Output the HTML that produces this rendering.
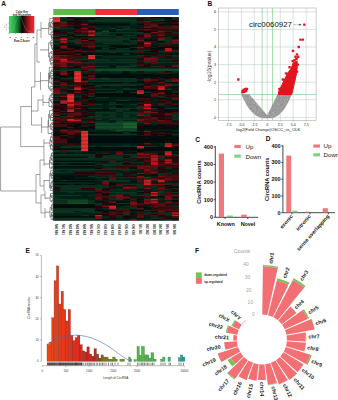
<!DOCTYPE html>
<html><head><meta charset="utf-8"><title>Figure</title>
<style>html,body{margin:0;padding:0;background:#fff;}body{width:338px;height:400px;overflow:hidden;}svg{display:block;}</style>
</head><body>
<svg width="338" height="400" viewBox="0 0 338 400">
<defs>
<filter id="bl" x="-2%" y="-2%" width="104%" height="104%"><feGaussianBlur stdDeviation="0.6"/></filter>
<linearGradient id="ck" x1="0" x2="1" y1="0" y2="0"><stop offset="0" stop-color="#4ad466"/><stop offset="0.2" stop-color="#2bb04a"/><stop offset="0.4" stop-color="#116024"/><stop offset="0.52" stop-color="#050505"/><stop offset="0.7" stop-color="#7a1014"/><stop offset="0.88" stop-color="#e01c24"/><stop offset="1" stop-color="#f02830"/></linearGradient>
</defs>
<rect width="338" height="400" fill="#fff"/>
<g filter="url(#bl)">
<rect x="53.3" y="17.0" width="125.50" height="203.50" fill="#0a1e12"/>
<rect x="53.30" y="17.00" width="7.02" height="1.41" fill="rgb(240, 46, 48)"/>
<rect x="60.27" y="17.00" width="7.02" height="1.41" fill="rgb(8, 50, 33)"/>
<rect x="67.24" y="17.00" width="7.02" height="1.41" fill="rgb(42, 6, 10)"/>
<rect x="74.22" y="17.00" width="20.97" height="1.41" fill="rgb(8, 50, 33)"/>
<rect x="95.13" y="17.00" width="7.02" height="1.41" fill="rgb(6, 33, 23)"/>
<rect x="102.11" y="17.00" width="41.88" height="1.41" fill="rgb(8, 50, 33)"/>
<rect x="143.94" y="17.00" width="7.02" height="1.41" fill="rgb(78, 10, 15)"/>
<rect x="150.91" y="17.00" width="7.02" height="1.41" fill="rgb(42, 6, 10)"/>
<rect x="157.88" y="17.00" width="7.02" height="1.41" fill="rgb(4, 10, 8)"/>
<rect x="164.86" y="17.00" width="7.02" height="1.41" fill="rgb(42, 6, 10)"/>
<rect x="171.83" y="17.00" width="7.02" height="1.41" fill="rgb(8, 50, 33)"/>
<rect x="53.30" y="18.36" width="7.02" height="1.41" fill="rgb(240, 46, 48)"/>
<rect x="60.27" y="18.36" width="7.02" height="1.41" fill="rgb(8, 50, 33)"/>
<rect x="67.24" y="18.36" width="7.02" height="1.41" fill="rgb(78, 10, 15)"/>
<rect x="74.22" y="18.36" width="7.02" height="1.41" fill="rgb(4, 10, 8)"/>
<rect x="81.19" y="18.36" width="7.02" height="1.41" fill="rgb(42, 6, 10)"/>
<rect x="88.16" y="18.36" width="7.02" height="1.41" fill="rgb(4, 10, 8)"/>
<rect x="95.13" y="18.36" width="41.88" height="1.41" fill="rgb(8, 50, 33)"/>
<rect x="136.97" y="18.36" width="7.02" height="1.41" fill="rgb(42, 6, 10)"/>
<rect x="143.94" y="18.36" width="7.02" height="1.41" fill="rgb(8, 50, 33)"/>
<rect x="150.91" y="18.36" width="7.02" height="1.41" fill="rgb(78, 10, 15)"/>
<rect x="157.88" y="18.36" width="7.02" height="1.41" fill="rgb(8, 50, 33)"/>
<rect x="164.86" y="18.36" width="7.02" height="1.41" fill="rgb(4, 10, 8)"/>
<rect x="171.83" y="18.36" width="7.02" height="1.41" fill="rgb(8, 50, 33)"/>
<rect x="53.30" y="19.71" width="7.02" height="1.41" fill="rgb(240, 46, 48)"/>
<rect x="60.27" y="19.71" width="13.99" height="1.41" fill="rgb(6, 33, 23)"/>
<rect x="74.22" y="19.71" width="7.02" height="1.41" fill="rgb(42, 6, 10)"/>
<rect x="81.19" y="19.71" width="7.02" height="1.41" fill="rgb(6, 33, 23)"/>
<rect x="88.16" y="19.71" width="48.86" height="1.41" fill="rgb(8, 50, 33)"/>
<rect x="136.97" y="19.71" width="7.02" height="1.41" fill="rgb(42, 6, 10)"/>
<rect x="143.94" y="19.71" width="7.02" height="1.41" fill="rgb(6, 33, 23)"/>
<rect x="150.91" y="19.71" width="13.99" height="1.41" fill="rgb(8, 50, 33)"/>
<rect x="164.86" y="19.71" width="7.02" height="1.41" fill="rgb(6, 33, 23)"/>
<rect x="171.83" y="19.71" width="7.02" height="1.41" fill="rgb(42, 6, 10)"/>
<rect x="53.30" y="21.07" width="7.02" height="1.41" fill="rgb(240, 46, 48)"/>
<rect x="60.27" y="21.07" width="7.02" height="1.41" fill="rgb(8, 50, 33)"/>
<rect x="67.24" y="21.07" width="7.02" height="1.41" fill="rgb(4, 10, 8)"/>
<rect x="74.22" y="21.07" width="13.99" height="1.41" fill="rgb(42, 6, 10)"/>
<rect x="88.16" y="21.07" width="48.86" height="1.41" fill="rgb(8, 50, 33)"/>
<rect x="136.97" y="21.07" width="7.02" height="1.41" fill="rgb(78, 10, 15)"/>
<rect x="143.94" y="21.07" width="7.02" height="1.41" fill="rgb(128, 14, 20)"/>
<rect x="150.91" y="21.07" width="13.99" height="1.41" fill="rgb(42, 6, 10)"/>
<rect x="164.86" y="21.07" width="7.02" height="1.41" fill="rgb(4, 10, 8)"/>
<rect x="171.83" y="21.07" width="7.02" height="1.41" fill="rgb(42, 6, 10)"/>
<rect x="53.30" y="22.43" width="7.02" height="1.41" fill="rgb(42, 6, 10)"/>
<rect x="60.27" y="22.43" width="7.02" height="1.41" fill="rgb(128, 14, 20)"/>
<rect x="67.24" y="22.43" width="7.02" height="1.41" fill="rgb(42, 6, 10)"/>
<rect x="74.22" y="22.43" width="7.02" height="1.41" fill="rgb(4, 10, 8)"/>
<rect x="81.19" y="22.43" width="13.99" height="1.41" fill="rgb(42, 6, 10)"/>
<rect x="95.13" y="22.43" width="34.91" height="1.41" fill="rgb(6, 33, 23)"/>
<rect x="129.99" y="22.43" width="7.02" height="1.41" fill="rgb(8, 50, 33)"/>
<rect x="136.97" y="22.43" width="7.02" height="1.41" fill="rgb(6, 33, 23)"/>
<rect x="143.94" y="22.43" width="7.02" height="1.41" fill="rgb(78, 10, 15)"/>
<rect x="150.91" y="22.43" width="7.02" height="1.41" fill="rgb(6, 33, 23)"/>
<rect x="157.88" y="22.43" width="7.02" height="1.41" fill="rgb(78, 10, 15)"/>
<rect x="164.86" y="22.43" width="7.02" height="1.41" fill="rgb(6, 33, 23)"/>
<rect x="171.83" y="22.43" width="7.02" height="1.41" fill="rgb(78, 10, 15)"/>
<rect x="53.30" y="23.78" width="13.99" height="1.41" fill="rgb(78, 10, 15)"/>
<rect x="67.24" y="23.78" width="13.99" height="1.41" fill="rgb(42, 6, 10)"/>
<rect x="81.19" y="23.78" width="7.02" height="1.41" fill="rgb(128, 14, 20)"/>
<rect x="88.16" y="23.78" width="41.88" height="1.41" fill="rgb(4, 10, 8)"/>
<rect x="129.99" y="23.78" width="7.02" height="1.41" fill="rgb(6, 33, 23)"/>
<rect x="136.97" y="23.78" width="7.02" height="1.41" fill="rgb(4, 10, 8)"/>
<rect x="143.94" y="23.78" width="13.99" height="1.41" fill="rgb(78, 10, 15)"/>
<rect x="157.88" y="23.78" width="20.97" height="1.41" fill="rgb(4, 10, 8)"/>
<rect x="53.30" y="25.14" width="7.02" height="1.41" fill="rgb(78, 10, 15)"/>
<rect x="60.27" y="25.14" width="7.02" height="1.41" fill="rgb(128, 14, 20)"/>
<rect x="67.24" y="25.14" width="7.02" height="1.41" fill="rgb(78, 10, 15)"/>
<rect x="74.22" y="25.14" width="7.02" height="1.41" fill="rgb(42, 6, 10)"/>
<rect x="81.19" y="25.14" width="7.02" height="1.41" fill="rgb(6, 33, 23)"/>
<rect x="88.16" y="25.14" width="7.02" height="1.41" fill="rgb(42, 6, 10)"/>
<rect x="95.13" y="25.14" width="55.83" height="1.41" fill="rgb(6, 33, 23)"/>
<rect x="150.91" y="25.14" width="7.02" height="1.41" fill="rgb(128, 14, 20)"/>
<rect x="157.88" y="25.14" width="7.02" height="1.41" fill="rgb(42, 6, 10)"/>
<rect x="164.86" y="25.14" width="7.02" height="1.41" fill="rgb(6, 33, 23)"/>
<rect x="171.83" y="25.14" width="7.02" height="1.41" fill="rgb(78, 10, 15)"/>
<rect x="53.30" y="26.50" width="7.02" height="1.41" fill="rgb(128, 14, 20)"/>
<rect x="60.27" y="26.50" width="7.02" height="1.41" fill="rgb(78, 10, 15)"/>
<rect x="67.24" y="26.50" width="7.02" height="1.41" fill="rgb(6, 33, 23)"/>
<rect x="74.22" y="26.50" width="7.02" height="1.41" fill="rgb(4, 10, 8)"/>
<rect x="81.19" y="26.50" width="7.02" height="1.41" fill="rgb(6, 33, 23)"/>
<rect x="88.16" y="26.50" width="7.02" height="1.41" fill="rgb(78, 10, 15)"/>
<rect x="95.13" y="26.50" width="20.97" height="1.41" fill="rgb(6, 33, 23)"/>
<rect x="116.05" y="26.50" width="13.99" height="1.41" fill="rgb(8, 50, 33)"/>
<rect x="129.99" y="26.50" width="13.99" height="1.41" fill="rgb(6, 33, 23)"/>
<rect x="143.94" y="26.50" width="7.02" height="1.41" fill="rgb(128, 14, 20)"/>
<rect x="150.91" y="26.50" width="20.97" height="1.41" fill="rgb(78, 10, 15)"/>
<rect x="171.83" y="26.50" width="7.02" height="1.41" fill="rgb(128, 14, 20)"/>
<rect x="53.30" y="27.85" width="20.97" height="1.41" fill="rgb(8, 50, 33)"/>
<rect x="74.22" y="27.85" width="7.02" height="1.41" fill="rgb(42, 6, 10)"/>
<rect x="81.19" y="27.85" width="7.02" height="1.41" fill="rgb(128, 14, 20)"/>
<rect x="88.16" y="27.85" width="7.02" height="1.41" fill="rgb(42, 6, 10)"/>
<rect x="95.13" y="27.85" width="7.02" height="1.41" fill="rgb(8, 50, 33)"/>
<rect x="102.11" y="27.85" width="7.02" height="1.41" fill="rgb(6, 33, 23)"/>
<rect x="109.08" y="27.85" width="7.02" height="1.41" fill="rgb(8, 50, 33)"/>
<rect x="116.05" y="27.85" width="7.02" height="1.41" fill="rgb(4, 10, 8)"/>
<rect x="123.02" y="27.85" width="7.02" height="1.41" fill="rgb(8, 50, 33)"/>
<rect x="129.99" y="27.85" width="7.02" height="1.41" fill="rgb(6, 33, 23)"/>
<rect x="136.97" y="27.85" width="20.97" height="1.41" fill="rgb(42, 6, 10)"/>
<rect x="157.88" y="27.85" width="20.97" height="1.41" fill="rgb(78, 10, 15)"/>
<rect x="53.30" y="29.21" width="20.97" height="1.41" fill="rgb(6, 33, 23)"/>
<rect x="74.22" y="29.21" width="7.02" height="1.41" fill="rgb(78, 10, 15)"/>
<rect x="81.19" y="29.21" width="13.99" height="1.41" fill="rgb(42, 6, 10)"/>
<rect x="95.13" y="29.21" width="20.97" height="1.41" fill="rgb(6, 33, 23)"/>
<rect x="116.05" y="29.21" width="7.02" height="1.41" fill="rgb(16, 76, 42)"/>
<rect x="123.02" y="29.21" width="13.99" height="1.41" fill="rgb(8, 50, 33)"/>
<rect x="136.97" y="29.21" width="7.02" height="1.41" fill="rgb(78, 10, 15)"/>
<rect x="143.94" y="29.21" width="7.02" height="1.41" fill="rgb(128, 14, 20)"/>
<rect x="150.91" y="29.21" width="7.02" height="1.41" fill="rgb(6, 33, 23)"/>
<rect x="157.88" y="29.21" width="7.02" height="1.41" fill="rgb(42, 6, 10)"/>
<rect x="164.86" y="29.21" width="13.99" height="1.41" fill="rgb(6, 33, 23)"/>
<rect x="53.30" y="30.57" width="7.02" height="1.41" fill="rgb(4, 10, 8)"/>
<rect x="60.27" y="30.57" width="13.99" height="1.41" fill="rgb(6, 33, 23)"/>
<rect x="74.22" y="30.57" width="7.02" height="1.41" fill="rgb(78, 10, 15)"/>
<rect x="81.19" y="30.57" width="7.02" height="1.41" fill="rgb(128, 14, 20)"/>
<rect x="88.16" y="30.57" width="7.02" height="1.41" fill="rgb(212, 28, 34)"/>
<rect x="95.13" y="30.57" width="7.02" height="1.41" fill="rgb(6, 33, 23)"/>
<rect x="102.11" y="30.57" width="7.02" height="1.41" fill="rgb(16, 76, 42)"/>
<rect x="109.08" y="30.57" width="7.02" height="1.41" fill="rgb(4, 10, 8)"/>
<rect x="116.05" y="30.57" width="20.97" height="1.41" fill="rgb(6, 33, 23)"/>
<rect x="136.97" y="30.57" width="13.99" height="1.41" fill="rgb(4, 10, 8)"/>
<rect x="150.91" y="30.57" width="7.02" height="1.41" fill="rgb(42, 6, 10)"/>
<rect x="157.88" y="30.57" width="7.02" height="1.41" fill="rgb(128, 14, 20)"/>
<rect x="164.86" y="30.57" width="7.02" height="1.41" fill="rgb(78, 10, 15)"/>
<rect x="171.83" y="30.57" width="7.02" height="1.41" fill="rgb(42, 6, 10)"/>
<rect x="53.30" y="31.92" width="13.99" height="1.41" fill="rgb(42, 6, 10)"/>
<rect x="67.24" y="31.92" width="7.02" height="1.41" fill="rgb(8, 50, 33)"/>
<rect x="74.22" y="31.92" width="7.02" height="1.41" fill="rgb(42, 6, 10)"/>
<rect x="81.19" y="31.92" width="7.02" height="1.41" fill="rgb(78, 10, 15)"/>
<rect x="88.16" y="31.92" width="7.02" height="1.41" fill="rgb(128, 14, 20)"/>
<rect x="95.13" y="31.92" width="48.86" height="1.41" fill="rgb(8, 50, 33)"/>
<rect x="143.94" y="31.92" width="7.02" height="1.41" fill="rgb(4, 10, 8)"/>
<rect x="150.91" y="31.92" width="7.02" height="1.41" fill="rgb(128, 14, 20)"/>
<rect x="157.88" y="31.92" width="7.02" height="1.41" fill="rgb(78, 10, 15)"/>
<rect x="164.86" y="31.92" width="7.02" height="1.41" fill="rgb(42, 6, 10)"/>
<rect x="171.83" y="31.92" width="7.02" height="1.41" fill="rgb(8, 50, 33)"/>
<rect x="53.30" y="33.28" width="7.02" height="1.41" fill="rgb(42, 6, 10)"/>
<rect x="60.27" y="33.28" width="7.02" height="1.41" fill="rgb(6, 33, 23)"/>
<rect x="67.24" y="33.28" width="7.02" height="1.41" fill="rgb(78, 10, 15)"/>
<rect x="74.22" y="33.28" width="7.02" height="1.41" fill="rgb(42, 6, 10)"/>
<rect x="81.19" y="33.28" width="7.02" height="1.41" fill="rgb(6, 33, 23)"/>
<rect x="88.16" y="33.28" width="7.02" height="1.41" fill="rgb(128, 14, 20)"/>
<rect x="95.13" y="33.28" width="7.02" height="1.41" fill="rgb(16, 76, 42)"/>
<rect x="102.11" y="33.28" width="7.02" height="1.41" fill="rgb(8, 50, 33)"/>
<rect x="109.08" y="33.28" width="27.94" height="1.41" fill="rgb(6, 33, 23)"/>
<rect x="136.97" y="33.28" width="7.02" height="1.41" fill="rgb(8, 50, 33)"/>
<rect x="143.94" y="33.28" width="7.02" height="1.41" fill="rgb(128, 14, 20)"/>
<rect x="150.91" y="33.28" width="7.02" height="1.41" fill="rgb(42, 6, 10)"/>
<rect x="157.88" y="33.28" width="7.02" height="1.41" fill="rgb(78, 10, 15)"/>
<rect x="164.86" y="33.28" width="7.02" height="1.41" fill="rgb(6, 33, 23)"/>
<rect x="171.83" y="33.28" width="7.02" height="1.41" fill="rgb(78, 10, 15)"/>
<rect x="53.30" y="34.64" width="7.02" height="1.41" fill="rgb(78, 10, 15)"/>
<rect x="60.27" y="34.64" width="7.02" height="1.41" fill="rgb(8, 50, 33)"/>
<rect x="67.24" y="34.64" width="7.02" height="1.41" fill="rgb(4, 10, 8)"/>
<rect x="74.22" y="34.64" width="13.99" height="1.41" fill="rgb(8, 50, 33)"/>
<rect x="88.16" y="34.64" width="7.02" height="1.41" fill="rgb(212, 28, 34)"/>
<rect x="95.13" y="34.64" width="20.97" height="1.41" fill="rgb(8, 50, 33)"/>
<rect x="116.05" y="34.64" width="7.02" height="1.41" fill="rgb(4, 10, 8)"/>
<rect x="123.02" y="34.64" width="13.99" height="1.41" fill="rgb(8, 50, 33)"/>
<rect x="136.97" y="34.64" width="7.02" height="1.41" fill="rgb(42, 6, 10)"/>
<rect x="143.94" y="34.64" width="7.02" height="1.41" fill="rgb(128, 14, 20)"/>
<rect x="150.91" y="34.64" width="7.02" height="1.41" fill="rgb(6, 33, 23)"/>
<rect x="157.88" y="34.64" width="7.02" height="1.41" fill="rgb(128, 14, 20)"/>
<rect x="164.86" y="34.64" width="13.99" height="1.41" fill="rgb(42, 6, 10)"/>
<rect x="53.30" y="35.99" width="7.02" height="1.41" fill="rgb(8, 50, 33)"/>
<rect x="60.27" y="35.99" width="7.02" height="1.41" fill="rgb(4, 10, 8)"/>
<rect x="67.24" y="35.99" width="7.02" height="1.41" fill="rgb(6, 33, 23)"/>
<rect x="74.22" y="35.99" width="13.99" height="1.41" fill="rgb(4, 10, 8)"/>
<rect x="88.16" y="35.99" width="7.02" height="1.41" fill="rgb(42, 6, 10)"/>
<rect x="95.13" y="35.99" width="20.97" height="1.41" fill="rgb(6, 33, 23)"/>
<rect x="116.05" y="35.99" width="7.02" height="1.41" fill="rgb(8, 50, 33)"/>
<rect x="123.02" y="35.99" width="13.99" height="1.41" fill="rgb(6, 33, 23)"/>
<rect x="136.97" y="35.99" width="7.02" height="1.41" fill="rgb(42, 6, 10)"/>
<rect x="143.94" y="35.99" width="7.02" height="1.41" fill="rgb(128, 14, 20)"/>
<rect x="150.91" y="35.99" width="7.02" height="1.41" fill="rgb(6, 33, 23)"/>
<rect x="157.88" y="35.99" width="7.02" height="1.41" fill="rgb(42, 6, 10)"/>
<rect x="164.86" y="35.99" width="13.99" height="1.41" fill="rgb(6, 33, 23)"/>
<rect x="53.30" y="37.35" width="7.02" height="1.41" fill="rgb(42, 6, 10)"/>
<rect x="60.27" y="37.35" width="7.02" height="1.41" fill="rgb(128, 14, 20)"/>
<rect x="67.24" y="37.35" width="7.02" height="1.41" fill="rgb(8, 50, 33)"/>
<rect x="74.22" y="37.35" width="7.02" height="1.41" fill="rgb(42, 6, 10)"/>
<rect x="81.19" y="37.35" width="7.02" height="1.41" fill="rgb(78, 10, 15)"/>
<rect x="88.16" y="37.35" width="48.86" height="1.41" fill="rgb(8, 50, 33)"/>
<rect x="136.97" y="37.35" width="7.02" height="1.41" fill="rgb(78, 10, 15)"/>
<rect x="143.94" y="37.35" width="7.02" height="1.41" fill="rgb(8, 50, 33)"/>
<rect x="150.91" y="37.35" width="7.02" height="1.41" fill="rgb(42, 6, 10)"/>
<rect x="157.88" y="37.35" width="7.02" height="1.41" fill="rgb(128, 14, 20)"/>
<rect x="164.86" y="37.35" width="7.02" height="1.41" fill="rgb(8, 50, 33)"/>
<rect x="171.83" y="37.35" width="7.02" height="1.41" fill="rgb(4, 10, 8)"/>
<rect x="53.30" y="38.71" width="7.02" height="1.41" fill="rgb(8, 50, 33)"/>
<rect x="60.27" y="38.71" width="7.02" height="1.41" fill="rgb(212, 28, 34)"/>
<rect x="67.24" y="38.71" width="7.02" height="1.41" fill="rgb(42, 6, 10)"/>
<rect x="74.22" y="38.71" width="7.02" height="1.41" fill="rgb(8, 50, 33)"/>
<rect x="81.19" y="38.71" width="7.02" height="1.41" fill="rgb(4, 10, 8)"/>
<rect x="88.16" y="38.71" width="41.88" height="1.41" fill="rgb(8, 50, 33)"/>
<rect x="129.99" y="38.71" width="7.02" height="1.41" fill="rgb(4, 10, 8)"/>
<rect x="136.97" y="38.71" width="7.02" height="1.41" fill="rgb(78, 10, 15)"/>
<rect x="143.94" y="38.71" width="13.99" height="1.41" fill="rgb(42, 6, 10)"/>
<rect x="157.88" y="38.71" width="7.02" height="1.41" fill="rgb(128, 14, 20)"/>
<rect x="164.86" y="38.71" width="13.99" height="1.41" fill="rgb(78, 10, 15)"/>
<rect x="53.30" y="40.06" width="7.02" height="1.41" fill="rgb(8, 50, 33)"/>
<rect x="60.27" y="40.06" width="7.02" height="1.41" fill="rgb(128, 14, 20)"/>
<rect x="67.24" y="40.06" width="13.99" height="1.41" fill="rgb(8, 50, 33)"/>
<rect x="81.19" y="40.06" width="7.02" height="1.41" fill="rgb(128, 14, 20)"/>
<rect x="88.16" y="40.06" width="7.02" height="1.41" fill="rgb(42, 6, 10)"/>
<rect x="95.13" y="40.06" width="27.94" height="1.41" fill="rgb(8, 50, 33)"/>
<rect x="123.02" y="40.06" width="7.02" height="1.41" fill="rgb(6, 33, 23)"/>
<rect x="129.99" y="40.06" width="7.02" height="1.41" fill="rgb(8, 50, 33)"/>
<rect x="136.97" y="40.06" width="7.02" height="1.41" fill="rgb(128, 14, 20)"/>
<rect x="143.94" y="40.06" width="7.02" height="1.41" fill="rgb(4, 10, 8)"/>
<rect x="150.91" y="40.06" width="7.02" height="1.41" fill="rgb(42, 6, 10)"/>
<rect x="157.88" y="40.06" width="13.99" height="1.41" fill="rgb(8, 50, 33)"/>
<rect x="171.83" y="40.06" width="7.02" height="1.41" fill="rgb(128, 14, 20)"/>
<rect x="53.30" y="41.42" width="7.02" height="1.41" fill="rgb(42, 6, 10)"/>
<rect x="60.27" y="41.42" width="7.02" height="1.41" fill="rgb(212, 28, 34)"/>
<rect x="67.24" y="41.42" width="7.02" height="1.41" fill="rgb(8, 50, 33)"/>
<rect x="74.22" y="41.42" width="7.02" height="1.41" fill="rgb(128, 14, 20)"/>
<rect x="81.19" y="41.42" width="7.02" height="1.41" fill="rgb(42, 6, 10)"/>
<rect x="88.16" y="41.42" width="7.02" height="1.41" fill="rgb(78, 10, 15)"/>
<rect x="95.13" y="41.42" width="27.94" height="1.41" fill="rgb(8, 50, 33)"/>
<rect x="123.02" y="41.42" width="7.02" height="1.41" fill="rgb(6, 33, 23)"/>
<rect x="129.99" y="41.42" width="7.02" height="1.41" fill="rgb(8, 50, 33)"/>
<rect x="136.97" y="41.42" width="7.02" height="1.41" fill="rgb(6, 33, 23)"/>
<rect x="143.94" y="41.42" width="7.02" height="1.41" fill="rgb(128, 14, 20)"/>
<rect x="150.91" y="41.42" width="7.02" height="1.41" fill="rgb(78, 10, 15)"/>
<rect x="157.88" y="41.42" width="7.02" height="1.41" fill="rgb(4, 10, 8)"/>
<rect x="164.86" y="41.42" width="7.02" height="1.41" fill="rgb(8, 50, 33)"/>
<rect x="171.83" y="41.42" width="7.02" height="1.41" fill="rgb(128, 14, 20)"/>
<rect x="53.30" y="42.78" width="7.02" height="1.41" fill="rgb(8, 50, 33)"/>
<rect x="60.27" y="42.78" width="7.02" height="1.41" fill="rgb(42, 6, 10)"/>
<rect x="67.24" y="42.78" width="7.02" height="1.41" fill="rgb(4, 10, 8)"/>
<rect x="74.22" y="42.78" width="7.02" height="1.41" fill="rgb(8, 50, 33)"/>
<rect x="81.19" y="42.78" width="13.99" height="1.41" fill="rgb(78, 10, 15)"/>
<rect x="95.13" y="42.78" width="7.02" height="1.41" fill="rgb(6, 33, 23)"/>
<rect x="102.11" y="42.78" width="34.91" height="1.41" fill="rgb(8, 50, 33)"/>
<rect x="136.97" y="42.78" width="7.02" height="1.41" fill="rgb(4, 10, 8)"/>
<rect x="143.94" y="42.78" width="7.02" height="1.41" fill="rgb(212, 28, 34)"/>
<rect x="150.91" y="42.78" width="7.02" height="1.41" fill="rgb(6, 33, 23)"/>
<rect x="157.88" y="42.78" width="7.02" height="1.41" fill="rgb(8, 50, 33)"/>
<rect x="164.86" y="42.78" width="7.02" height="1.41" fill="rgb(78, 10, 15)"/>
<rect x="171.83" y="42.78" width="7.02" height="1.41" fill="rgb(8, 50, 33)"/>
<rect x="53.30" y="44.13" width="7.02" height="1.41" fill="rgb(6, 33, 23)"/>
<rect x="60.27" y="44.13" width="7.02" height="1.41" fill="rgb(42, 6, 10)"/>
<rect x="67.24" y="44.13" width="13.99" height="1.41" fill="rgb(6, 33, 23)"/>
<rect x="81.19" y="44.13" width="7.02" height="1.41" fill="rgb(42, 6, 10)"/>
<rect x="88.16" y="44.13" width="7.02" height="1.41" fill="rgb(78, 10, 15)"/>
<rect x="95.13" y="44.13" width="27.94" height="1.41" fill="rgb(6, 33, 23)"/>
<rect x="123.02" y="44.13" width="7.02" height="1.41" fill="rgb(8, 50, 33)"/>
<rect x="129.99" y="44.13" width="7.02" height="1.41" fill="rgb(6, 33, 23)"/>
<rect x="136.97" y="44.13" width="7.02" height="1.41" fill="rgb(42, 6, 10)"/>
<rect x="143.94" y="44.13" width="7.02" height="1.41" fill="rgb(128, 14, 20)"/>
<rect x="150.91" y="44.13" width="13.99" height="1.41" fill="rgb(6, 33, 23)"/>
<rect x="164.86" y="44.13" width="7.02" height="1.41" fill="rgb(78, 10, 15)"/>
<rect x="171.83" y="44.13" width="7.02" height="1.41" fill="rgb(6, 33, 23)"/>
<rect x="53.30" y="45.49" width="7.02" height="1.41" fill="rgb(42, 6, 10)"/>
<rect x="60.27" y="45.49" width="7.02" height="1.41" fill="rgb(128, 14, 20)"/>
<rect x="67.24" y="45.49" width="13.99" height="1.41" fill="rgb(4, 10, 8)"/>
<rect x="81.19" y="45.49" width="7.02" height="1.41" fill="rgb(78, 10, 15)"/>
<rect x="88.16" y="45.49" width="7.02" height="1.41" fill="rgb(128, 14, 20)"/>
<rect x="95.13" y="45.49" width="13.99" height="1.41" fill="rgb(8, 50, 33)"/>
<rect x="109.08" y="45.49" width="27.94" height="1.41" fill="rgb(4, 10, 8)"/>
<rect x="136.97" y="45.49" width="7.02" height="1.41" fill="rgb(42, 6, 10)"/>
<rect x="143.94" y="45.49" width="7.02" height="1.41" fill="rgb(128, 14, 20)"/>
<rect x="150.91" y="45.49" width="7.02" height="1.41" fill="rgb(4, 10, 8)"/>
<rect x="157.88" y="45.49" width="7.02" height="1.41" fill="rgb(78, 10, 15)"/>
<rect x="164.86" y="45.49" width="13.99" height="1.41" fill="rgb(42, 6, 10)"/>
<rect x="53.30" y="46.85" width="7.02" height="1.41" fill="rgb(4, 10, 8)"/>
<rect x="60.27" y="46.85" width="7.02" height="1.41" fill="rgb(128, 14, 20)"/>
<rect x="67.24" y="46.85" width="20.97" height="1.41" fill="rgb(4, 10, 8)"/>
<rect x="88.16" y="46.85" width="7.02" height="1.41" fill="rgb(78, 10, 15)"/>
<rect x="95.13" y="46.85" width="7.02" height="1.41" fill="rgb(4, 10, 8)"/>
<rect x="102.11" y="46.85" width="13.99" height="1.41" fill="rgb(6, 33, 23)"/>
<rect x="116.05" y="46.85" width="13.99" height="1.41" fill="rgb(4, 10, 8)"/>
<rect x="129.99" y="46.85" width="7.02" height="1.41" fill="rgb(8, 50, 33)"/>
<rect x="136.97" y="46.85" width="7.02" height="1.41" fill="rgb(128, 14, 20)"/>
<rect x="143.94" y="46.85" width="7.02" height="1.41" fill="rgb(4, 10, 8)"/>
<rect x="150.91" y="46.85" width="7.02" height="1.41" fill="rgb(6, 33, 23)"/>
<rect x="157.88" y="46.85" width="20.97" height="1.41" fill="rgb(4, 10, 8)"/>
<rect x="53.30" y="48.20" width="7.02" height="1.41" fill="rgb(4, 10, 8)"/>
<rect x="60.27" y="48.20" width="13.99" height="1.41" fill="rgb(78, 10, 15)"/>
<rect x="74.22" y="48.20" width="13.99" height="1.41" fill="rgb(4, 10, 8)"/>
<rect x="88.16" y="48.20" width="7.02" height="1.41" fill="rgb(42, 6, 10)"/>
<rect x="95.13" y="48.20" width="7.02" height="1.41" fill="rgb(4, 10, 8)"/>
<rect x="102.11" y="48.20" width="7.02" height="1.41" fill="rgb(8, 50, 33)"/>
<rect x="109.08" y="48.20" width="7.02" height="1.41" fill="rgb(4, 10, 8)"/>
<rect x="116.05" y="48.20" width="13.99" height="1.41" fill="rgb(8, 50, 33)"/>
<rect x="129.99" y="48.20" width="7.02" height="1.41" fill="rgb(4, 10, 8)"/>
<rect x="136.97" y="48.20" width="7.02" height="1.41" fill="rgb(78, 10, 15)"/>
<rect x="143.94" y="48.20" width="7.02" height="1.41" fill="rgb(42, 6, 10)"/>
<rect x="150.91" y="48.20" width="13.99" height="1.41" fill="rgb(4, 10, 8)"/>
<rect x="164.86" y="48.20" width="7.02" height="1.41" fill="rgb(212, 28, 34)"/>
<rect x="171.83" y="48.20" width="7.02" height="1.41" fill="rgb(4, 10, 8)"/>
<rect x="53.30" y="49.56" width="7.02" height="1.41" fill="rgb(78, 10, 15)"/>
<rect x="60.27" y="49.56" width="7.02" height="1.41" fill="rgb(4, 10, 8)"/>
<rect x="67.24" y="49.56" width="7.02" height="1.41" fill="rgb(42, 6, 10)"/>
<rect x="74.22" y="49.56" width="7.02" height="1.41" fill="rgb(78, 10, 15)"/>
<rect x="81.19" y="49.56" width="13.99" height="1.41" fill="rgb(42, 6, 10)"/>
<rect x="95.13" y="49.56" width="34.91" height="1.41" fill="rgb(8, 50, 33)"/>
<rect x="129.99" y="49.56" width="7.02" height="1.41" fill="rgb(6, 33, 23)"/>
<rect x="136.97" y="49.56" width="13.99" height="1.41" fill="rgb(8, 50, 33)"/>
<rect x="150.91" y="49.56" width="13.99" height="1.41" fill="rgb(42, 6, 10)"/>
<rect x="164.86" y="49.56" width="7.02" height="1.41" fill="rgb(212, 28, 34)"/>
<rect x="171.83" y="49.56" width="7.02" height="1.41" fill="rgb(78, 10, 15)"/>
<rect x="53.30" y="50.92" width="7.02" height="1.41" fill="rgb(42, 6, 10)"/>
<rect x="60.27" y="50.92" width="20.97" height="1.41" fill="rgb(78, 10, 15)"/>
<rect x="81.19" y="50.92" width="7.02" height="1.41" fill="rgb(8, 50, 33)"/>
<rect x="88.16" y="50.92" width="7.02" height="1.41" fill="rgb(78, 10, 15)"/>
<rect x="95.13" y="50.92" width="41.88" height="1.41" fill="rgb(8, 50, 33)"/>
<rect x="136.97" y="50.92" width="7.02" height="1.41" fill="rgb(78, 10, 15)"/>
<rect x="143.94" y="50.92" width="7.02" height="1.41" fill="rgb(42, 6, 10)"/>
<rect x="150.91" y="50.92" width="7.02" height="1.41" fill="rgb(4, 10, 8)"/>
<rect x="157.88" y="50.92" width="7.02" height="1.41" fill="rgb(8, 50, 33)"/>
<rect x="164.86" y="50.92" width="7.02" height="1.41" fill="rgb(128, 14, 20)"/>
<rect x="171.83" y="50.92" width="7.02" height="1.41" fill="rgb(8, 50, 33)"/>
<rect x="53.30" y="52.27" width="13.99" height="1.41" fill="rgb(78, 10, 15)"/>
<rect x="67.24" y="52.27" width="7.02" height="1.41" fill="rgb(42, 6, 10)"/>
<rect x="74.22" y="52.27" width="7.02" height="1.41" fill="rgb(4, 10, 8)"/>
<rect x="81.19" y="52.27" width="13.99" height="1.41" fill="rgb(42, 6, 10)"/>
<rect x="95.13" y="52.27" width="13.99" height="1.41" fill="rgb(6, 33, 23)"/>
<rect x="109.08" y="52.27" width="7.02" height="1.41" fill="rgb(8, 50, 33)"/>
<rect x="116.05" y="52.27" width="20.97" height="1.41" fill="rgb(6, 33, 23)"/>
<rect x="136.97" y="52.27" width="7.02" height="1.41" fill="rgb(78, 10, 15)"/>
<rect x="143.94" y="52.27" width="7.02" height="1.41" fill="rgb(6, 33, 23)"/>
<rect x="150.91" y="52.27" width="7.02" height="1.41" fill="rgb(42, 6, 10)"/>
<rect x="157.88" y="52.27" width="20.97" height="1.41" fill="rgb(6, 33, 23)"/>
<rect x="53.30" y="53.63" width="7.02" height="1.41" fill="rgb(42, 6, 10)"/>
<rect x="60.27" y="53.63" width="7.02" height="1.41" fill="rgb(4, 10, 8)"/>
<rect x="67.24" y="53.63" width="7.02" height="1.41" fill="rgb(42, 6, 10)"/>
<rect x="74.22" y="53.63" width="7.02" height="1.41" fill="rgb(78, 10, 15)"/>
<rect x="81.19" y="53.63" width="41.88" height="1.41" fill="rgb(4, 10, 8)"/>
<rect x="123.02" y="53.63" width="7.02" height="1.41" fill="rgb(8, 50, 33)"/>
<rect x="129.99" y="53.63" width="20.97" height="1.41" fill="rgb(4, 10, 8)"/>
<rect x="150.91" y="53.63" width="7.02" height="1.41" fill="rgb(42, 6, 10)"/>
<rect x="157.88" y="53.63" width="7.02" height="1.41" fill="rgb(6, 33, 23)"/>
<rect x="164.86" y="53.63" width="7.02" height="1.41" fill="rgb(42, 6, 10)"/>
<rect x="171.83" y="53.63" width="7.02" height="1.41" fill="rgb(4, 10, 8)"/>
<rect x="53.30" y="54.99" width="13.99" height="1.41" fill="rgb(128, 14, 20)"/>
<rect x="67.24" y="54.99" width="7.02" height="1.41" fill="rgb(78, 10, 15)"/>
<rect x="74.22" y="54.99" width="13.99" height="1.41" fill="rgb(42, 6, 10)"/>
<rect x="88.16" y="54.99" width="7.02" height="1.41" fill="rgb(240, 46, 48)"/>
<rect x="95.13" y="54.99" width="7.02" height="1.41" fill="rgb(8, 50, 33)"/>
<rect x="102.11" y="54.99" width="34.91" height="1.41" fill="rgb(6, 33, 23)"/>
<rect x="136.97" y="54.99" width="7.02" height="1.41" fill="rgb(8, 50, 33)"/>
<rect x="143.94" y="54.99" width="20.97" height="1.41" fill="rgb(6, 33, 23)"/>
<rect x="164.86" y="54.99" width="7.02" height="1.41" fill="rgb(78, 10, 15)"/>
<rect x="171.83" y="54.99" width="7.02" height="1.41" fill="rgb(8, 50, 33)"/>
<rect x="53.30" y="56.34" width="7.02" height="1.41" fill="rgb(128, 14, 20)"/>
<rect x="60.27" y="56.34" width="20.97" height="1.41" fill="rgb(78, 10, 15)"/>
<rect x="81.19" y="56.34" width="7.02" height="1.41" fill="rgb(8, 50, 33)"/>
<rect x="88.16" y="56.34" width="7.02" height="1.41" fill="rgb(240, 46, 48)"/>
<rect x="95.13" y="56.34" width="7.02" height="1.41" fill="rgb(6, 33, 23)"/>
<rect x="102.11" y="56.34" width="34.91" height="1.41" fill="rgb(8, 50, 33)"/>
<rect x="136.97" y="56.34" width="7.02" height="1.41" fill="rgb(78, 10, 15)"/>
<rect x="143.94" y="56.34" width="7.02" height="1.41" fill="rgb(42, 6, 10)"/>
<rect x="150.91" y="56.34" width="7.02" height="1.41" fill="rgb(8, 50, 33)"/>
<rect x="157.88" y="56.34" width="7.02" height="1.41" fill="rgb(78, 10, 15)"/>
<rect x="164.86" y="56.34" width="7.02" height="1.41" fill="rgb(42, 6, 10)"/>
<rect x="171.83" y="56.34" width="7.02" height="1.41" fill="rgb(8, 50, 33)"/>
<rect x="53.30" y="57.70" width="13.99" height="1.41" fill="rgb(128, 14, 20)"/>
<rect x="67.24" y="57.70" width="7.02" height="1.41" fill="rgb(78, 10, 15)"/>
<rect x="74.22" y="57.70" width="13.99" height="1.41" fill="rgb(6, 33, 23)"/>
<rect x="88.16" y="57.70" width="7.02" height="1.41" fill="rgb(240, 46, 48)"/>
<rect x="95.13" y="57.70" width="48.86" height="1.41" fill="rgb(6, 33, 23)"/>
<rect x="143.94" y="57.70" width="13.99" height="1.41" fill="rgb(128, 14, 20)"/>
<rect x="157.88" y="57.70" width="20.97" height="1.41" fill="rgb(6, 33, 23)"/>
<rect x="53.30" y="59.06" width="7.02" height="1.41" fill="rgb(128, 14, 20)"/>
<rect x="60.27" y="59.06" width="7.02" height="1.41" fill="rgb(212, 28, 34)"/>
<rect x="67.24" y="59.06" width="7.02" height="1.41" fill="rgb(42, 6, 10)"/>
<rect x="74.22" y="59.06" width="34.91" height="1.41" fill="rgb(8, 50, 33)"/>
<rect x="109.08" y="59.06" width="7.02" height="1.41" fill="rgb(6, 33, 23)"/>
<rect x="116.05" y="59.06" width="20.97" height="1.41" fill="rgb(8, 50, 33)"/>
<rect x="136.97" y="59.06" width="7.02" height="1.41" fill="rgb(42, 6, 10)"/>
<rect x="143.94" y="59.06" width="7.02" height="1.41" fill="rgb(128, 14, 20)"/>
<rect x="150.91" y="59.06" width="13.99" height="1.41" fill="rgb(8, 50, 33)"/>
<rect x="164.86" y="59.06" width="13.99" height="1.41" fill="rgb(78, 10, 15)"/>
<rect x="53.30" y="60.41" width="7.02" height="1.41" fill="rgb(78, 10, 15)"/>
<rect x="60.27" y="60.41" width="7.02" height="1.41" fill="rgb(212, 28, 34)"/>
<rect x="67.24" y="60.41" width="7.02" height="1.41" fill="rgb(128, 14, 20)"/>
<rect x="74.22" y="60.41" width="7.02" height="1.41" fill="rgb(78, 10, 15)"/>
<rect x="81.19" y="60.41" width="7.02" height="1.41" fill="rgb(42, 6, 10)"/>
<rect x="88.16" y="60.41" width="55.83" height="1.41" fill="rgb(8, 50, 33)"/>
<rect x="143.94" y="60.41" width="13.99" height="1.41" fill="rgb(128, 14, 20)"/>
<rect x="157.88" y="60.41" width="13.99" height="1.41" fill="rgb(6, 33, 23)"/>
<rect x="171.83" y="60.41" width="7.02" height="1.41" fill="rgb(42, 6, 10)"/>
<rect x="53.30" y="61.77" width="7.02" height="1.41" fill="rgb(78, 10, 15)"/>
<rect x="60.27" y="61.77" width="20.97" height="1.41" fill="rgb(128, 14, 20)"/>
<rect x="81.19" y="61.77" width="55.83" height="1.41" fill="rgb(8, 50, 33)"/>
<rect x="136.97" y="61.77" width="7.02" height="1.41" fill="rgb(42, 6, 10)"/>
<rect x="143.94" y="61.77" width="7.02" height="1.41" fill="rgb(8, 50, 33)"/>
<rect x="150.91" y="61.77" width="7.02" height="1.41" fill="rgb(78, 10, 15)"/>
<rect x="157.88" y="61.77" width="20.97" height="1.41" fill="rgb(8, 50, 33)"/>
<rect x="53.30" y="63.13" width="13.99" height="1.41" fill="rgb(128, 14, 20)"/>
<rect x="67.24" y="63.13" width="7.02" height="1.41" fill="rgb(6, 33, 23)"/>
<rect x="74.22" y="63.13" width="20.97" height="1.41" fill="rgb(78, 10, 15)"/>
<rect x="95.13" y="63.13" width="41.88" height="1.41" fill="rgb(6, 33, 23)"/>
<rect x="136.97" y="63.13" width="7.02" height="1.41" fill="rgb(42, 6, 10)"/>
<rect x="143.94" y="63.13" width="7.02" height="1.41" fill="rgb(6, 33, 23)"/>
<rect x="150.91" y="63.13" width="7.02" height="1.41" fill="rgb(8, 50, 33)"/>
<rect x="157.88" y="63.13" width="7.02" height="1.41" fill="rgb(6, 33, 23)"/>
<rect x="164.86" y="63.13" width="13.99" height="1.41" fill="rgb(42, 6, 10)"/>
<rect x="53.30" y="64.48" width="7.02" height="1.41" fill="rgb(78, 10, 15)"/>
<rect x="60.27" y="64.48" width="7.02" height="1.41" fill="rgb(128, 14, 20)"/>
<rect x="67.24" y="64.48" width="7.02" height="1.41" fill="rgb(6, 33, 23)"/>
<rect x="74.22" y="64.48" width="7.02" height="1.41" fill="rgb(78, 10, 15)"/>
<rect x="81.19" y="64.48" width="7.02" height="1.41" fill="rgb(42, 6, 10)"/>
<rect x="88.16" y="64.48" width="41.88" height="1.41" fill="rgb(6, 33, 23)"/>
<rect x="129.99" y="64.48" width="7.02" height="1.41" fill="rgb(8, 50, 33)"/>
<rect x="136.97" y="64.48" width="7.02" height="1.41" fill="rgb(78, 10, 15)"/>
<rect x="143.94" y="64.48" width="13.99" height="1.41" fill="rgb(42, 6, 10)"/>
<rect x="157.88" y="64.48" width="13.99" height="1.41" fill="rgb(6, 33, 23)"/>
<rect x="171.83" y="64.48" width="7.02" height="1.41" fill="rgb(8, 50, 33)"/>
<rect x="53.30" y="65.84" width="7.02" height="1.41" fill="rgb(78, 10, 15)"/>
<rect x="60.27" y="65.84" width="7.02" height="1.41" fill="rgb(128, 14, 20)"/>
<rect x="67.24" y="65.84" width="7.02" height="1.41" fill="rgb(78, 10, 15)"/>
<rect x="74.22" y="65.84" width="7.02" height="1.41" fill="rgb(4, 10, 8)"/>
<rect x="81.19" y="65.84" width="7.02" height="1.41" fill="rgb(78, 10, 15)"/>
<rect x="88.16" y="65.84" width="7.02" height="1.41" fill="rgb(128, 14, 20)"/>
<rect x="95.13" y="65.84" width="13.99" height="1.41" fill="rgb(8, 50, 33)"/>
<rect x="109.08" y="65.84" width="7.02" height="1.41" fill="rgb(4, 10, 8)"/>
<rect x="116.05" y="65.84" width="20.97" height="1.41" fill="rgb(8, 50, 33)"/>
<rect x="136.97" y="65.84" width="7.02" height="1.41" fill="rgb(6, 33, 23)"/>
<rect x="143.94" y="65.84" width="7.02" height="1.41" fill="rgb(42, 6, 10)"/>
<rect x="150.91" y="65.84" width="7.02" height="1.41" fill="rgb(8, 50, 33)"/>
<rect x="157.88" y="65.84" width="7.02" height="1.41" fill="rgb(78, 10, 15)"/>
<rect x="164.86" y="65.84" width="7.02" height="1.41" fill="rgb(4, 10, 8)"/>
<rect x="171.83" y="65.84" width="7.02" height="1.41" fill="rgb(128, 14, 20)"/>
<rect x="53.30" y="67.20" width="7.02" height="1.41" fill="rgb(42, 6, 10)"/>
<rect x="60.27" y="67.20" width="7.02" height="1.41" fill="rgb(6, 33, 23)"/>
<rect x="67.24" y="67.20" width="13.99" height="1.41" fill="rgb(4, 10, 8)"/>
<rect x="81.19" y="67.20" width="7.02" height="1.41" fill="rgb(128, 14, 20)"/>
<rect x="88.16" y="67.20" width="7.02" height="1.41" fill="rgb(78, 10, 15)"/>
<rect x="95.13" y="67.20" width="20.97" height="1.41" fill="rgb(6, 33, 23)"/>
<rect x="116.05" y="67.20" width="13.99" height="1.41" fill="rgb(8, 50, 33)"/>
<rect x="129.99" y="67.20" width="7.02" height="1.41" fill="rgb(6, 33, 23)"/>
<rect x="136.97" y="67.20" width="7.02" height="1.41" fill="rgb(42, 6, 10)"/>
<rect x="143.94" y="67.20" width="27.94" height="1.41" fill="rgb(6, 33, 23)"/>
<rect x="171.83" y="67.20" width="7.02" height="1.41" fill="rgb(42, 6, 10)"/>
<rect x="53.30" y="68.55" width="7.02" height="1.41" fill="rgb(42, 6, 10)"/>
<rect x="60.27" y="68.55" width="20.97" height="1.41" fill="rgb(8, 50, 33)"/>
<rect x="81.19" y="68.55" width="7.02" height="1.41" fill="rgb(78, 10, 15)"/>
<rect x="88.16" y="68.55" width="7.02" height="1.41" fill="rgb(128, 14, 20)"/>
<rect x="95.13" y="68.55" width="83.72" height="1.41" fill="rgb(16, 76, 42)"/>
<rect x="53.30" y="69.91" width="27.94" height="1.41" fill="rgb(8, 50, 33)"/>
<rect x="81.19" y="69.91" width="7.02" height="1.41" fill="rgb(42, 6, 10)"/>
<rect x="88.16" y="69.91" width="7.02" height="1.41" fill="rgb(8, 50, 33)"/>
<rect x="95.13" y="69.91" width="83.72" height="1.41" fill="rgb(16, 76, 42)"/>
<rect x="53.30" y="71.27" width="7.02" height="1.41" fill="rgb(42, 6, 10)"/>
<rect x="60.27" y="71.27" width="7.02" height="1.41" fill="rgb(128, 14, 20)"/>
<rect x="67.24" y="71.27" width="7.02" height="1.41" fill="rgb(4, 10, 8)"/>
<rect x="74.22" y="71.27" width="7.02" height="1.41" fill="rgb(240, 46, 48)"/>
<rect x="81.19" y="71.27" width="7.02" height="1.41" fill="rgb(8, 50, 33)"/>
<rect x="88.16" y="71.27" width="7.02" height="1.41" fill="rgb(78, 10, 15)"/>
<rect x="95.13" y="71.27" width="7.02" height="1.41" fill="rgb(8, 50, 33)"/>
<rect x="102.11" y="71.27" width="7.02" height="1.41" fill="rgb(6, 33, 23)"/>
<rect x="109.08" y="71.27" width="13.99" height="1.41" fill="rgb(8, 50, 33)"/>
<rect x="123.02" y="71.27" width="7.02" height="1.41" fill="rgb(4, 10, 8)"/>
<rect x="129.99" y="71.27" width="7.02" height="1.41" fill="rgb(8, 50, 33)"/>
<rect x="136.97" y="71.27" width="7.02" height="1.41" fill="rgb(42, 6, 10)"/>
<rect x="143.94" y="71.27" width="20.97" height="1.41" fill="rgb(8, 50, 33)"/>
<rect x="164.86" y="71.27" width="7.02" height="1.41" fill="rgb(4, 10, 8)"/>
<rect x="171.83" y="71.27" width="7.02" height="1.41" fill="rgb(8, 50, 33)"/>
<rect x="53.30" y="72.62" width="7.02" height="1.41" fill="rgb(42, 6, 10)"/>
<rect x="60.27" y="72.62" width="7.02" height="1.41" fill="rgb(128, 14, 20)"/>
<rect x="67.24" y="72.62" width="7.02" height="1.41" fill="rgb(42, 6, 10)"/>
<rect x="74.22" y="72.62" width="7.02" height="1.41" fill="rgb(240, 46, 48)"/>
<rect x="81.19" y="72.62" width="41.88" height="1.41" fill="rgb(6, 33, 23)"/>
<rect x="123.02" y="72.62" width="7.02" height="1.41" fill="rgb(4, 10, 8)"/>
<rect x="129.99" y="72.62" width="27.94" height="1.41" fill="rgb(6, 33, 23)"/>
<rect x="157.88" y="72.62" width="13.99" height="1.41" fill="rgb(78, 10, 15)"/>
<rect x="171.83" y="72.62" width="7.02" height="1.41" fill="rgb(6, 33, 23)"/>
<rect x="53.30" y="73.98" width="7.02" height="1.41" fill="rgb(4, 10, 8)"/>
<rect x="60.27" y="73.98" width="7.02" height="1.41" fill="rgb(128, 14, 20)"/>
<rect x="67.24" y="73.98" width="7.02" height="1.41" fill="rgb(4, 10, 8)"/>
<rect x="74.22" y="73.98" width="7.02" height="1.41" fill="rgb(240, 46, 48)"/>
<rect x="81.19" y="73.98" width="7.02" height="1.41" fill="rgb(4, 10, 8)"/>
<rect x="88.16" y="73.98" width="7.02" height="1.41" fill="rgb(42, 6, 10)"/>
<rect x="95.13" y="73.98" width="83.72" height="1.41" fill="rgb(4, 10, 8)"/>
<rect x="53.30" y="75.34" width="20.97" height="1.41" fill="rgb(4, 10, 8)"/>
<rect x="74.22" y="75.34" width="7.02" height="1.41" fill="rgb(240, 46, 48)"/>
<rect x="81.19" y="75.34" width="7.02" height="1.41" fill="rgb(4, 10, 8)"/>
<rect x="88.16" y="75.34" width="7.02" height="1.41" fill="rgb(128, 14, 20)"/>
<rect x="95.13" y="75.34" width="83.72" height="1.41" fill="rgb(4, 10, 8)"/>
<rect x="53.30" y="76.69" width="7.02" height="1.41" fill="rgb(6, 33, 23)"/>
<rect x="60.27" y="76.69" width="7.02" height="1.41" fill="rgb(4, 10, 8)"/>
<rect x="67.24" y="76.69" width="7.02" height="1.41" fill="rgb(6, 33, 23)"/>
<rect x="74.22" y="76.69" width="7.02" height="1.41" fill="rgb(240, 46, 48)"/>
<rect x="81.19" y="76.69" width="7.02" height="1.41" fill="rgb(78, 10, 15)"/>
<rect x="88.16" y="76.69" width="7.02" height="1.41" fill="rgb(6, 33, 23)"/>
<rect x="95.13" y="76.69" width="83.72" height="1.41" fill="rgb(4, 10, 8)"/>
<rect x="53.30" y="78.05" width="7.02" height="1.41" fill="rgb(4, 10, 8)"/>
<rect x="60.27" y="78.05" width="13.99" height="1.41" fill="rgb(8, 50, 33)"/>
<rect x="74.22" y="78.05" width="7.02" height="1.41" fill="rgb(240, 46, 48)"/>
<rect x="81.19" y="78.05" width="7.02" height="1.41" fill="rgb(6, 33, 23)"/>
<rect x="88.16" y="78.05" width="7.02" height="1.41" fill="rgb(128, 14, 20)"/>
<rect x="95.13" y="78.05" width="7.02" height="1.41" fill="rgb(8, 50, 33)"/>
<rect x="102.11" y="78.05" width="7.02" height="1.41" fill="rgb(16, 76, 42)"/>
<rect x="109.08" y="78.05" width="27.94" height="1.41" fill="rgb(8, 50, 33)"/>
<rect x="136.97" y="78.05" width="7.02" height="1.41" fill="rgb(42, 6, 10)"/>
<rect x="143.94" y="78.05" width="7.02" height="1.41" fill="rgb(8, 50, 33)"/>
<rect x="150.91" y="78.05" width="7.02" height="1.41" fill="rgb(42, 6, 10)"/>
<rect x="157.88" y="78.05" width="7.02" height="1.41" fill="rgb(6, 33, 23)"/>
<rect x="164.86" y="78.05" width="7.02" height="1.41" fill="rgb(42, 6, 10)"/>
<rect x="171.83" y="78.05" width="7.02" height="1.41" fill="rgb(78, 10, 15)"/>
<rect x="53.30" y="79.41" width="20.97" height="1.41" fill="rgb(42, 6, 10)"/>
<rect x="74.22" y="79.41" width="7.02" height="1.41" fill="rgb(240, 46, 48)"/>
<rect x="81.19" y="79.41" width="7.02" height="1.41" fill="rgb(42, 6, 10)"/>
<rect x="88.16" y="79.41" width="55.83" height="1.41" fill="rgb(8, 50, 33)"/>
<rect x="143.94" y="79.41" width="13.99" height="1.41" fill="rgb(128, 14, 20)"/>
<rect x="157.88" y="79.41" width="7.02" height="1.41" fill="rgb(6, 33, 23)"/>
<rect x="164.86" y="79.41" width="7.02" height="1.41" fill="rgb(8, 50, 33)"/>
<rect x="171.83" y="79.41" width="7.02" height="1.41" fill="rgb(128, 14, 20)"/>
<rect x="53.30" y="80.76" width="7.02" height="1.41" fill="rgb(8, 50, 33)"/>
<rect x="60.27" y="80.76" width="7.02" height="1.41" fill="rgb(4, 10, 8)"/>
<rect x="67.24" y="80.76" width="7.02" height="1.41" fill="rgb(42, 6, 10)"/>
<rect x="74.22" y="80.76" width="7.02" height="1.41" fill="rgb(240, 46, 48)"/>
<rect x="81.19" y="80.76" width="7.02" height="1.41" fill="rgb(128, 14, 20)"/>
<rect x="88.16" y="80.76" width="48.86" height="1.41" fill="rgb(8, 50, 33)"/>
<rect x="136.97" y="80.76" width="7.02" height="1.41" fill="rgb(4, 10, 8)"/>
<rect x="143.94" y="80.76" width="7.02" height="1.41" fill="rgb(78, 10, 15)"/>
<rect x="150.91" y="80.76" width="13.99" height="1.41" fill="rgb(42, 6, 10)"/>
<rect x="164.86" y="80.76" width="7.02" height="1.41" fill="rgb(8, 50, 33)"/>
<rect x="171.83" y="80.76" width="7.02" height="1.41" fill="rgb(128, 14, 20)"/>
<rect x="53.30" y="82.12" width="7.02" height="1.41" fill="rgb(42, 6, 10)"/>
<rect x="60.27" y="82.12" width="7.02" height="1.41" fill="rgb(78, 10, 15)"/>
<rect x="67.24" y="82.12" width="7.02" height="1.41" fill="rgb(4, 10, 8)"/>
<rect x="74.22" y="82.12" width="13.99" height="1.41" fill="rgb(78, 10, 15)"/>
<rect x="88.16" y="82.12" width="34.91" height="1.41" fill="rgb(4, 10, 8)"/>
<rect x="123.02" y="82.12" width="7.02" height="1.41" fill="rgb(6, 33, 23)"/>
<rect x="129.99" y="82.12" width="13.99" height="1.41" fill="rgb(4, 10, 8)"/>
<rect x="143.94" y="82.12" width="13.99" height="1.41" fill="rgb(42, 6, 10)"/>
<rect x="157.88" y="82.12" width="7.02" height="1.41" fill="rgb(128, 14, 20)"/>
<rect x="164.86" y="82.12" width="13.99" height="1.41" fill="rgb(4, 10, 8)"/>
<rect x="53.30" y="83.48" width="7.02" height="1.41" fill="rgb(42, 6, 10)"/>
<rect x="60.27" y="83.48" width="7.02" height="1.41" fill="rgb(128, 14, 20)"/>
<rect x="67.24" y="83.48" width="7.02" height="1.41" fill="rgb(6, 33, 23)"/>
<rect x="74.22" y="83.48" width="7.02" height="1.41" fill="rgb(78, 10, 15)"/>
<rect x="81.19" y="83.48" width="7.02" height="1.41" fill="rgb(42, 6, 10)"/>
<rect x="88.16" y="83.48" width="7.02" height="1.41" fill="rgb(8, 50, 33)"/>
<rect x="95.13" y="83.48" width="7.02" height="1.41" fill="rgb(6, 33, 23)"/>
<rect x="102.11" y="83.48" width="41.88" height="1.41" fill="rgb(8, 50, 33)"/>
<rect x="143.94" y="83.48" width="7.02" height="1.41" fill="rgb(42, 6, 10)"/>
<rect x="150.91" y="83.48" width="7.02" height="1.41" fill="rgb(6, 33, 23)"/>
<rect x="157.88" y="83.48" width="7.02" height="1.41" fill="rgb(42, 6, 10)"/>
<rect x="164.86" y="83.48" width="7.02" height="1.41" fill="rgb(128, 14, 20)"/>
<rect x="171.83" y="83.48" width="7.02" height="1.41" fill="rgb(8, 50, 33)"/>
<rect x="53.30" y="84.83" width="7.02" height="1.41" fill="rgb(8, 50, 33)"/>
<rect x="60.27" y="84.83" width="7.02" height="1.41" fill="rgb(78, 10, 15)"/>
<rect x="67.24" y="84.83" width="7.02" height="1.41" fill="rgb(8, 50, 33)"/>
<rect x="74.22" y="84.83" width="7.02" height="1.41" fill="rgb(78, 10, 15)"/>
<rect x="81.19" y="84.83" width="7.02" height="1.41" fill="rgb(42, 6, 10)"/>
<rect x="88.16" y="84.83" width="7.02" height="1.41" fill="rgb(4, 10, 8)"/>
<rect x="95.13" y="84.83" width="41.88" height="1.41" fill="rgb(8, 50, 33)"/>
<rect x="136.97" y="84.83" width="7.02" height="1.41" fill="rgb(6, 33, 23)"/>
<rect x="143.94" y="84.83" width="7.02" height="1.41" fill="rgb(42, 6, 10)"/>
<rect x="150.91" y="84.83" width="7.02" height="1.41" fill="rgb(8, 50, 33)"/>
<rect x="157.88" y="84.83" width="7.02" height="1.41" fill="rgb(78, 10, 15)"/>
<rect x="164.86" y="84.83" width="7.02" height="1.41" fill="rgb(128, 14, 20)"/>
<rect x="171.83" y="84.83" width="7.02" height="1.41" fill="rgb(8, 50, 33)"/>
<rect x="53.30" y="86.19" width="7.02" height="1.41" fill="rgb(4, 10, 8)"/>
<rect x="60.27" y="86.19" width="7.02" height="1.41" fill="rgb(8, 50, 33)"/>
<rect x="67.24" y="86.19" width="7.02" height="1.41" fill="rgb(42, 6, 10)"/>
<rect x="74.22" y="86.19" width="7.02" height="1.41" fill="rgb(128, 14, 20)"/>
<rect x="81.19" y="86.19" width="7.02" height="1.41" fill="rgb(4, 10, 8)"/>
<rect x="88.16" y="86.19" width="7.02" height="1.41" fill="rgb(42, 6, 10)"/>
<rect x="95.13" y="86.19" width="7.02" height="1.41" fill="rgb(8, 50, 33)"/>
<rect x="102.11" y="86.19" width="7.02" height="1.41" fill="rgb(4, 10, 8)"/>
<rect x="109.08" y="86.19" width="13.99" height="1.41" fill="rgb(6, 33, 23)"/>
<rect x="123.02" y="86.19" width="20.97" height="1.41" fill="rgb(4, 10, 8)"/>
<rect x="143.94" y="86.19" width="7.02" height="1.41" fill="rgb(128, 14, 20)"/>
<rect x="150.91" y="86.19" width="7.02" height="1.41" fill="rgb(78, 10, 15)"/>
<rect x="157.88" y="86.19" width="7.02" height="1.41" fill="rgb(212, 28, 34)"/>
<rect x="164.86" y="86.19" width="7.02" height="1.41" fill="rgb(42, 6, 10)"/>
<rect x="171.83" y="86.19" width="7.02" height="1.41" fill="rgb(4, 10, 8)"/>
<rect x="53.30" y="87.55" width="13.99" height="1.41" fill="rgb(78, 10, 15)"/>
<rect x="67.24" y="87.55" width="7.02" height="1.41" fill="rgb(6, 33, 23)"/>
<rect x="74.22" y="87.55" width="7.02" height="1.41" fill="rgb(212, 28, 34)"/>
<rect x="81.19" y="87.55" width="7.02" height="1.41" fill="rgb(78, 10, 15)"/>
<rect x="88.16" y="87.55" width="7.02" height="1.41" fill="rgb(42, 6, 10)"/>
<rect x="95.13" y="87.55" width="27.94" height="1.41" fill="rgb(6, 33, 23)"/>
<rect x="123.02" y="87.55" width="7.02" height="1.41" fill="rgb(8, 50, 33)"/>
<rect x="129.99" y="87.55" width="13.99" height="1.41" fill="rgb(6, 33, 23)"/>
<rect x="143.94" y="87.55" width="13.99" height="1.41" fill="rgb(78, 10, 15)"/>
<rect x="157.88" y="87.55" width="7.02" height="1.41" fill="rgb(212, 28, 34)"/>
<rect x="164.86" y="87.55" width="13.99" height="1.41" fill="rgb(6, 33, 23)"/>
<rect x="53.30" y="88.90" width="7.02" height="1.41" fill="rgb(78, 10, 15)"/>
<rect x="60.27" y="88.90" width="7.02" height="1.41" fill="rgb(6, 33, 23)"/>
<rect x="67.24" y="88.90" width="7.02" height="1.41" fill="rgb(8, 50, 33)"/>
<rect x="74.22" y="88.90" width="7.02" height="1.41" fill="rgb(212, 28, 34)"/>
<rect x="81.19" y="88.90" width="7.02" height="1.41" fill="rgb(42, 6, 10)"/>
<rect x="88.16" y="88.90" width="7.02" height="1.41" fill="rgb(78, 10, 15)"/>
<rect x="95.13" y="88.90" width="20.97" height="1.41" fill="rgb(8, 50, 33)"/>
<rect x="116.05" y="88.90" width="7.02" height="1.41" fill="rgb(6, 33, 23)"/>
<rect x="123.02" y="88.90" width="13.99" height="1.41" fill="rgb(8, 50, 33)"/>
<rect x="136.97" y="88.90" width="20.97" height="1.41" fill="rgb(42, 6, 10)"/>
<rect x="157.88" y="88.90" width="7.02" height="1.41" fill="rgb(212, 28, 34)"/>
<rect x="164.86" y="88.90" width="7.02" height="1.41" fill="rgb(8, 50, 33)"/>
<rect x="171.83" y="88.90" width="7.02" height="1.41" fill="rgb(42, 6, 10)"/>
<rect x="53.30" y="90.26" width="7.02" height="1.41" fill="rgb(128, 14, 20)"/>
<rect x="60.27" y="90.26" width="7.02" height="1.41" fill="rgb(42, 6, 10)"/>
<rect x="67.24" y="90.26" width="7.02" height="1.41" fill="rgb(4, 10, 8)"/>
<rect x="74.22" y="90.26" width="7.02" height="1.41" fill="rgb(42, 6, 10)"/>
<rect x="81.19" y="90.26" width="7.02" height="1.41" fill="rgb(4, 10, 8)"/>
<rect x="88.16" y="90.26" width="7.02" height="1.41" fill="rgb(42, 6, 10)"/>
<rect x="95.13" y="90.26" width="20.97" height="1.41" fill="rgb(4, 10, 8)"/>
<rect x="116.05" y="90.26" width="7.02" height="1.41" fill="rgb(8, 50, 33)"/>
<rect x="123.02" y="90.26" width="13.99" height="1.41" fill="rgb(4, 10, 8)"/>
<rect x="136.97" y="90.26" width="7.02" height="1.41" fill="rgb(212, 28, 34)"/>
<rect x="143.94" y="90.26" width="27.94" height="1.41" fill="rgb(4, 10, 8)"/>
<rect x="171.83" y="90.26" width="7.02" height="1.41" fill="rgb(6, 33, 23)"/>
<rect x="53.30" y="91.62" width="7.02" height="1.41" fill="rgb(128, 14, 20)"/>
<rect x="60.27" y="91.62" width="7.02" height="1.41" fill="rgb(8, 50, 33)"/>
<rect x="67.24" y="91.62" width="7.02" height="1.41" fill="rgb(42, 6, 10)"/>
<rect x="74.22" y="91.62" width="7.02" height="1.41" fill="rgb(128, 14, 20)"/>
<rect x="81.19" y="91.62" width="13.99" height="1.41" fill="rgb(42, 6, 10)"/>
<rect x="95.13" y="91.62" width="27.94" height="1.41" fill="rgb(8, 50, 33)"/>
<rect x="123.02" y="91.62" width="7.02" height="1.41" fill="rgb(4, 10, 8)"/>
<rect x="129.99" y="91.62" width="7.02" height="1.41" fill="rgb(8, 50, 33)"/>
<rect x="136.97" y="91.62" width="7.02" height="1.41" fill="rgb(212, 28, 34)"/>
<rect x="143.94" y="91.62" width="7.02" height="1.41" fill="rgb(8, 50, 33)"/>
<rect x="150.91" y="91.62" width="7.02" height="1.41" fill="rgb(42, 6, 10)"/>
<rect x="157.88" y="91.62" width="7.02" height="1.41" fill="rgb(78, 10, 15)"/>
<rect x="164.86" y="91.62" width="7.02" height="1.41" fill="rgb(4, 10, 8)"/>
<rect x="171.83" y="91.62" width="7.02" height="1.41" fill="rgb(8, 50, 33)"/>
<rect x="53.30" y="92.97" width="7.02" height="1.41" fill="rgb(128, 14, 20)"/>
<rect x="60.27" y="92.97" width="13.99" height="1.41" fill="rgb(78, 10, 15)"/>
<rect x="74.22" y="92.97" width="13.99" height="1.41" fill="rgb(42, 6, 10)"/>
<rect x="88.16" y="92.97" width="7.02" height="1.41" fill="rgb(78, 10, 15)"/>
<rect x="95.13" y="92.97" width="41.88" height="1.41" fill="rgb(4, 10, 8)"/>
<rect x="136.97" y="92.97" width="7.02" height="1.41" fill="rgb(212, 28, 34)"/>
<rect x="143.94" y="92.97" width="7.02" height="1.41" fill="rgb(4, 10, 8)"/>
<rect x="150.91" y="92.97" width="7.02" height="1.41" fill="rgb(78, 10, 15)"/>
<rect x="157.88" y="92.97" width="7.02" height="1.41" fill="rgb(128, 14, 20)"/>
<rect x="164.86" y="92.97" width="13.99" height="1.41" fill="rgb(4, 10, 8)"/>
<rect x="53.30" y="94.33" width="13.99" height="1.41" fill="rgb(6, 33, 23)"/>
<rect x="67.24" y="94.33" width="7.02" height="1.41" fill="rgb(240, 46, 48)"/>
<rect x="74.22" y="94.33" width="13.99" height="1.41" fill="rgb(6, 33, 23)"/>
<rect x="88.16" y="94.33" width="7.02" height="1.41" fill="rgb(78, 10, 15)"/>
<rect x="95.13" y="94.33" width="48.86" height="1.41" fill="rgb(4, 10, 8)"/>
<rect x="143.94" y="94.33" width="7.02" height="1.41" fill="rgb(6, 33, 23)"/>
<rect x="150.91" y="94.33" width="7.02" height="1.41" fill="rgb(128, 14, 20)"/>
<rect x="157.88" y="94.33" width="13.99" height="1.41" fill="rgb(42, 6, 10)"/>
<rect x="171.83" y="94.33" width="7.02" height="1.41" fill="rgb(78, 10, 15)"/>
<rect x="53.30" y="95.69" width="7.02" height="1.41" fill="rgb(8, 50, 33)"/>
<rect x="60.27" y="95.69" width="7.02" height="1.41" fill="rgb(128, 14, 20)"/>
<rect x="67.24" y="95.69" width="7.02" height="1.41" fill="rgb(240, 46, 48)"/>
<rect x="74.22" y="95.69" width="7.02" height="1.41" fill="rgb(8, 50, 33)"/>
<rect x="81.19" y="95.69" width="7.02" height="1.41" fill="rgb(42, 6, 10)"/>
<rect x="88.16" y="95.69" width="7.02" height="1.41" fill="rgb(8, 50, 33)"/>
<rect x="95.13" y="95.69" width="55.83" height="1.41" fill="rgb(4, 10, 8)"/>
<rect x="150.91" y="95.69" width="7.02" height="1.41" fill="rgb(78, 10, 15)"/>
<rect x="157.88" y="95.69" width="7.02" height="1.41" fill="rgb(8, 50, 33)"/>
<rect x="164.86" y="95.69" width="13.99" height="1.41" fill="rgb(42, 6, 10)"/>
<rect x="53.30" y="97.04" width="13.99" height="1.41" fill="rgb(42, 6, 10)"/>
<rect x="67.24" y="97.04" width="7.02" height="1.41" fill="rgb(240, 46, 48)"/>
<rect x="74.22" y="97.04" width="7.02" height="1.41" fill="rgb(6, 33, 23)"/>
<rect x="81.19" y="97.04" width="13.99" height="1.41" fill="rgb(4, 10, 8)"/>
<rect x="95.13" y="97.04" width="13.99" height="1.41" fill="rgb(8, 50, 33)"/>
<rect x="109.08" y="97.04" width="27.94" height="1.41" fill="rgb(6, 33, 23)"/>
<rect x="136.97" y="97.04" width="7.02" height="1.41" fill="rgb(42, 6, 10)"/>
<rect x="143.94" y="97.04" width="7.02" height="1.41" fill="rgb(4, 10, 8)"/>
<rect x="150.91" y="97.04" width="20.97" height="1.41" fill="rgb(6, 33, 23)"/>
<rect x="171.83" y="97.04" width="7.02" height="1.41" fill="rgb(78, 10, 15)"/>
<rect x="53.30" y="98.40" width="7.02" height="1.41" fill="rgb(6, 33, 23)"/>
<rect x="60.27" y="98.40" width="7.02" height="1.41" fill="rgb(42, 6, 10)"/>
<rect x="67.24" y="98.40" width="7.02" height="1.41" fill="rgb(240, 46, 48)"/>
<rect x="74.22" y="98.40" width="7.02" height="1.41" fill="rgb(6, 33, 23)"/>
<rect x="81.19" y="98.40" width="7.02" height="1.41" fill="rgb(42, 6, 10)"/>
<rect x="88.16" y="98.40" width="48.86" height="1.41" fill="rgb(6, 33, 23)"/>
<rect x="136.97" y="98.40" width="13.99" height="1.41" fill="rgb(78, 10, 15)"/>
<rect x="150.91" y="98.40" width="7.02" height="1.41" fill="rgb(6, 33, 23)"/>
<rect x="157.88" y="98.40" width="7.02" height="1.41" fill="rgb(4, 10, 8)"/>
<rect x="164.86" y="98.40" width="7.02" height="1.41" fill="rgb(6, 33, 23)"/>
<rect x="171.83" y="98.40" width="7.02" height="1.41" fill="rgb(128, 14, 20)"/>
<rect x="53.30" y="99.76" width="7.02" height="1.41" fill="rgb(8, 50, 33)"/>
<rect x="60.27" y="99.76" width="7.02" height="1.41" fill="rgb(128, 14, 20)"/>
<rect x="67.24" y="99.76" width="7.02" height="1.41" fill="rgb(240, 46, 48)"/>
<rect x="74.22" y="99.76" width="7.02" height="1.41" fill="rgb(6, 33, 23)"/>
<rect x="81.19" y="99.76" width="7.02" height="1.41" fill="rgb(78, 10, 15)"/>
<rect x="88.16" y="99.76" width="7.02" height="1.41" fill="rgb(42, 6, 10)"/>
<rect x="95.13" y="99.76" width="20.97" height="1.41" fill="rgb(6, 33, 23)"/>
<rect x="116.05" y="99.76" width="13.99" height="1.41" fill="rgb(8, 50, 33)"/>
<rect x="129.99" y="99.76" width="13.99" height="1.41" fill="rgb(6, 33, 23)"/>
<rect x="143.94" y="99.76" width="7.02" height="1.41" fill="rgb(42, 6, 10)"/>
<rect x="150.91" y="99.76" width="7.02" height="1.41" fill="rgb(6, 33, 23)"/>
<rect x="157.88" y="99.76" width="7.02" height="1.41" fill="rgb(78, 10, 15)"/>
<rect x="164.86" y="99.76" width="7.02" height="1.41" fill="rgb(42, 6, 10)"/>
<rect x="171.83" y="99.76" width="7.02" height="1.41" fill="rgb(6, 33, 23)"/>
<rect x="53.30" y="101.11" width="7.02" height="1.41" fill="rgb(4, 10, 8)"/>
<rect x="60.27" y="101.11" width="7.02" height="1.41" fill="rgb(212, 28, 34)"/>
<rect x="67.24" y="101.11" width="7.02" height="1.41" fill="rgb(240, 46, 48)"/>
<rect x="74.22" y="101.11" width="7.02" height="1.41" fill="rgb(78, 10, 15)"/>
<rect x="81.19" y="101.11" width="7.02" height="1.41" fill="rgb(42, 6, 10)"/>
<rect x="88.16" y="101.11" width="20.97" height="1.41" fill="rgb(4, 10, 8)"/>
<rect x="109.08" y="101.11" width="7.02" height="1.41" fill="rgb(6, 33, 23)"/>
<rect x="116.05" y="101.11" width="27.94" height="1.41" fill="rgb(4, 10, 8)"/>
<rect x="143.94" y="101.11" width="7.02" height="1.41" fill="rgb(78, 10, 15)"/>
<rect x="150.91" y="101.11" width="7.02" height="1.41" fill="rgb(42, 6, 10)"/>
<rect x="157.88" y="101.11" width="7.02" height="1.41" fill="rgb(4, 10, 8)"/>
<rect x="164.86" y="101.11" width="7.02" height="1.41" fill="rgb(78, 10, 15)"/>
<rect x="171.83" y="101.11" width="7.02" height="1.41" fill="rgb(4, 10, 8)"/>
<rect x="53.30" y="102.47" width="7.02" height="1.41" fill="rgb(6, 33, 23)"/>
<rect x="60.27" y="102.47" width="7.02" height="1.41" fill="rgb(212, 28, 34)"/>
<rect x="67.24" y="102.47" width="13.99" height="1.41" fill="rgb(128, 14, 20)"/>
<rect x="81.19" y="102.47" width="7.02" height="1.41" fill="rgb(6, 33, 23)"/>
<rect x="88.16" y="102.47" width="7.02" height="1.41" fill="rgb(42, 6, 10)"/>
<rect x="95.13" y="102.47" width="13.99" height="1.41" fill="rgb(6, 33, 23)"/>
<rect x="109.08" y="102.47" width="7.02" height="1.41" fill="rgb(8, 50, 33)"/>
<rect x="116.05" y="102.47" width="20.97" height="1.41" fill="rgb(6, 33, 23)"/>
<rect x="136.97" y="102.47" width="7.02" height="1.41" fill="rgb(78, 10, 15)"/>
<rect x="143.94" y="102.47" width="7.02" height="1.41" fill="rgb(42, 6, 10)"/>
<rect x="150.91" y="102.47" width="7.02" height="1.41" fill="rgb(6, 33, 23)"/>
<rect x="157.88" y="102.47" width="13.99" height="1.41" fill="rgb(78, 10, 15)"/>
<rect x="171.83" y="102.47" width="7.02" height="1.41" fill="rgb(6, 33, 23)"/>
<rect x="53.30" y="103.83" width="7.02" height="1.41" fill="rgb(78, 10, 15)"/>
<rect x="60.27" y="103.83" width="7.02" height="1.41" fill="rgb(4, 10, 8)"/>
<rect x="67.24" y="103.83" width="7.02" height="1.41" fill="rgb(212, 28, 34)"/>
<rect x="74.22" y="103.83" width="7.02" height="1.41" fill="rgb(128, 14, 20)"/>
<rect x="81.19" y="103.83" width="7.02" height="1.41" fill="rgb(42, 6, 10)"/>
<rect x="88.16" y="103.83" width="7.02" height="1.41" fill="rgb(78, 10, 15)"/>
<rect x="95.13" y="103.83" width="7.02" height="1.41" fill="rgb(8, 50, 33)"/>
<rect x="102.11" y="103.83" width="7.02" height="1.41" fill="rgb(6, 33, 23)"/>
<rect x="109.08" y="103.83" width="13.99" height="1.41" fill="rgb(8, 50, 33)"/>
<rect x="123.02" y="103.83" width="7.02" height="1.41" fill="rgb(6, 33, 23)"/>
<rect x="129.99" y="103.83" width="7.02" height="1.41" fill="rgb(8, 50, 33)"/>
<rect x="136.97" y="103.83" width="7.02" height="1.41" fill="rgb(42, 6, 10)"/>
<rect x="143.94" y="103.83" width="7.02" height="1.41" fill="rgb(212, 28, 34)"/>
<rect x="150.91" y="103.83" width="7.02" height="1.41" fill="rgb(42, 6, 10)"/>
<rect x="157.88" y="103.83" width="7.02" height="1.41" fill="rgb(8, 50, 33)"/>
<rect x="164.86" y="103.83" width="7.02" height="1.41" fill="rgb(42, 6, 10)"/>
<rect x="171.83" y="103.83" width="7.02" height="1.41" fill="rgb(78, 10, 15)"/>
<rect x="53.30" y="105.18" width="13.99" height="1.41" fill="rgb(42, 6, 10)"/>
<rect x="67.24" y="105.18" width="7.02" height="1.41" fill="rgb(212, 28, 34)"/>
<rect x="74.22" y="105.18" width="7.02" height="1.41" fill="rgb(78, 10, 15)"/>
<rect x="81.19" y="105.18" width="7.02" height="1.41" fill="rgb(8, 50, 33)"/>
<rect x="88.16" y="105.18" width="27.94" height="1.41" fill="rgb(6, 33, 23)"/>
<rect x="116.05" y="105.18" width="7.02" height="1.41" fill="rgb(4, 10, 8)"/>
<rect x="123.02" y="105.18" width="20.97" height="1.41" fill="rgb(6, 33, 23)"/>
<rect x="143.94" y="105.18" width="7.02" height="1.41" fill="rgb(212, 28, 34)"/>
<rect x="150.91" y="105.18" width="20.97" height="1.41" fill="rgb(6, 33, 23)"/>
<rect x="171.83" y="105.18" width="7.02" height="1.41" fill="rgb(4, 10, 8)"/>
<rect x="53.30" y="106.54" width="13.99" height="1.41" fill="rgb(42, 6, 10)"/>
<rect x="67.24" y="106.54" width="7.02" height="1.41" fill="rgb(128, 14, 20)"/>
<rect x="74.22" y="106.54" width="7.02" height="1.41" fill="rgb(42, 6, 10)"/>
<rect x="81.19" y="106.54" width="7.02" height="1.41" fill="rgb(4, 10, 8)"/>
<rect x="88.16" y="106.54" width="7.02" height="1.41" fill="rgb(42, 6, 10)"/>
<rect x="95.13" y="106.54" width="13.99" height="1.41" fill="rgb(6, 33, 23)"/>
<rect x="109.08" y="106.54" width="7.02" height="1.41" fill="rgb(8, 50, 33)"/>
<rect x="116.05" y="106.54" width="7.02" height="1.41" fill="rgb(4, 10, 8)"/>
<rect x="123.02" y="106.54" width="13.99" height="1.41" fill="rgb(6, 33, 23)"/>
<rect x="136.97" y="106.54" width="13.99" height="1.41" fill="rgb(128, 14, 20)"/>
<rect x="150.91" y="106.54" width="13.99" height="1.41" fill="rgb(4, 10, 8)"/>
<rect x="164.86" y="106.54" width="13.99" height="1.41" fill="rgb(6, 33, 23)"/>
<rect x="53.30" y="107.90" width="13.99" height="1.41" fill="rgb(42, 6, 10)"/>
<rect x="67.24" y="107.90" width="7.02" height="1.41" fill="rgb(78, 10, 15)"/>
<rect x="74.22" y="107.90" width="7.02" height="1.41" fill="rgb(128, 14, 20)"/>
<rect x="81.19" y="107.90" width="7.02" height="1.41" fill="rgb(42, 6, 10)"/>
<rect x="88.16" y="107.90" width="13.99" height="1.41" fill="rgb(8, 50, 33)"/>
<rect x="102.11" y="107.90" width="7.02" height="1.41" fill="rgb(6, 33, 23)"/>
<rect x="109.08" y="107.90" width="34.91" height="1.41" fill="rgb(8, 50, 33)"/>
<rect x="143.94" y="107.90" width="7.02" height="1.41" fill="rgb(212, 28, 34)"/>
<rect x="150.91" y="107.90" width="7.02" height="1.41" fill="rgb(8, 50, 33)"/>
<rect x="157.88" y="107.90" width="7.02" height="1.41" fill="rgb(42, 6, 10)"/>
<rect x="164.86" y="107.90" width="13.99" height="1.41" fill="rgb(8, 50, 33)"/>
<rect x="53.30" y="109.25" width="7.02" height="1.41" fill="rgb(78, 10, 15)"/>
<rect x="60.27" y="109.25" width="7.02" height="1.41" fill="rgb(4, 10, 8)"/>
<rect x="67.24" y="109.25" width="7.02" height="1.41" fill="rgb(212, 28, 34)"/>
<rect x="74.22" y="109.25" width="7.02" height="1.41" fill="rgb(42, 6, 10)"/>
<rect x="81.19" y="109.25" width="27.94" height="1.41" fill="rgb(4, 10, 8)"/>
<rect x="109.08" y="109.25" width="7.02" height="1.41" fill="rgb(6, 33, 23)"/>
<rect x="116.05" y="109.25" width="13.99" height="1.41" fill="rgb(8, 50, 33)"/>
<rect x="129.99" y="109.25" width="7.02" height="1.41" fill="rgb(4, 10, 8)"/>
<rect x="136.97" y="109.25" width="7.02" height="1.41" fill="rgb(78, 10, 15)"/>
<rect x="143.94" y="109.25" width="7.02" height="1.41" fill="rgb(4, 10, 8)"/>
<rect x="150.91" y="109.25" width="7.02" height="1.41" fill="rgb(78, 10, 15)"/>
<rect x="157.88" y="109.25" width="20.97" height="1.41" fill="rgb(4, 10, 8)"/>
<rect x="53.30" y="110.61" width="7.02" height="1.41" fill="rgb(42, 6, 10)"/>
<rect x="60.27" y="110.61" width="7.02" height="1.41" fill="rgb(78, 10, 15)"/>
<rect x="67.24" y="110.61" width="7.02" height="1.41" fill="rgb(212, 28, 34)"/>
<rect x="74.22" y="110.61" width="13.99" height="1.41" fill="rgb(6, 33, 23)"/>
<rect x="88.16" y="110.61" width="7.02" height="1.41" fill="rgb(42, 6, 10)"/>
<rect x="95.13" y="110.61" width="20.97" height="1.41" fill="rgb(6, 33, 23)"/>
<rect x="116.05" y="110.61" width="7.02" height="1.41" fill="rgb(8, 50, 33)"/>
<rect x="123.02" y="110.61" width="20.97" height="1.41" fill="rgb(6, 33, 23)"/>
<rect x="143.94" y="110.61" width="7.02" height="1.41" fill="rgb(128, 14, 20)"/>
<rect x="150.91" y="110.61" width="13.99" height="1.41" fill="rgb(42, 6, 10)"/>
<rect x="164.86" y="110.61" width="7.02" height="1.41" fill="rgb(4, 10, 8)"/>
<rect x="171.83" y="110.61" width="7.02" height="1.41" fill="rgb(42, 6, 10)"/>
<rect x="53.30" y="111.97" width="7.02" height="1.41" fill="rgb(78, 10, 15)"/>
<rect x="60.27" y="111.97" width="13.99" height="1.41" fill="rgb(42, 6, 10)"/>
<rect x="74.22" y="111.97" width="7.02" height="1.41" fill="rgb(78, 10, 15)"/>
<rect x="81.19" y="111.97" width="7.02" height="1.41" fill="rgb(42, 6, 10)"/>
<rect x="88.16" y="111.97" width="7.02" height="1.41" fill="rgb(6, 33, 23)"/>
<rect x="95.13" y="111.97" width="20.97" height="1.41" fill="rgb(8, 50, 33)"/>
<rect x="116.05" y="111.97" width="7.02" height="1.41" fill="rgb(6, 33, 23)"/>
<rect x="123.02" y="111.97" width="13.99" height="1.41" fill="rgb(8, 50, 33)"/>
<rect x="136.97" y="111.97" width="7.02" height="1.41" fill="rgb(78, 10, 15)"/>
<rect x="143.94" y="111.97" width="13.99" height="1.41" fill="rgb(128, 14, 20)"/>
<rect x="157.88" y="111.97" width="13.99" height="1.41" fill="rgb(42, 6, 10)"/>
<rect x="171.83" y="111.97" width="7.02" height="1.41" fill="rgb(78, 10, 15)"/>
<rect x="53.30" y="113.32" width="7.02" height="1.41" fill="rgb(78, 10, 15)"/>
<rect x="60.27" y="113.32" width="7.02" height="1.41" fill="rgb(8, 50, 33)"/>
<rect x="67.24" y="113.32" width="13.99" height="1.41" fill="rgb(128, 14, 20)"/>
<rect x="81.19" y="113.32" width="13.99" height="1.41" fill="rgb(42, 6, 10)"/>
<rect x="95.13" y="113.32" width="41.88" height="1.41" fill="rgb(8, 50, 33)"/>
<rect x="136.97" y="113.32" width="7.02" height="1.41" fill="rgb(128, 14, 20)"/>
<rect x="143.94" y="113.32" width="7.02" height="1.41" fill="rgb(8, 50, 33)"/>
<rect x="150.91" y="113.32" width="13.99" height="1.41" fill="rgb(42, 6, 10)"/>
<rect x="164.86" y="113.32" width="7.02" height="1.41" fill="rgb(128, 14, 20)"/>
<rect x="171.83" y="113.32" width="7.02" height="1.41" fill="rgb(8, 50, 33)"/>
<rect x="53.30" y="114.68" width="7.02" height="1.41" fill="rgb(128, 14, 20)"/>
<rect x="60.27" y="114.68" width="7.02" height="1.41" fill="rgb(4, 10, 8)"/>
<rect x="67.24" y="114.68" width="13.99" height="1.41" fill="rgb(78, 10, 15)"/>
<rect x="81.19" y="114.68" width="13.99" height="1.41" fill="rgb(42, 6, 10)"/>
<rect x="95.13" y="114.68" width="7.02" height="1.41" fill="rgb(8, 50, 33)"/>
<rect x="102.11" y="114.68" width="7.02" height="1.41" fill="rgb(6, 33, 23)"/>
<rect x="109.08" y="114.68" width="7.02" height="1.41" fill="rgb(8, 50, 33)"/>
<rect x="116.05" y="114.68" width="7.02" height="1.41" fill="rgb(6, 33, 23)"/>
<rect x="123.02" y="114.68" width="7.02" height="1.41" fill="rgb(8, 50, 33)"/>
<rect x="129.99" y="114.68" width="7.02" height="1.41" fill="rgb(6, 33, 23)"/>
<rect x="136.97" y="114.68" width="7.02" height="1.41" fill="rgb(128, 14, 20)"/>
<rect x="143.94" y="114.68" width="7.02" height="1.41" fill="rgb(8, 50, 33)"/>
<rect x="150.91" y="114.68" width="13.99" height="1.41" fill="rgb(42, 6, 10)"/>
<rect x="164.86" y="114.68" width="7.02" height="1.41" fill="rgb(78, 10, 15)"/>
<rect x="171.83" y="114.68" width="7.02" height="1.41" fill="rgb(8, 50, 33)"/>
<rect x="53.30" y="116.04" width="7.02" height="1.41" fill="rgb(4, 10, 8)"/>
<rect x="60.27" y="116.04" width="7.02" height="1.41" fill="rgb(8, 50, 33)"/>
<rect x="67.24" y="116.04" width="7.02" height="1.41" fill="rgb(128, 14, 20)"/>
<rect x="74.22" y="116.04" width="13.99" height="1.41" fill="rgb(42, 6, 10)"/>
<rect x="88.16" y="116.04" width="27.94" height="1.41" fill="rgb(8, 50, 33)"/>
<rect x="116.05" y="116.04" width="7.02" height="1.41" fill="rgb(6, 33, 23)"/>
<rect x="123.02" y="116.04" width="7.02" height="1.41" fill="rgb(8, 50, 33)"/>
<rect x="129.99" y="116.04" width="13.99" height="1.41" fill="rgb(6, 33, 23)"/>
<rect x="143.94" y="116.04" width="7.02" height="1.41" fill="rgb(78, 10, 15)"/>
<rect x="150.91" y="116.04" width="20.97" height="1.41" fill="rgb(42, 6, 10)"/>
<rect x="171.83" y="116.04" width="7.02" height="1.41" fill="rgb(8, 50, 33)"/>
<rect x="53.30" y="117.39" width="7.02" height="1.41" fill="rgb(128, 14, 20)"/>
<rect x="60.27" y="117.39" width="7.02" height="1.41" fill="rgb(78, 10, 15)"/>
<rect x="67.24" y="117.39" width="13.99" height="1.41" fill="rgb(42, 6, 10)"/>
<rect x="81.19" y="117.39" width="7.02" height="1.41" fill="rgb(78, 10, 15)"/>
<rect x="88.16" y="117.39" width="48.86" height="1.41" fill="rgb(8, 50, 33)"/>
<rect x="136.97" y="117.39" width="7.02" height="1.41" fill="rgb(42, 6, 10)"/>
<rect x="143.94" y="117.39" width="7.02" height="1.41" fill="rgb(78, 10, 15)"/>
<rect x="150.91" y="117.39" width="7.02" height="1.41" fill="rgb(128, 14, 20)"/>
<rect x="157.88" y="117.39" width="7.02" height="1.41" fill="rgb(42, 6, 10)"/>
<rect x="164.86" y="117.39" width="7.02" height="1.41" fill="rgb(78, 10, 15)"/>
<rect x="171.83" y="117.39" width="7.02" height="1.41" fill="rgb(8, 50, 33)"/>
<rect x="53.30" y="118.75" width="13.99" height="1.41" fill="rgb(78, 10, 15)"/>
<rect x="67.24" y="118.75" width="7.02" height="1.41" fill="rgb(212, 28, 34)"/>
<rect x="74.22" y="118.75" width="7.02" height="1.41" fill="rgb(128, 14, 20)"/>
<rect x="81.19" y="118.75" width="13.99" height="1.41" fill="rgb(42, 6, 10)"/>
<rect x="95.13" y="118.75" width="7.02" height="1.41" fill="rgb(8, 50, 33)"/>
<rect x="102.11" y="118.75" width="7.02" height="1.41" fill="rgb(6, 33, 23)"/>
<rect x="109.08" y="118.75" width="27.94" height="1.41" fill="rgb(8, 50, 33)"/>
<rect x="136.97" y="118.75" width="7.02" height="1.41" fill="rgb(128, 14, 20)"/>
<rect x="143.94" y="118.75" width="13.99" height="1.41" fill="rgb(78, 10, 15)"/>
<rect x="157.88" y="118.75" width="13.99" height="1.41" fill="rgb(42, 6, 10)"/>
<rect x="171.83" y="118.75" width="7.02" height="1.41" fill="rgb(8, 50, 33)"/>
<rect x="53.30" y="120.11" width="7.02" height="1.41" fill="rgb(42, 6, 10)"/>
<rect x="60.27" y="120.11" width="7.02" height="1.41" fill="rgb(78, 10, 15)"/>
<rect x="67.24" y="120.11" width="13.99" height="1.41" fill="rgb(212, 28, 34)"/>
<rect x="81.19" y="120.11" width="7.02" height="1.41" fill="rgb(6, 33, 23)"/>
<rect x="88.16" y="120.11" width="7.02" height="1.41" fill="rgb(42, 6, 10)"/>
<rect x="95.13" y="120.11" width="20.97" height="1.41" fill="rgb(6, 33, 23)"/>
<rect x="116.05" y="120.11" width="7.02" height="1.41" fill="rgb(8, 50, 33)"/>
<rect x="123.02" y="120.11" width="13.99" height="1.41" fill="rgb(6, 33, 23)"/>
<rect x="136.97" y="120.11" width="7.02" height="1.41" fill="rgb(128, 14, 20)"/>
<rect x="143.94" y="120.11" width="13.99" height="1.41" fill="rgb(78, 10, 15)"/>
<rect x="157.88" y="120.11" width="7.02" height="1.41" fill="rgb(128, 14, 20)"/>
<rect x="164.86" y="120.11" width="7.02" height="1.41" fill="rgb(78, 10, 15)"/>
<rect x="171.83" y="120.11" width="7.02" height="1.41" fill="rgb(6, 33, 23)"/>
<rect x="53.30" y="121.46" width="7.02" height="1.41" fill="rgb(128, 14, 20)"/>
<rect x="60.27" y="121.46" width="7.02" height="1.41" fill="rgb(42, 6, 10)"/>
<rect x="67.24" y="121.46" width="13.99" height="1.41" fill="rgb(78, 10, 15)"/>
<rect x="81.19" y="121.46" width="7.02" height="1.41" fill="rgb(8, 50, 33)"/>
<rect x="88.16" y="121.46" width="7.02" height="1.41" fill="rgb(128, 14, 20)"/>
<rect x="95.13" y="121.46" width="13.99" height="1.41" fill="rgb(8, 50, 33)"/>
<rect x="109.08" y="121.46" width="7.02" height="1.41" fill="rgb(6, 33, 23)"/>
<rect x="116.05" y="121.46" width="20.97" height="1.41" fill="rgb(16, 76, 42)"/>
<rect x="136.97" y="121.46" width="7.02" height="1.41" fill="rgb(8, 50, 33)"/>
<rect x="143.94" y="121.46" width="7.02" height="1.41" fill="rgb(78, 10, 15)"/>
<rect x="150.91" y="121.46" width="7.02" height="1.41" fill="rgb(8, 50, 33)"/>
<rect x="157.88" y="121.46" width="13.99" height="1.41" fill="rgb(78, 10, 15)"/>
<rect x="171.83" y="121.46" width="7.02" height="1.41" fill="rgb(42, 6, 10)"/>
<rect x="53.30" y="122.82" width="27.94" height="1.41" fill="rgb(42, 6, 10)"/>
<rect x="81.19" y="122.82" width="7.02" height="1.41" fill="rgb(6, 33, 23)"/>
<rect x="88.16" y="122.82" width="7.02" height="1.41" fill="rgb(4, 10, 8)"/>
<rect x="95.13" y="122.82" width="27.94" height="1.41" fill="rgb(16, 76, 42)"/>
<rect x="123.02" y="122.82" width="13.99" height="1.41" fill="rgb(26, 100, 50)"/>
<rect x="136.97" y="122.82" width="7.02" height="1.41" fill="rgb(6, 33, 23)"/>
<rect x="143.94" y="122.82" width="7.02" height="1.41" fill="rgb(128, 14, 20)"/>
<rect x="150.91" y="122.82" width="7.02" height="1.41" fill="rgb(6, 33, 23)"/>
<rect x="157.88" y="122.82" width="20.97" height="1.41" fill="rgb(78, 10, 15)"/>
<rect x="53.30" y="124.18" width="13.99" height="1.41" fill="rgb(78, 10, 15)"/>
<rect x="67.24" y="124.18" width="7.02" height="1.41" fill="rgb(42, 6, 10)"/>
<rect x="74.22" y="124.18" width="7.02" height="1.41" fill="rgb(4, 10, 8)"/>
<rect x="81.19" y="124.18" width="7.02" height="1.41" fill="rgb(42, 6, 10)"/>
<rect x="88.16" y="124.18" width="7.02" height="1.41" fill="rgb(6, 33, 23)"/>
<rect x="95.13" y="124.18" width="27.94" height="1.41" fill="rgb(16, 76, 42)"/>
<rect x="123.02" y="124.18" width="13.99" height="1.41" fill="rgb(26, 100, 50)"/>
<rect x="136.97" y="124.18" width="7.02" height="1.41" fill="rgb(4, 10, 8)"/>
<rect x="143.94" y="124.18" width="7.02" height="1.41" fill="rgb(42, 6, 10)"/>
<rect x="150.91" y="124.18" width="7.02" height="1.41" fill="rgb(6, 33, 23)"/>
<rect x="157.88" y="124.18" width="13.99" height="1.41" fill="rgb(4, 10, 8)"/>
<rect x="171.83" y="124.18" width="7.02" height="1.41" fill="rgb(42, 6, 10)"/>
<rect x="53.30" y="125.53" width="13.99" height="1.41" fill="rgb(78, 10, 15)"/>
<rect x="67.24" y="125.53" width="13.99" height="1.41" fill="rgb(4, 10, 8)"/>
<rect x="81.19" y="125.53" width="7.02" height="1.41" fill="rgb(78, 10, 15)"/>
<rect x="88.16" y="125.53" width="7.02" height="1.41" fill="rgb(42, 6, 10)"/>
<rect x="95.13" y="125.53" width="27.94" height="1.41" fill="rgb(16, 76, 42)"/>
<rect x="123.02" y="125.53" width="13.99" height="1.41" fill="rgb(26, 100, 50)"/>
<rect x="136.97" y="125.53" width="7.02" height="1.41" fill="rgb(42, 6, 10)"/>
<rect x="143.94" y="125.53" width="20.97" height="1.41" fill="rgb(4, 10, 8)"/>
<rect x="164.86" y="125.53" width="7.02" height="1.41" fill="rgb(42, 6, 10)"/>
<rect x="171.83" y="125.53" width="7.02" height="1.41" fill="rgb(4, 10, 8)"/>
<rect x="53.30" y="126.89" width="13.99" height="1.41" fill="rgb(4, 10, 8)"/>
<rect x="67.24" y="126.89" width="7.02" height="1.41" fill="rgb(78, 10, 15)"/>
<rect x="74.22" y="126.89" width="20.97" height="1.41" fill="rgb(4, 10, 8)"/>
<rect x="95.13" y="126.89" width="27.94" height="1.41" fill="rgb(16, 76, 42)"/>
<rect x="123.02" y="126.89" width="13.99" height="1.41" fill="rgb(26, 100, 50)"/>
<rect x="136.97" y="126.89" width="41.88" height="1.41" fill="rgb(4, 10, 8)"/>
<rect x="53.30" y="128.25" width="41.88" height="1.41" fill="rgb(4, 10, 8)"/>
<rect x="95.13" y="128.25" width="41.88" height="1.41" fill="rgb(16, 76, 42)"/>
<rect x="136.97" y="128.25" width="41.88" height="1.41" fill="rgb(4, 10, 8)"/>
<rect x="53.30" y="129.60" width="7.02" height="1.41" fill="rgb(6, 33, 23)"/>
<rect x="60.27" y="129.60" width="7.02" height="1.41" fill="rgb(128, 14, 20)"/>
<rect x="67.24" y="129.60" width="13.99" height="1.41" fill="rgb(78, 10, 15)"/>
<rect x="81.19" y="129.60" width="27.94" height="1.41" fill="rgb(6, 33, 23)"/>
<rect x="109.08" y="129.60" width="7.02" height="1.41" fill="rgb(8, 50, 33)"/>
<rect x="116.05" y="129.60" width="20.97" height="1.41" fill="rgb(16, 76, 42)"/>
<rect x="136.97" y="129.60" width="7.02" height="1.41" fill="rgb(42, 6, 10)"/>
<rect x="143.94" y="129.60" width="34.91" height="1.41" fill="rgb(6, 33, 23)"/>
<rect x="53.30" y="130.96" width="7.02" height="1.41" fill="rgb(42, 6, 10)"/>
<rect x="60.27" y="130.96" width="13.99" height="1.41" fill="rgb(78, 10, 15)"/>
<rect x="74.22" y="130.96" width="7.02" height="1.41" fill="rgb(128, 14, 20)"/>
<rect x="81.19" y="130.96" width="7.02" height="1.41" fill="rgb(240, 46, 48)"/>
<rect x="88.16" y="130.96" width="27.94" height="1.41" fill="rgb(6, 33, 23)"/>
<rect x="116.05" y="130.96" width="7.02" height="1.41" fill="rgb(8, 50, 33)"/>
<rect x="123.02" y="130.96" width="7.02" height="1.41" fill="rgb(6, 33, 23)"/>
<rect x="129.99" y="130.96" width="7.02" height="1.41" fill="rgb(8, 50, 33)"/>
<rect x="136.97" y="130.96" width="7.02" height="1.41" fill="rgb(6, 33, 23)"/>
<rect x="143.94" y="130.96" width="7.02" height="1.41" fill="rgb(128, 14, 20)"/>
<rect x="150.91" y="130.96" width="20.97" height="1.41" fill="rgb(4, 10, 8)"/>
<rect x="171.83" y="130.96" width="7.02" height="1.41" fill="rgb(6, 33, 23)"/>
<rect x="53.30" y="132.32" width="7.02" height="1.41" fill="rgb(4, 10, 8)"/>
<rect x="60.27" y="132.32" width="7.02" height="1.41" fill="rgb(78, 10, 15)"/>
<rect x="67.24" y="132.32" width="7.02" height="1.41" fill="rgb(128, 14, 20)"/>
<rect x="74.22" y="132.32" width="7.02" height="1.41" fill="rgb(78, 10, 15)"/>
<rect x="81.19" y="132.32" width="7.02" height="1.41" fill="rgb(240, 46, 48)"/>
<rect x="88.16" y="132.32" width="34.91" height="1.41" fill="rgb(4, 10, 8)"/>
<rect x="123.02" y="132.32" width="7.02" height="1.41" fill="rgb(8, 50, 33)"/>
<rect x="129.99" y="132.32" width="13.99" height="1.41" fill="rgb(4, 10, 8)"/>
<rect x="143.94" y="132.32" width="13.99" height="1.41" fill="rgb(42, 6, 10)"/>
<rect x="157.88" y="132.32" width="7.02" height="1.41" fill="rgb(78, 10, 15)"/>
<rect x="164.86" y="132.32" width="7.02" height="1.41" fill="rgb(42, 6, 10)"/>
<rect x="171.83" y="132.32" width="7.02" height="1.41" fill="rgb(4, 10, 8)"/>
<rect x="53.30" y="133.67" width="13.99" height="1.41" fill="rgb(4, 10, 8)"/>
<rect x="67.24" y="133.67" width="7.02" height="1.41" fill="rgb(78, 10, 15)"/>
<rect x="74.22" y="133.67" width="7.02" height="1.41" fill="rgb(42, 6, 10)"/>
<rect x="81.19" y="133.67" width="7.02" height="1.41" fill="rgb(240, 46, 48)"/>
<rect x="88.16" y="133.67" width="48.86" height="1.41" fill="rgb(8, 50, 33)"/>
<rect x="136.97" y="133.67" width="7.02" height="1.41" fill="rgb(42, 6, 10)"/>
<rect x="143.94" y="133.67" width="7.02" height="1.41" fill="rgb(78, 10, 15)"/>
<rect x="150.91" y="133.67" width="7.02" height="1.41" fill="rgb(4, 10, 8)"/>
<rect x="157.88" y="133.67" width="13.99" height="1.41" fill="rgb(42, 6, 10)"/>
<rect x="171.83" y="133.67" width="7.02" height="1.41" fill="rgb(8, 50, 33)"/>
<rect x="53.30" y="135.03" width="7.02" height="1.41" fill="rgb(4, 10, 8)"/>
<rect x="60.27" y="135.03" width="7.02" height="1.41" fill="rgb(78, 10, 15)"/>
<rect x="67.24" y="135.03" width="13.99" height="1.41" fill="rgb(42, 6, 10)"/>
<rect x="81.19" y="135.03" width="7.02" height="1.41" fill="rgb(240, 46, 48)"/>
<rect x="88.16" y="135.03" width="62.80" height="1.41" fill="rgb(6, 33, 23)"/>
<rect x="150.91" y="135.03" width="7.02" height="1.41" fill="rgb(42, 6, 10)"/>
<rect x="157.88" y="135.03" width="7.02" height="1.41" fill="rgb(6, 33, 23)"/>
<rect x="164.86" y="135.03" width="7.02" height="1.41" fill="rgb(4, 10, 8)"/>
<rect x="171.83" y="135.03" width="7.02" height="1.41" fill="rgb(6, 33, 23)"/>
<rect x="53.30" y="136.39" width="7.02" height="1.41" fill="rgb(78, 10, 15)"/>
<rect x="60.27" y="136.39" width="7.02" height="1.41" fill="rgb(4, 10, 8)"/>
<rect x="67.24" y="136.39" width="7.02" height="1.41" fill="rgb(42, 6, 10)"/>
<rect x="74.22" y="136.39" width="7.02" height="1.41" fill="rgb(4, 10, 8)"/>
<rect x="81.19" y="136.39" width="7.02" height="1.41" fill="rgb(240, 46, 48)"/>
<rect x="88.16" y="136.39" width="90.69" height="1.41" fill="rgb(4, 10, 8)"/>
<rect x="53.30" y="137.74" width="7.02" height="1.41" fill="rgb(78, 10, 15)"/>
<rect x="60.27" y="137.74" width="13.99" height="1.41" fill="rgb(42, 6, 10)"/>
<rect x="74.22" y="137.74" width="7.02" height="1.41" fill="rgb(4, 10, 8)"/>
<rect x="81.19" y="137.74" width="7.02" height="1.41" fill="rgb(240, 46, 48)"/>
<rect x="88.16" y="137.74" width="90.69" height="1.41" fill="rgb(4, 10, 8)"/>
<rect x="53.30" y="139.10" width="13.99" height="1.41" fill="rgb(78, 10, 15)"/>
<rect x="67.24" y="139.10" width="13.99" height="1.41" fill="rgb(4, 10, 8)"/>
<rect x="81.19" y="139.10" width="7.02" height="1.41" fill="rgb(240, 46, 48)"/>
<rect x="88.16" y="139.10" width="90.69" height="1.41" fill="rgb(4, 10, 8)"/>
<rect x="53.30" y="140.46" width="13.99" height="1.41" fill="rgb(78, 10, 15)"/>
<rect x="67.24" y="140.46" width="13.99" height="1.41" fill="rgb(4, 10, 8)"/>
<rect x="81.19" y="140.46" width="7.02" height="1.41" fill="rgb(240, 46, 48)"/>
<rect x="88.16" y="140.46" width="90.69" height="1.41" fill="rgb(4, 10, 8)"/>
<rect x="53.30" y="141.81" width="13.99" height="1.41" fill="rgb(78, 10, 15)"/>
<rect x="67.24" y="141.81" width="13.99" height="1.41" fill="rgb(4, 10, 8)"/>
<rect x="81.19" y="141.81" width="7.02" height="1.41" fill="rgb(240, 46, 48)"/>
<rect x="88.16" y="141.81" width="90.69" height="1.41" fill="rgb(4, 10, 8)"/>
<rect x="53.30" y="143.17" width="13.99" height="1.41" fill="rgb(6, 33, 23)"/>
<rect x="67.24" y="143.17" width="13.99" height="1.41" fill="rgb(42, 6, 10)"/>
<rect x="81.19" y="143.17" width="7.02" height="1.41" fill="rgb(240, 46, 48)"/>
<rect x="88.16" y="143.17" width="48.86" height="1.41" fill="rgb(6, 33, 23)"/>
<rect x="136.97" y="143.17" width="7.02" height="1.41" fill="rgb(42, 6, 10)"/>
<rect x="143.94" y="143.17" width="7.02" height="1.41" fill="rgb(128, 14, 20)"/>
<rect x="150.91" y="143.17" width="13.99" height="1.41" fill="rgb(6, 33, 23)"/>
<rect x="164.86" y="143.17" width="7.02" height="1.41" fill="rgb(212, 28, 34)"/>
<rect x="171.83" y="143.17" width="7.02" height="1.41" fill="rgb(42, 6, 10)"/>
<rect x="53.30" y="144.53" width="7.02" height="1.41" fill="rgb(6, 33, 23)"/>
<rect x="60.27" y="144.53" width="7.02" height="1.41" fill="rgb(42, 6, 10)"/>
<rect x="67.24" y="144.53" width="7.02" height="1.41" fill="rgb(78, 10, 15)"/>
<rect x="74.22" y="144.53" width="7.02" height="1.41" fill="rgb(6, 33, 23)"/>
<rect x="81.19" y="144.53" width="7.02" height="1.41" fill="rgb(240, 46, 48)"/>
<rect x="88.16" y="144.53" width="34.91" height="1.41" fill="rgb(6, 33, 23)"/>
<rect x="123.02" y="144.53" width="7.02" height="1.41" fill="rgb(8, 50, 33)"/>
<rect x="129.99" y="144.53" width="7.02" height="1.41" fill="rgb(6, 33, 23)"/>
<rect x="136.97" y="144.53" width="7.02" height="1.41" fill="rgb(4, 10, 8)"/>
<rect x="143.94" y="144.53" width="13.99" height="1.41" fill="rgb(42, 6, 10)"/>
<rect x="157.88" y="144.53" width="7.02" height="1.41" fill="rgb(6, 33, 23)"/>
<rect x="164.86" y="144.53" width="7.02" height="1.41" fill="rgb(212, 28, 34)"/>
<rect x="171.83" y="144.53" width="7.02" height="1.41" fill="rgb(128, 14, 20)"/>
<rect x="53.30" y="145.88" width="7.02" height="1.41" fill="rgb(42, 6, 10)"/>
<rect x="60.27" y="145.88" width="20.97" height="1.41" fill="rgb(8, 50, 33)"/>
<rect x="81.19" y="145.88" width="7.02" height="1.41" fill="rgb(240, 46, 48)"/>
<rect x="88.16" y="145.88" width="7.02" height="1.41" fill="rgb(8, 50, 33)"/>
<rect x="95.13" y="145.88" width="7.02" height="1.41" fill="rgb(6, 33, 23)"/>
<rect x="102.11" y="145.88" width="34.91" height="1.41" fill="rgb(8, 50, 33)"/>
<rect x="136.97" y="145.88" width="7.02" height="1.41" fill="rgb(212, 28, 34)"/>
<rect x="143.94" y="145.88" width="13.99" height="1.41" fill="rgb(8, 50, 33)"/>
<rect x="157.88" y="145.88" width="7.02" height="1.41" fill="rgb(6, 33, 23)"/>
<rect x="164.86" y="145.88" width="7.02" height="1.41" fill="rgb(212, 28, 34)"/>
<rect x="171.83" y="145.88" width="7.02" height="1.41" fill="rgb(42, 6, 10)"/>
<rect x="53.30" y="147.24" width="7.02" height="1.41" fill="rgb(42, 6, 10)"/>
<rect x="60.27" y="147.24" width="20.97" height="1.41" fill="rgb(8, 50, 33)"/>
<rect x="81.19" y="147.24" width="7.02" height="1.41" fill="rgb(240, 46, 48)"/>
<rect x="88.16" y="147.24" width="48.86" height="1.41" fill="rgb(4, 10, 8)"/>
<rect x="136.97" y="147.24" width="7.02" height="1.41" fill="rgb(212, 28, 34)"/>
<rect x="143.94" y="147.24" width="34.91" height="1.41" fill="rgb(4, 10, 8)"/>
<rect x="53.30" y="148.60" width="27.94" height="1.41" fill="rgb(4, 10, 8)"/>
<rect x="81.19" y="148.60" width="7.02" height="1.41" fill="rgb(240, 46, 48)"/>
<rect x="88.16" y="148.60" width="90.69" height="1.41" fill="rgb(4, 10, 8)"/>
<rect x="53.30" y="149.95" width="7.02" height="1.41" fill="rgb(8, 50, 33)"/>
<rect x="60.27" y="149.95" width="7.02" height="1.41" fill="rgb(78, 10, 15)"/>
<rect x="67.24" y="149.95" width="13.99" height="1.41" fill="rgb(8, 50, 33)"/>
<rect x="81.19" y="149.95" width="7.02" height="1.41" fill="rgb(240, 46, 48)"/>
<rect x="88.16" y="149.95" width="90.69" height="1.41" fill="rgb(4, 10, 8)"/>
<rect x="53.30" y="151.31" width="34.91" height="1.41" fill="rgb(8, 50, 33)"/>
<rect x="88.16" y="151.31" width="27.94" height="1.41" fill="rgb(6, 33, 23)"/>
<rect x="116.05" y="151.31" width="7.02" height="1.41" fill="rgb(78, 10, 15)"/>
<rect x="123.02" y="151.31" width="13.99" height="1.41" fill="rgb(6, 33, 23)"/>
<rect x="136.97" y="151.31" width="7.02" height="1.41" fill="rgb(4, 10, 8)"/>
<rect x="143.94" y="151.31" width="20.97" height="1.41" fill="rgb(6, 33, 23)"/>
<rect x="164.86" y="151.31" width="7.02" height="1.41" fill="rgb(212, 28, 34)"/>
<rect x="171.83" y="151.31" width="7.02" height="1.41" fill="rgb(6, 33, 23)"/>
<rect x="53.30" y="152.67" width="7.02" height="1.41" fill="rgb(4, 10, 8)"/>
<rect x="60.27" y="152.67" width="7.02" height="1.41" fill="rgb(6, 33, 23)"/>
<rect x="67.24" y="152.67" width="7.02" height="1.41" fill="rgb(4, 10, 8)"/>
<rect x="74.22" y="152.67" width="7.02" height="1.41" fill="rgb(6, 33, 23)"/>
<rect x="81.19" y="152.67" width="13.99" height="1.41" fill="rgb(4, 10, 8)"/>
<rect x="95.13" y="152.67" width="7.02" height="1.41" fill="rgb(6, 33, 23)"/>
<rect x="102.11" y="152.67" width="7.02" height="1.41" fill="rgb(78, 10, 15)"/>
<rect x="109.08" y="152.67" width="7.02" height="1.41" fill="rgb(42, 6, 10)"/>
<rect x="116.05" y="152.67" width="7.02" height="1.41" fill="rgb(128, 14, 20)"/>
<rect x="123.02" y="152.67" width="13.99" height="1.41" fill="rgb(4, 10, 8)"/>
<rect x="136.97" y="152.67" width="7.02" height="1.41" fill="rgb(128, 14, 20)"/>
<rect x="143.94" y="152.67" width="13.99" height="1.41" fill="rgb(78, 10, 15)"/>
<rect x="157.88" y="152.67" width="7.02" height="1.41" fill="rgb(42, 6, 10)"/>
<rect x="164.86" y="152.67" width="7.02" height="1.41" fill="rgb(212, 28, 34)"/>
<rect x="171.83" y="152.67" width="7.02" height="1.41" fill="rgb(4, 10, 8)"/>
<rect x="53.30" y="154.02" width="41.88" height="1.41" fill="rgb(8, 50, 33)"/>
<rect x="95.13" y="154.02" width="7.02" height="1.41" fill="rgb(42, 6, 10)"/>
<rect x="102.11" y="154.02" width="7.02" height="1.41" fill="rgb(4, 10, 8)"/>
<rect x="109.08" y="154.02" width="7.02" height="1.41" fill="rgb(6, 33, 23)"/>
<rect x="116.05" y="154.02" width="7.02" height="1.41" fill="rgb(78, 10, 15)"/>
<rect x="123.02" y="154.02" width="13.99" height="1.41" fill="rgb(8, 50, 33)"/>
<rect x="136.97" y="154.02" width="13.99" height="1.41" fill="rgb(128, 14, 20)"/>
<rect x="150.91" y="154.02" width="7.02" height="1.41" fill="rgb(78, 10, 15)"/>
<rect x="157.88" y="154.02" width="7.02" height="1.41" fill="rgb(4, 10, 8)"/>
<rect x="164.86" y="154.02" width="7.02" height="1.41" fill="rgb(212, 28, 34)"/>
<rect x="171.83" y="154.02" width="7.02" height="1.41" fill="rgb(8, 50, 33)"/>
<rect x="53.30" y="155.38" width="41.88" height="1.41" fill="rgb(8, 50, 33)"/>
<rect x="95.13" y="155.38" width="7.02" height="1.41" fill="rgb(4, 10, 8)"/>
<rect x="102.11" y="155.38" width="20.97" height="1.41" fill="rgb(8, 50, 33)"/>
<rect x="123.02" y="155.38" width="7.02" height="1.41" fill="rgb(6, 33, 23)"/>
<rect x="129.99" y="155.38" width="7.02" height="1.41" fill="rgb(8, 50, 33)"/>
<rect x="136.97" y="155.38" width="13.99" height="1.41" fill="rgb(78, 10, 15)"/>
<rect x="150.91" y="155.38" width="7.02" height="1.41" fill="rgb(212, 28, 34)"/>
<rect x="157.88" y="155.38" width="13.99" height="1.41" fill="rgb(128, 14, 20)"/>
<rect x="171.83" y="155.38" width="7.02" height="1.41" fill="rgb(78, 10, 15)"/>
<rect x="53.30" y="156.74" width="34.91" height="1.41" fill="rgb(4, 10, 8)"/>
<rect x="88.16" y="156.74" width="7.02" height="1.41" fill="rgb(8, 50, 33)"/>
<rect x="95.13" y="156.74" width="7.02" height="1.41" fill="rgb(42, 6, 10)"/>
<rect x="102.11" y="156.74" width="20.97" height="1.41" fill="rgb(8, 50, 33)"/>
<rect x="123.02" y="156.74" width="7.02" height="1.41" fill="rgb(42, 6, 10)"/>
<rect x="129.99" y="156.74" width="7.02" height="1.41" fill="rgb(8, 50, 33)"/>
<rect x="136.97" y="156.74" width="20.97" height="1.41" fill="rgb(128, 14, 20)"/>
<rect x="157.88" y="156.74" width="7.02" height="1.41" fill="rgb(8, 50, 33)"/>
<rect x="164.86" y="156.74" width="13.99" height="1.41" fill="rgb(42, 6, 10)"/>
<rect x="53.30" y="158.09" width="76.74" height="1.41" fill="rgb(8, 50, 33)"/>
<rect x="129.99" y="158.09" width="20.97" height="1.41" fill="rgb(42, 6, 10)"/>
<rect x="150.91" y="158.09" width="7.02" height="1.41" fill="rgb(212, 28, 34)"/>
<rect x="157.88" y="158.09" width="7.02" height="1.41" fill="rgb(8, 50, 33)"/>
<rect x="164.86" y="158.09" width="13.99" height="1.41" fill="rgb(42, 6, 10)"/>
<rect x="53.30" y="159.45" width="55.83" height="1.41" fill="rgb(8, 50, 33)"/>
<rect x="109.08" y="159.45" width="7.02" height="1.41" fill="rgb(78, 10, 15)"/>
<rect x="116.05" y="159.45" width="7.02" height="1.41" fill="rgb(8, 50, 33)"/>
<rect x="123.02" y="159.45" width="7.02" height="1.41" fill="rgb(42, 6, 10)"/>
<rect x="129.99" y="159.45" width="7.02" height="1.41" fill="rgb(8, 50, 33)"/>
<rect x="136.97" y="159.45" width="7.02" height="1.41" fill="rgb(42, 6, 10)"/>
<rect x="143.94" y="159.45" width="7.02" height="1.41" fill="rgb(78, 10, 15)"/>
<rect x="150.91" y="159.45" width="7.02" height="1.41" fill="rgb(212, 28, 34)"/>
<rect x="157.88" y="159.45" width="7.02" height="1.41" fill="rgb(78, 10, 15)"/>
<rect x="164.86" y="159.45" width="7.02" height="1.41" fill="rgb(212, 28, 34)"/>
<rect x="171.83" y="159.45" width="7.02" height="1.41" fill="rgb(42, 6, 10)"/>
<rect x="53.30" y="160.81" width="41.88" height="1.41" fill="rgb(4, 10, 8)"/>
<rect x="95.13" y="160.81" width="13.99" height="1.41" fill="rgb(42, 6, 10)"/>
<rect x="109.08" y="160.81" width="7.02" height="1.41" fill="rgb(8, 50, 33)"/>
<rect x="116.05" y="160.81" width="7.02" height="1.41" fill="rgb(42, 6, 10)"/>
<rect x="123.02" y="160.81" width="7.02" height="1.41" fill="rgb(8, 50, 33)"/>
<rect x="129.99" y="160.81" width="7.02" height="1.41" fill="rgb(42, 6, 10)"/>
<rect x="136.97" y="160.81" width="7.02" height="1.41" fill="rgb(6, 33, 23)"/>
<rect x="143.94" y="160.81" width="7.02" height="1.41" fill="rgb(78, 10, 15)"/>
<rect x="150.91" y="160.81" width="7.02" height="1.41" fill="rgb(128, 14, 20)"/>
<rect x="157.88" y="160.81" width="7.02" height="1.41" fill="rgb(42, 6, 10)"/>
<rect x="164.86" y="160.81" width="7.02" height="1.41" fill="rgb(128, 14, 20)"/>
<rect x="171.83" y="160.81" width="7.02" height="1.41" fill="rgb(42, 6, 10)"/>
<rect x="53.30" y="162.16" width="41.88" height="1.41" fill="rgb(8, 50, 33)"/>
<rect x="95.13" y="162.16" width="7.02" height="1.41" fill="rgb(6, 33, 23)"/>
<rect x="102.11" y="162.16" width="7.02" height="1.41" fill="rgb(42, 6, 10)"/>
<rect x="109.08" y="162.16" width="13.99" height="1.41" fill="rgb(8, 50, 33)"/>
<rect x="123.02" y="162.16" width="7.02" height="1.41" fill="rgb(42, 6, 10)"/>
<rect x="129.99" y="162.16" width="13.99" height="1.41" fill="rgb(8, 50, 33)"/>
<rect x="143.94" y="162.16" width="7.02" height="1.41" fill="rgb(42, 6, 10)"/>
<rect x="150.91" y="162.16" width="7.02" height="1.41" fill="rgb(212, 28, 34)"/>
<rect x="157.88" y="162.16" width="7.02" height="1.41" fill="rgb(78, 10, 15)"/>
<rect x="164.86" y="162.16" width="7.02" height="1.41" fill="rgb(212, 28, 34)"/>
<rect x="171.83" y="162.16" width="7.02" height="1.41" fill="rgb(6, 33, 23)"/>
<rect x="53.30" y="163.52" width="7.02" height="1.41" fill="rgb(4, 10, 8)"/>
<rect x="60.27" y="163.52" width="7.02" height="1.41" fill="rgb(6, 33, 23)"/>
<rect x="67.24" y="163.52" width="27.94" height="1.41" fill="rgb(4, 10, 8)"/>
<rect x="95.13" y="163.52" width="27.94" height="1.41" fill="rgb(8, 50, 33)"/>
<rect x="123.02" y="163.52" width="7.02" height="1.41" fill="rgb(4, 10, 8)"/>
<rect x="129.99" y="163.52" width="7.02" height="1.41" fill="rgb(42, 6, 10)"/>
<rect x="136.97" y="163.52" width="7.02" height="1.41" fill="rgb(6, 33, 23)"/>
<rect x="143.94" y="163.52" width="7.02" height="1.41" fill="rgb(42, 6, 10)"/>
<rect x="150.91" y="163.52" width="7.02" height="1.41" fill="rgb(212, 28, 34)"/>
<rect x="157.88" y="163.52" width="13.99" height="1.41" fill="rgb(78, 10, 15)"/>
<rect x="171.83" y="163.52" width="7.02" height="1.41" fill="rgb(128, 14, 20)"/>
<rect x="53.30" y="164.88" width="41.88" height="1.41" fill="rgb(8, 50, 33)"/>
<rect x="95.13" y="164.88" width="7.02" height="1.41" fill="rgb(42, 6, 10)"/>
<rect x="102.11" y="164.88" width="13.99" height="1.41" fill="rgb(8, 50, 33)"/>
<rect x="116.05" y="164.88" width="48.86" height="1.41" fill="rgb(78, 10, 15)"/>
<rect x="164.86" y="164.88" width="7.02" height="1.41" fill="rgb(6, 33, 23)"/>
<rect x="171.83" y="164.88" width="7.02" height="1.41" fill="rgb(42, 6, 10)"/>
<rect x="53.30" y="166.23" width="41.88" height="1.41" fill="rgb(4, 10, 8)"/>
<rect x="95.13" y="166.23" width="20.97" height="1.41" fill="rgb(6, 33, 23)"/>
<rect x="116.05" y="166.23" width="20.97" height="1.41" fill="rgb(42, 6, 10)"/>
<rect x="136.97" y="166.23" width="20.97" height="1.41" fill="rgb(128, 14, 20)"/>
<rect x="157.88" y="166.23" width="7.02" height="1.41" fill="rgb(42, 6, 10)"/>
<rect x="164.86" y="166.23" width="13.99" height="1.41" fill="rgb(78, 10, 15)"/>
<rect x="53.30" y="167.59" width="41.88" height="1.41" fill="rgb(6, 33, 23)"/>
<rect x="95.13" y="167.59" width="7.02" height="1.41" fill="rgb(4, 10, 8)"/>
<rect x="102.11" y="167.59" width="7.02" height="1.41" fill="rgb(78, 10, 15)"/>
<rect x="109.08" y="167.59" width="7.02" height="1.41" fill="rgb(8, 50, 33)"/>
<rect x="116.05" y="167.59" width="13.99" height="1.41" fill="rgb(78, 10, 15)"/>
<rect x="129.99" y="167.59" width="7.02" height="1.41" fill="rgb(4, 10, 8)"/>
<rect x="136.97" y="167.59" width="7.02" height="1.41" fill="rgb(128, 14, 20)"/>
<rect x="143.94" y="167.59" width="7.02" height="1.41" fill="rgb(78, 10, 15)"/>
<rect x="150.91" y="167.59" width="7.02" height="1.41" fill="rgb(8, 50, 33)"/>
<rect x="157.88" y="167.59" width="7.02" height="1.41" fill="rgb(42, 6, 10)"/>
<rect x="164.86" y="167.59" width="7.02" height="1.41" fill="rgb(8, 50, 33)"/>
<rect x="171.83" y="167.59" width="7.02" height="1.41" fill="rgb(42, 6, 10)"/>
<rect x="53.30" y="168.95" width="83.72" height="1.41" fill="rgb(8, 50, 33)"/>
<rect x="136.97" y="168.95" width="7.02" height="1.41" fill="rgb(6, 33, 23)"/>
<rect x="143.94" y="168.95" width="7.02" height="1.41" fill="rgb(128, 14, 20)"/>
<rect x="150.91" y="168.95" width="7.02" height="1.41" fill="rgb(78, 10, 15)"/>
<rect x="157.88" y="168.95" width="20.97" height="1.41" fill="rgb(42, 6, 10)"/>
<rect x="53.30" y="170.30" width="7.02" height="1.41" fill="rgb(8, 50, 33)"/>
<rect x="60.27" y="170.30" width="7.02" height="1.41" fill="rgb(6, 33, 23)"/>
<rect x="67.24" y="170.30" width="27.94" height="1.41" fill="rgb(8, 50, 33)"/>
<rect x="95.13" y="170.30" width="27.94" height="1.41" fill="rgb(6, 33, 23)"/>
<rect x="123.02" y="170.30" width="7.02" height="1.41" fill="rgb(8, 50, 33)"/>
<rect x="129.99" y="170.30" width="13.99" height="1.41" fill="rgb(6, 33, 23)"/>
<rect x="143.94" y="170.30" width="7.02" height="1.41" fill="rgb(128, 14, 20)"/>
<rect x="150.91" y="170.30" width="7.02" height="1.41" fill="rgb(78, 10, 15)"/>
<rect x="157.88" y="170.30" width="7.02" height="1.41" fill="rgb(6, 33, 23)"/>
<rect x="164.86" y="170.30" width="7.02" height="1.41" fill="rgb(42, 6, 10)"/>
<rect x="171.83" y="170.30" width="7.02" height="1.41" fill="rgb(6, 33, 23)"/>
<rect x="53.30" y="171.66" width="20.97" height="1.41" fill="rgb(8, 50, 33)"/>
<rect x="74.22" y="171.66" width="20.97" height="1.41" fill="rgb(42, 6, 10)"/>
<rect x="95.13" y="171.66" width="20.97" height="1.41" fill="rgb(78, 10, 15)"/>
<rect x="116.05" y="171.66" width="13.99" height="1.41" fill="rgb(6, 33, 23)"/>
<rect x="129.99" y="171.66" width="7.02" height="1.41" fill="rgb(42, 6, 10)"/>
<rect x="136.97" y="171.66" width="7.02" height="1.41" fill="rgb(6, 33, 23)"/>
<rect x="143.94" y="171.66" width="7.02" height="1.41" fill="rgb(78, 10, 15)"/>
<rect x="150.91" y="171.66" width="7.02" height="1.41" fill="rgb(128, 14, 20)"/>
<rect x="157.88" y="171.66" width="7.02" height="1.41" fill="rgb(42, 6, 10)"/>
<rect x="164.86" y="171.66" width="13.99" height="1.41" fill="rgb(6, 33, 23)"/>
<rect x="53.30" y="173.02" width="20.97" height="1.41" fill="rgb(6, 33, 23)"/>
<rect x="74.22" y="173.02" width="41.88" height="1.41" fill="rgb(42, 6, 10)"/>
<rect x="116.05" y="173.02" width="7.02" height="1.41" fill="rgb(8, 50, 33)"/>
<rect x="123.02" y="173.02" width="13.99" height="1.41" fill="rgb(42, 6, 10)"/>
<rect x="136.97" y="173.02" width="7.02" height="1.41" fill="rgb(128, 14, 20)"/>
<rect x="143.94" y="173.02" width="13.99" height="1.41" fill="rgb(78, 10, 15)"/>
<rect x="157.88" y="173.02" width="7.02" height="1.41" fill="rgb(8, 50, 33)"/>
<rect x="164.86" y="173.02" width="7.02" height="1.41" fill="rgb(78, 10, 15)"/>
<rect x="171.83" y="173.02" width="7.02" height="1.41" fill="rgb(42, 6, 10)"/>
<rect x="53.30" y="174.37" width="20.97" height="1.41" fill="rgb(6, 33, 23)"/>
<rect x="74.22" y="174.37" width="20.97" height="1.41" fill="rgb(42, 6, 10)"/>
<rect x="95.13" y="174.37" width="20.97" height="1.41" fill="rgb(78, 10, 15)"/>
<rect x="116.05" y="174.37" width="7.02" height="1.41" fill="rgb(8, 50, 33)"/>
<rect x="123.02" y="174.37" width="7.02" height="1.41" fill="rgb(42, 6, 10)"/>
<rect x="129.99" y="174.37" width="7.02" height="1.41" fill="rgb(8, 50, 33)"/>
<rect x="136.97" y="174.37" width="7.02" height="1.41" fill="rgb(4, 10, 8)"/>
<rect x="143.94" y="174.37" width="7.02" height="1.41" fill="rgb(42, 6, 10)"/>
<rect x="150.91" y="174.37" width="7.02" height="1.41" fill="rgb(4, 10, 8)"/>
<rect x="157.88" y="174.37" width="7.02" height="1.41" fill="rgb(8, 50, 33)"/>
<rect x="164.86" y="174.37" width="13.99" height="1.41" fill="rgb(78, 10, 15)"/>
<rect x="53.30" y="175.73" width="34.91" height="1.41" fill="rgb(4, 10, 8)"/>
<rect x="88.16" y="175.73" width="7.02" height="1.41" fill="rgb(8, 50, 33)"/>
<rect x="95.13" y="175.73" width="13.99" height="1.41" fill="rgb(6, 33, 23)"/>
<rect x="109.08" y="175.73" width="7.02" height="1.41" fill="rgb(78, 10, 15)"/>
<rect x="116.05" y="175.73" width="7.02" height="1.41" fill="rgb(6, 33, 23)"/>
<rect x="123.02" y="175.73" width="13.99" height="1.41" fill="rgb(42, 6, 10)"/>
<rect x="136.97" y="175.73" width="7.02" height="1.41" fill="rgb(128, 14, 20)"/>
<rect x="143.94" y="175.73" width="13.99" height="1.41" fill="rgb(6, 33, 23)"/>
<rect x="157.88" y="175.73" width="7.02" height="1.41" fill="rgb(128, 14, 20)"/>
<rect x="164.86" y="175.73" width="13.99" height="1.41" fill="rgb(78, 10, 15)"/>
<rect x="53.30" y="177.09" width="7.02" height="1.41" fill="rgb(6, 33, 23)"/>
<rect x="60.27" y="177.09" width="13.99" height="1.41" fill="rgb(4, 10, 8)"/>
<rect x="74.22" y="177.09" width="20.97" height="1.41" fill="rgb(6, 33, 23)"/>
<rect x="95.13" y="177.09" width="41.88" height="1.41" fill="rgb(8, 50, 33)"/>
<rect x="136.97" y="177.09" width="13.99" height="1.41" fill="rgb(128, 14, 20)"/>
<rect x="150.91" y="177.09" width="13.99" height="1.41" fill="rgb(42, 6, 10)"/>
<rect x="164.86" y="177.09" width="13.99" height="1.41" fill="rgb(78, 10, 15)"/>
<rect x="53.30" y="178.44" width="41.88" height="1.41" fill="rgb(4, 10, 8)"/>
<rect x="95.13" y="178.44" width="7.02" height="1.41" fill="rgb(6, 33, 23)"/>
<rect x="102.11" y="178.44" width="7.02" height="1.41" fill="rgb(4, 10, 8)"/>
<rect x="109.08" y="178.44" width="7.02" height="1.41" fill="rgb(128, 14, 20)"/>
<rect x="116.05" y="178.44" width="13.99" height="1.41" fill="rgb(6, 33, 23)"/>
<rect x="129.99" y="178.44" width="7.02" height="1.41" fill="rgb(42, 6, 10)"/>
<rect x="136.97" y="178.44" width="7.02" height="1.41" fill="rgb(78, 10, 15)"/>
<rect x="143.94" y="178.44" width="7.02" height="1.41" fill="rgb(8, 50, 33)"/>
<rect x="150.91" y="178.44" width="7.02" height="1.41" fill="rgb(128, 14, 20)"/>
<rect x="157.88" y="178.44" width="7.02" height="1.41" fill="rgb(78, 10, 15)"/>
<rect x="164.86" y="178.44" width="7.02" height="1.41" fill="rgb(128, 14, 20)"/>
<rect x="171.83" y="178.44" width="7.02" height="1.41" fill="rgb(78, 10, 15)"/>
<rect x="53.30" y="179.80" width="7.02" height="1.41" fill="rgb(6, 33, 23)"/>
<rect x="60.27" y="179.80" width="7.02" height="1.41" fill="rgb(8, 50, 33)"/>
<rect x="67.24" y="179.80" width="34.91" height="1.41" fill="rgb(6, 33, 23)"/>
<rect x="102.11" y="179.80" width="27.94" height="1.41" fill="rgb(8, 50, 33)"/>
<rect x="129.99" y="179.80" width="7.02" height="1.41" fill="rgb(6, 33, 23)"/>
<rect x="136.97" y="179.80" width="7.02" height="1.41" fill="rgb(78, 10, 15)"/>
<rect x="143.94" y="179.80" width="7.02" height="1.41" fill="rgb(212, 28, 34)"/>
<rect x="150.91" y="179.80" width="7.02" height="1.41" fill="rgb(8, 50, 33)"/>
<rect x="157.88" y="179.80" width="7.02" height="1.41" fill="rgb(212, 28, 34)"/>
<rect x="164.86" y="179.80" width="13.99" height="1.41" fill="rgb(78, 10, 15)"/>
<rect x="53.30" y="181.16" width="41.88" height="1.41" fill="rgb(4, 10, 8)"/>
<rect x="95.13" y="181.16" width="7.02" height="1.41" fill="rgb(42, 6, 10)"/>
<rect x="102.11" y="181.16" width="7.02" height="1.41" fill="rgb(128, 14, 20)"/>
<rect x="109.08" y="181.16" width="20.97" height="1.41" fill="rgb(8, 50, 33)"/>
<rect x="129.99" y="181.16" width="7.02" height="1.41" fill="rgb(4, 10, 8)"/>
<rect x="136.97" y="181.16" width="7.02" height="1.41" fill="rgb(8, 50, 33)"/>
<rect x="143.94" y="181.16" width="7.02" height="1.41" fill="rgb(212, 28, 34)"/>
<rect x="150.91" y="181.16" width="7.02" height="1.41" fill="rgb(42, 6, 10)"/>
<rect x="157.88" y="181.16" width="7.02" height="1.41" fill="rgb(212, 28, 34)"/>
<rect x="164.86" y="181.16" width="7.02" height="1.41" fill="rgb(42, 6, 10)"/>
<rect x="171.83" y="181.16" width="7.02" height="1.41" fill="rgb(4, 10, 8)"/>
<rect x="53.30" y="182.51" width="41.88" height="1.41" fill="rgb(8, 50, 33)"/>
<rect x="95.13" y="182.51" width="7.02" height="1.41" fill="rgb(6, 33, 23)"/>
<rect x="102.11" y="182.51" width="7.02" height="1.41" fill="rgb(128, 14, 20)"/>
<rect x="109.08" y="182.51" width="7.02" height="1.41" fill="rgb(4, 10, 8)"/>
<rect x="116.05" y="182.51" width="7.02" height="1.41" fill="rgb(42, 6, 10)"/>
<rect x="123.02" y="182.51" width="13.99" height="1.41" fill="rgb(6, 33, 23)"/>
<rect x="136.97" y="182.51" width="7.02" height="1.41" fill="rgb(78, 10, 15)"/>
<rect x="143.94" y="182.51" width="7.02" height="1.41" fill="rgb(212, 28, 34)"/>
<rect x="150.91" y="182.51" width="7.02" height="1.41" fill="rgb(42, 6, 10)"/>
<rect x="157.88" y="182.51" width="7.02" height="1.41" fill="rgb(6, 33, 23)"/>
<rect x="164.86" y="182.51" width="13.99" height="1.41" fill="rgb(8, 50, 33)"/>
<rect x="53.30" y="183.87" width="13.99" height="1.41" fill="rgb(4, 10, 8)"/>
<rect x="67.24" y="183.87" width="7.02" height="1.41" fill="rgb(6, 33, 23)"/>
<rect x="74.22" y="183.87" width="7.02" height="1.41" fill="rgb(4, 10, 8)"/>
<rect x="81.19" y="183.87" width="7.02" height="1.41" fill="rgb(6, 33, 23)"/>
<rect x="88.16" y="183.87" width="7.02" height="1.41" fill="rgb(4, 10, 8)"/>
<rect x="95.13" y="183.87" width="7.02" height="1.41" fill="rgb(6, 33, 23)"/>
<rect x="102.11" y="183.87" width="7.02" height="1.41" fill="rgb(78, 10, 15)"/>
<rect x="109.08" y="183.87" width="7.02" height="1.41" fill="rgb(4, 10, 8)"/>
<rect x="116.05" y="183.87" width="7.02" height="1.41" fill="rgb(78, 10, 15)"/>
<rect x="123.02" y="183.87" width="20.97" height="1.41" fill="rgb(8, 50, 33)"/>
<rect x="143.94" y="183.87" width="7.02" height="1.41" fill="rgb(212, 28, 34)"/>
<rect x="150.91" y="183.87" width="13.99" height="1.41" fill="rgb(128, 14, 20)"/>
<rect x="164.86" y="183.87" width="7.02" height="1.41" fill="rgb(8, 50, 33)"/>
<rect x="171.83" y="183.87" width="7.02" height="1.41" fill="rgb(78, 10, 15)"/>
<rect x="53.30" y="185.23" width="55.83" height="1.41" fill="rgb(8, 50, 33)"/>
<rect x="109.08" y="185.23" width="7.02" height="1.41" fill="rgb(42, 6, 10)"/>
<rect x="116.05" y="185.23" width="7.02" height="1.41" fill="rgb(8, 50, 33)"/>
<rect x="123.02" y="185.23" width="13.99" height="1.41" fill="rgb(42, 6, 10)"/>
<rect x="136.97" y="185.23" width="7.02" height="1.41" fill="rgb(8, 50, 33)"/>
<rect x="143.94" y="185.23" width="7.02" height="1.41" fill="rgb(78, 10, 15)"/>
<rect x="150.91" y="185.23" width="7.02" height="1.41" fill="rgb(8, 50, 33)"/>
<rect x="157.88" y="185.23" width="7.02" height="1.41" fill="rgb(78, 10, 15)"/>
<rect x="164.86" y="185.23" width="7.02" height="1.41" fill="rgb(4, 10, 8)"/>
<rect x="171.83" y="185.23" width="7.02" height="1.41" fill="rgb(8, 50, 33)"/>
<rect x="53.30" y="186.58" width="7.02" height="1.41" fill="rgb(6, 33, 23)"/>
<rect x="60.27" y="186.58" width="48.86" height="1.41" fill="rgb(8, 50, 33)"/>
<rect x="109.08" y="186.58" width="7.02" height="1.41" fill="rgb(6, 33, 23)"/>
<rect x="116.05" y="186.58" width="7.02" height="1.41" fill="rgb(42, 6, 10)"/>
<rect x="123.02" y="186.58" width="13.99" height="1.41" fill="rgb(128, 14, 20)"/>
<rect x="136.97" y="186.58" width="20.97" height="1.41" fill="rgb(8, 50, 33)"/>
<rect x="157.88" y="186.58" width="7.02" height="1.41" fill="rgb(78, 10, 15)"/>
<rect x="164.86" y="186.58" width="7.02" height="1.41" fill="rgb(42, 6, 10)"/>
<rect x="171.83" y="186.58" width="7.02" height="1.41" fill="rgb(4, 10, 8)"/>
<rect x="53.30" y="187.94" width="7.02" height="1.41" fill="rgb(42, 6, 10)"/>
<rect x="60.27" y="187.94" width="20.97" height="1.41" fill="rgb(8, 50, 33)"/>
<rect x="81.19" y="187.94" width="13.99" height="1.41" fill="rgb(42, 6, 10)"/>
<rect x="95.13" y="187.94" width="7.02" height="1.41" fill="rgb(8, 50, 33)"/>
<rect x="102.11" y="187.94" width="13.99" height="1.41" fill="rgb(42, 6, 10)"/>
<rect x="116.05" y="187.94" width="7.02" height="1.41" fill="rgb(6, 33, 23)"/>
<rect x="123.02" y="187.94" width="7.02" height="1.41" fill="rgb(128, 14, 20)"/>
<rect x="129.99" y="187.94" width="7.02" height="1.41" fill="rgb(78, 10, 15)"/>
<rect x="136.97" y="187.94" width="7.02" height="1.41" fill="rgb(6, 33, 23)"/>
<rect x="143.94" y="187.94" width="7.02" height="1.41" fill="rgb(128, 14, 20)"/>
<rect x="150.91" y="187.94" width="7.02" height="1.41" fill="rgb(6, 33, 23)"/>
<rect x="157.88" y="187.94" width="7.02" height="1.41" fill="rgb(128, 14, 20)"/>
<rect x="164.86" y="187.94" width="7.02" height="1.41" fill="rgb(42, 6, 10)"/>
<rect x="171.83" y="187.94" width="7.02" height="1.41" fill="rgb(8, 50, 33)"/>
<rect x="53.30" y="189.30" width="7.02" height="1.41" fill="rgb(42, 6, 10)"/>
<rect x="60.27" y="189.30" width="20.97" height="1.41" fill="rgb(8, 50, 33)"/>
<rect x="81.19" y="189.30" width="13.99" height="1.41" fill="rgb(42, 6, 10)"/>
<rect x="95.13" y="189.30" width="7.02" height="1.41" fill="rgb(128, 14, 20)"/>
<rect x="102.11" y="189.30" width="7.02" height="1.41" fill="rgb(4, 10, 8)"/>
<rect x="109.08" y="189.30" width="13.99" height="1.41" fill="rgb(8, 50, 33)"/>
<rect x="123.02" y="189.30" width="7.02" height="1.41" fill="rgb(42, 6, 10)"/>
<rect x="129.99" y="189.30" width="7.02" height="1.41" fill="rgb(8, 50, 33)"/>
<rect x="136.97" y="189.30" width="13.99" height="1.41" fill="rgb(42, 6, 10)"/>
<rect x="150.91" y="189.30" width="7.02" height="1.41" fill="rgb(8, 50, 33)"/>
<rect x="157.88" y="189.30" width="7.02" height="1.41" fill="rgb(78, 10, 15)"/>
<rect x="164.86" y="189.30" width="7.02" height="1.41" fill="rgb(8, 50, 33)"/>
<rect x="171.83" y="189.30" width="7.02" height="1.41" fill="rgb(42, 6, 10)"/>
<rect x="53.30" y="190.65" width="7.02" height="1.41" fill="rgb(6, 33, 23)"/>
<rect x="60.27" y="190.65" width="34.91" height="1.41" fill="rgb(8, 50, 33)"/>
<rect x="95.13" y="190.65" width="13.99" height="1.41" fill="rgb(78, 10, 15)"/>
<rect x="109.08" y="190.65" width="27.94" height="1.41" fill="rgb(6, 33, 23)"/>
<rect x="136.97" y="190.65" width="7.02" height="1.41" fill="rgb(8, 50, 33)"/>
<rect x="143.94" y="190.65" width="13.99" height="1.41" fill="rgb(6, 33, 23)"/>
<rect x="157.88" y="190.65" width="7.02" height="1.41" fill="rgb(8, 50, 33)"/>
<rect x="164.86" y="190.65" width="7.02" height="1.41" fill="rgb(6, 33, 23)"/>
<rect x="171.83" y="190.65" width="7.02" height="1.41" fill="rgb(42, 6, 10)"/>
<rect x="53.30" y="192.01" width="13.99" height="1.41" fill="rgb(6, 33, 23)"/>
<rect x="67.24" y="192.01" width="7.02" height="1.41" fill="rgb(8, 50, 33)"/>
<rect x="74.22" y="192.01" width="20.97" height="1.41" fill="rgb(6, 33, 23)"/>
<rect x="95.13" y="192.01" width="7.02" height="1.41" fill="rgb(42, 6, 10)"/>
<rect x="102.11" y="192.01" width="7.02" height="1.41" fill="rgb(78, 10, 15)"/>
<rect x="109.08" y="192.01" width="27.94" height="1.41" fill="rgb(8, 50, 33)"/>
<rect x="136.97" y="192.01" width="7.02" height="1.41" fill="rgb(4, 10, 8)"/>
<rect x="143.94" y="192.01" width="7.02" height="1.41" fill="rgb(42, 6, 10)"/>
<rect x="150.91" y="192.01" width="7.02" height="1.41" fill="rgb(212, 28, 34)"/>
<rect x="157.88" y="192.01" width="7.02" height="1.41" fill="rgb(8, 50, 33)"/>
<rect x="164.86" y="192.01" width="7.02" height="1.41" fill="rgb(78, 10, 15)"/>
<rect x="171.83" y="192.01" width="7.02" height="1.41" fill="rgb(8, 50, 33)"/>
<rect x="53.30" y="193.37" width="41.88" height="1.41" fill="rgb(6, 33, 23)"/>
<rect x="95.13" y="193.37" width="7.02" height="1.41" fill="rgb(78, 10, 15)"/>
<rect x="102.11" y="193.37" width="7.02" height="1.41" fill="rgb(4, 10, 8)"/>
<rect x="109.08" y="193.37" width="7.02" height="1.41" fill="rgb(6, 33, 23)"/>
<rect x="116.05" y="193.37" width="20.97" height="1.41" fill="rgb(8, 50, 33)"/>
<rect x="136.97" y="193.37" width="7.02" height="1.41" fill="rgb(6, 33, 23)"/>
<rect x="143.94" y="193.37" width="7.02" height="1.41" fill="rgb(8, 50, 33)"/>
<rect x="150.91" y="193.37" width="7.02" height="1.41" fill="rgb(128, 14, 20)"/>
<rect x="157.88" y="193.37" width="7.02" height="1.41" fill="rgb(8, 50, 33)"/>
<rect x="164.86" y="193.37" width="7.02" height="1.41" fill="rgb(78, 10, 15)"/>
<rect x="171.83" y="193.37" width="7.02" height="1.41" fill="rgb(42, 6, 10)"/>
<rect x="53.30" y="194.72" width="27.94" height="1.41" fill="rgb(8, 50, 33)"/>
<rect x="81.19" y="194.72" width="7.02" height="1.41" fill="rgb(6, 33, 23)"/>
<rect x="88.16" y="194.72" width="7.02" height="1.41" fill="rgb(8, 50, 33)"/>
<rect x="95.13" y="194.72" width="7.02" height="1.41" fill="rgb(78, 10, 15)"/>
<rect x="102.11" y="194.72" width="7.02" height="1.41" fill="rgb(42, 6, 10)"/>
<rect x="109.08" y="194.72" width="7.02" height="1.41" fill="rgb(8, 50, 33)"/>
<rect x="116.05" y="194.72" width="7.02" height="1.41" fill="rgb(128, 14, 20)"/>
<rect x="123.02" y="194.72" width="7.02" height="1.41" fill="rgb(42, 6, 10)"/>
<rect x="129.99" y="194.72" width="20.97" height="1.41" fill="rgb(8, 50, 33)"/>
<rect x="150.91" y="194.72" width="7.02" height="1.41" fill="rgb(212, 28, 34)"/>
<rect x="157.88" y="194.72" width="13.99" height="1.41" fill="rgb(78, 10, 15)"/>
<rect x="171.83" y="194.72" width="7.02" height="1.41" fill="rgb(128, 14, 20)"/>
<rect x="53.30" y="196.08" width="41.88" height="1.41" fill="rgb(6, 33, 23)"/>
<rect x="95.13" y="196.08" width="20.97" height="1.41" fill="rgb(78, 10, 15)"/>
<rect x="116.05" y="196.08" width="7.02" height="1.41" fill="rgb(128, 14, 20)"/>
<rect x="123.02" y="196.08" width="7.02" height="1.41" fill="rgb(78, 10, 15)"/>
<rect x="129.99" y="196.08" width="13.99" height="1.41" fill="rgb(42, 6, 10)"/>
<rect x="143.94" y="196.08" width="7.02" height="1.41" fill="rgb(78, 10, 15)"/>
<rect x="150.91" y="196.08" width="7.02" height="1.41" fill="rgb(42, 6, 10)"/>
<rect x="157.88" y="196.08" width="7.02" height="1.41" fill="rgb(4, 10, 8)"/>
<rect x="164.86" y="196.08" width="7.02" height="1.41" fill="rgb(128, 14, 20)"/>
<rect x="171.83" y="196.08" width="7.02" height="1.41" fill="rgb(42, 6, 10)"/>
<rect x="53.30" y="197.44" width="7.02" height="1.41" fill="rgb(8, 50, 33)"/>
<rect x="60.27" y="197.44" width="34.91" height="1.41" fill="rgb(6, 33, 23)"/>
<rect x="95.13" y="197.44" width="7.02" height="1.41" fill="rgb(128, 14, 20)"/>
<rect x="102.11" y="197.44" width="7.02" height="1.41" fill="rgb(42, 6, 10)"/>
<rect x="109.08" y="197.44" width="7.02" height="1.41" fill="rgb(8, 50, 33)"/>
<rect x="116.05" y="197.44" width="13.99" height="1.41" fill="rgb(128, 14, 20)"/>
<rect x="129.99" y="197.44" width="7.02" height="1.41" fill="rgb(6, 33, 23)"/>
<rect x="136.97" y="197.44" width="7.02" height="1.41" fill="rgb(42, 6, 10)"/>
<rect x="143.94" y="197.44" width="20.97" height="1.41" fill="rgb(6, 33, 23)"/>
<rect x="164.86" y="197.44" width="7.02" height="1.41" fill="rgb(128, 14, 20)"/>
<rect x="171.83" y="197.44" width="7.02" height="1.41" fill="rgb(6, 33, 23)"/>
<rect x="53.30" y="198.79" width="34.91" height="1.41" fill="rgb(8, 50, 33)"/>
<rect x="88.16" y="198.79" width="7.02" height="1.41" fill="rgb(6, 33, 23)"/>
<rect x="95.13" y="198.79" width="7.02" height="1.41" fill="rgb(78, 10, 15)"/>
<rect x="102.11" y="198.79" width="7.02" height="1.41" fill="rgb(42, 6, 10)"/>
<rect x="109.08" y="198.79" width="7.02" height="1.41" fill="rgb(78, 10, 15)"/>
<rect x="116.05" y="198.79" width="7.02" height="1.41" fill="rgb(8, 50, 33)"/>
<rect x="123.02" y="198.79" width="7.02" height="1.41" fill="rgb(4, 10, 8)"/>
<rect x="129.99" y="198.79" width="7.02" height="1.41" fill="rgb(78, 10, 15)"/>
<rect x="136.97" y="198.79" width="7.02" height="1.41" fill="rgb(4, 10, 8)"/>
<rect x="143.94" y="198.79" width="7.02" height="1.41" fill="rgb(128, 14, 20)"/>
<rect x="150.91" y="198.79" width="7.02" height="1.41" fill="rgb(212, 28, 34)"/>
<rect x="157.88" y="198.79" width="7.02" height="1.41" fill="rgb(78, 10, 15)"/>
<rect x="164.86" y="198.79" width="7.02" height="1.41" fill="rgb(128, 14, 20)"/>
<rect x="171.83" y="198.79" width="7.02" height="1.41" fill="rgb(78, 10, 15)"/>
<rect x="53.30" y="200.15" width="13.99" height="1.41" fill="rgb(8, 50, 33)"/>
<rect x="67.24" y="200.15" width="20.97" height="1.41" fill="rgb(16, 76, 42)"/>
<rect x="88.16" y="200.15" width="7.02" height="1.41" fill="rgb(8, 50, 33)"/>
<rect x="95.13" y="200.15" width="48.86" height="1.41" fill="rgb(6, 33, 23)"/>
<rect x="143.94" y="200.15" width="13.99" height="1.41" fill="rgb(128, 14, 20)"/>
<rect x="157.88" y="200.15" width="13.99" height="1.41" fill="rgb(6, 33, 23)"/>
<rect x="171.83" y="200.15" width="7.02" height="1.41" fill="rgb(4, 10, 8)"/>
<rect x="53.30" y="201.51" width="13.99" height="1.41" fill="rgb(8, 50, 33)"/>
<rect x="67.24" y="201.51" width="20.97" height="1.41" fill="rgb(16, 76, 42)"/>
<rect x="88.16" y="201.51" width="7.02" height="1.41" fill="rgb(8, 50, 33)"/>
<rect x="95.13" y="201.51" width="7.02" height="1.41" fill="rgb(4, 10, 8)"/>
<rect x="102.11" y="201.51" width="7.02" height="1.41" fill="rgb(42, 6, 10)"/>
<rect x="109.08" y="201.51" width="7.02" height="1.41" fill="rgb(128, 14, 20)"/>
<rect x="116.05" y="201.51" width="13.99" height="1.41" fill="rgb(4, 10, 8)"/>
<rect x="129.99" y="201.51" width="7.02" height="1.41" fill="rgb(128, 14, 20)"/>
<rect x="136.97" y="201.51" width="7.02" height="1.41" fill="rgb(4, 10, 8)"/>
<rect x="143.94" y="201.51" width="7.02" height="1.41" fill="rgb(128, 14, 20)"/>
<rect x="150.91" y="201.51" width="7.02" height="1.41" fill="rgb(212, 28, 34)"/>
<rect x="157.88" y="201.51" width="7.02" height="1.41" fill="rgb(6, 33, 23)"/>
<rect x="164.86" y="201.51" width="7.02" height="1.41" fill="rgb(128, 14, 20)"/>
<rect x="171.83" y="201.51" width="7.02" height="1.41" fill="rgb(42, 6, 10)"/>
<rect x="53.30" y="202.86" width="13.99" height="1.41" fill="rgb(8, 50, 33)"/>
<rect x="67.24" y="202.86" width="20.97" height="1.41" fill="rgb(16, 76, 42)"/>
<rect x="88.16" y="202.86" width="13.99" height="1.41" fill="rgb(8, 50, 33)"/>
<rect x="102.11" y="202.86" width="13.99" height="1.41" fill="rgb(42, 6, 10)"/>
<rect x="116.05" y="202.86" width="13.99" height="1.41" fill="rgb(8, 50, 33)"/>
<rect x="129.99" y="202.86" width="7.02" height="1.41" fill="rgb(128, 14, 20)"/>
<rect x="136.97" y="202.86" width="7.02" height="1.41" fill="rgb(78, 10, 15)"/>
<rect x="143.94" y="202.86" width="7.02" height="1.41" fill="rgb(128, 14, 20)"/>
<rect x="150.91" y="202.86" width="7.02" height="1.41" fill="rgb(8, 50, 33)"/>
<rect x="157.88" y="202.86" width="20.97" height="1.41" fill="rgb(78, 10, 15)"/>
<rect x="53.30" y="204.22" width="41.88" height="1.41" fill="rgb(4, 10, 8)"/>
<rect x="95.13" y="204.22" width="7.02" height="1.41" fill="rgb(8, 50, 33)"/>
<rect x="102.11" y="204.22" width="7.02" height="1.41" fill="rgb(42, 6, 10)"/>
<rect x="109.08" y="204.22" width="20.97" height="1.41" fill="rgb(4, 10, 8)"/>
<rect x="129.99" y="204.22" width="7.02" height="1.41" fill="rgb(128, 14, 20)"/>
<rect x="136.97" y="204.22" width="7.02" height="1.41" fill="rgb(78, 10, 15)"/>
<rect x="143.94" y="204.22" width="7.02" height="1.41" fill="rgb(42, 6, 10)"/>
<rect x="150.91" y="204.22" width="7.02" height="1.41" fill="rgb(78, 10, 15)"/>
<rect x="157.88" y="204.22" width="7.02" height="1.41" fill="rgb(128, 14, 20)"/>
<rect x="164.86" y="204.22" width="13.99" height="1.41" fill="rgb(42, 6, 10)"/>
<rect x="53.30" y="205.58" width="41.88" height="1.41" fill="rgb(4, 10, 8)"/>
<rect x="95.13" y="205.58" width="7.02" height="1.41" fill="rgb(42, 6, 10)"/>
<rect x="102.11" y="205.58" width="7.02" height="1.41" fill="rgb(128, 14, 20)"/>
<rect x="109.08" y="205.58" width="7.02" height="1.41" fill="rgb(212, 28, 34)"/>
<rect x="116.05" y="205.58" width="7.02" height="1.41" fill="rgb(6, 33, 23)"/>
<rect x="123.02" y="205.58" width="7.02" height="1.41" fill="rgb(8, 50, 33)"/>
<rect x="129.99" y="205.58" width="7.02" height="1.41" fill="rgb(78, 10, 15)"/>
<rect x="136.97" y="205.58" width="7.02" height="1.41" fill="rgb(42, 6, 10)"/>
<rect x="143.94" y="205.58" width="7.02" height="1.41" fill="rgb(6, 33, 23)"/>
<rect x="150.91" y="205.58" width="20.97" height="1.41" fill="rgb(78, 10, 15)"/>
<rect x="171.83" y="205.58" width="7.02" height="1.41" fill="rgb(8, 50, 33)"/>
<rect x="53.30" y="206.93" width="41.88" height="1.41" fill="rgb(4, 10, 8)"/>
<rect x="95.13" y="206.93" width="13.99" height="1.41" fill="rgb(42, 6, 10)"/>
<rect x="109.08" y="206.93" width="7.02" height="1.41" fill="rgb(212, 28, 34)"/>
<rect x="116.05" y="206.93" width="13.99" height="1.41" fill="rgb(6, 33, 23)"/>
<rect x="129.99" y="206.93" width="7.02" height="1.41" fill="rgb(8, 50, 33)"/>
<rect x="136.97" y="206.93" width="7.02" height="1.41" fill="rgb(42, 6, 10)"/>
<rect x="143.94" y="206.93" width="7.02" height="1.41" fill="rgb(4, 10, 8)"/>
<rect x="150.91" y="206.93" width="27.94" height="1.41" fill="rgb(6, 33, 23)"/>
<rect x="53.30" y="208.29" width="41.88" height="1.41" fill="rgb(8, 50, 33)"/>
<rect x="95.13" y="208.29" width="7.02" height="1.41" fill="rgb(42, 6, 10)"/>
<rect x="102.11" y="208.29" width="7.02" height="1.41" fill="rgb(8, 50, 33)"/>
<rect x="109.08" y="208.29" width="7.02" height="1.41" fill="rgb(212, 28, 34)"/>
<rect x="116.05" y="208.29" width="20.97" height="1.41" fill="rgb(8, 50, 33)"/>
<rect x="136.97" y="208.29" width="7.02" height="1.41" fill="rgb(128, 14, 20)"/>
<rect x="143.94" y="208.29" width="7.02" height="1.41" fill="rgb(4, 10, 8)"/>
<rect x="150.91" y="208.29" width="7.02" height="1.41" fill="rgb(42, 6, 10)"/>
<rect x="157.88" y="208.29" width="20.97" height="1.41" fill="rgb(78, 10, 15)"/>
<rect x="53.30" y="209.65" width="41.88" height="1.41" fill="rgb(8, 50, 33)"/>
<rect x="95.13" y="209.65" width="20.97" height="1.41" fill="rgb(4, 10, 8)"/>
<rect x="116.05" y="209.65" width="13.99" height="1.41" fill="rgb(78, 10, 15)"/>
<rect x="129.99" y="209.65" width="13.99" height="1.41" fill="rgb(4, 10, 8)"/>
<rect x="143.94" y="209.65" width="7.02" height="1.41" fill="rgb(8, 50, 33)"/>
<rect x="150.91" y="209.65" width="27.94" height="1.41" fill="rgb(78, 10, 15)"/>
<rect x="53.30" y="211.00" width="20.97" height="1.41" fill="rgb(8, 50, 33)"/>
<rect x="74.22" y="211.00" width="7.02" height="1.41" fill="rgb(6, 33, 23)"/>
<rect x="81.19" y="211.00" width="13.99" height="1.41" fill="rgb(8, 50, 33)"/>
<rect x="95.13" y="211.00" width="7.02" height="1.41" fill="rgb(6, 33, 23)"/>
<rect x="102.11" y="211.00" width="7.02" height="1.41" fill="rgb(4, 10, 8)"/>
<rect x="109.08" y="211.00" width="7.02" height="1.41" fill="rgb(78, 10, 15)"/>
<rect x="116.05" y="211.00" width="7.02" height="1.41" fill="rgb(42, 6, 10)"/>
<rect x="123.02" y="211.00" width="7.02" height="1.41" fill="rgb(78, 10, 15)"/>
<rect x="129.99" y="211.00" width="20.97" height="1.41" fill="rgb(6, 33, 23)"/>
<rect x="150.91" y="211.00" width="7.02" height="1.41" fill="rgb(4, 10, 8)"/>
<rect x="157.88" y="211.00" width="7.02" height="1.41" fill="rgb(128, 14, 20)"/>
<rect x="164.86" y="211.00" width="13.99" height="1.41" fill="rgb(42, 6, 10)"/>
<rect x="53.30" y="212.36" width="27.94" height="1.41" fill="rgb(8, 50, 33)"/>
<rect x="81.19" y="212.36" width="7.02" height="1.41" fill="rgb(6, 33, 23)"/>
<rect x="88.16" y="212.36" width="13.99" height="1.41" fill="rgb(8, 50, 33)"/>
<rect x="102.11" y="212.36" width="7.02" height="1.41" fill="rgb(42, 6, 10)"/>
<rect x="109.08" y="212.36" width="13.99" height="1.41" fill="rgb(78, 10, 15)"/>
<rect x="123.02" y="212.36" width="7.02" height="1.41" fill="rgb(128, 14, 20)"/>
<rect x="129.99" y="212.36" width="7.02" height="1.41" fill="rgb(6, 33, 23)"/>
<rect x="136.97" y="212.36" width="7.02" height="1.41" fill="rgb(78, 10, 15)"/>
<rect x="143.94" y="212.36" width="27.94" height="1.41" fill="rgb(8, 50, 33)"/>
<rect x="171.83" y="212.36" width="7.02" height="1.41" fill="rgb(212, 28, 34)"/>
<rect x="53.30" y="213.72" width="41.88" height="1.41" fill="rgb(6, 33, 23)"/>
<rect x="95.13" y="213.72" width="13.99" height="1.41" fill="rgb(42, 6, 10)"/>
<rect x="109.08" y="213.72" width="7.02" height="1.41" fill="rgb(78, 10, 15)"/>
<rect x="116.05" y="213.72" width="7.02" height="1.41" fill="rgb(42, 6, 10)"/>
<rect x="123.02" y="213.72" width="7.02" height="1.41" fill="rgb(8, 50, 33)"/>
<rect x="129.99" y="213.72" width="7.02" height="1.41" fill="rgb(42, 6, 10)"/>
<rect x="136.97" y="213.72" width="13.99" height="1.41" fill="rgb(78, 10, 15)"/>
<rect x="150.91" y="213.72" width="7.02" height="1.41" fill="rgb(42, 6, 10)"/>
<rect x="157.88" y="213.72" width="7.02" height="1.41" fill="rgb(78, 10, 15)"/>
<rect x="164.86" y="213.72" width="7.02" height="1.41" fill="rgb(8, 50, 33)"/>
<rect x="171.83" y="213.72" width="7.02" height="1.41" fill="rgb(128, 14, 20)"/>
<rect x="53.30" y="215.07" width="27.94" height="1.41" fill="rgb(6, 33, 23)"/>
<rect x="81.19" y="215.07" width="7.02" height="1.41" fill="rgb(8, 50, 33)"/>
<rect x="88.16" y="215.07" width="7.02" height="1.41" fill="rgb(6, 33, 23)"/>
<rect x="95.13" y="215.07" width="7.02" height="1.41" fill="rgb(212, 28, 34)"/>
<rect x="102.11" y="215.07" width="7.02" height="1.41" fill="rgb(42, 6, 10)"/>
<rect x="109.08" y="215.07" width="7.02" height="1.41" fill="rgb(6, 33, 23)"/>
<rect x="116.05" y="215.07" width="7.02" height="1.41" fill="rgb(78, 10, 15)"/>
<rect x="123.02" y="215.07" width="13.99" height="1.41" fill="rgb(6, 33, 23)"/>
<rect x="136.97" y="215.07" width="7.02" height="1.41" fill="rgb(78, 10, 15)"/>
<rect x="143.94" y="215.07" width="7.02" height="1.41" fill="rgb(6, 33, 23)"/>
<rect x="150.91" y="215.07" width="7.02" height="1.41" fill="rgb(78, 10, 15)"/>
<rect x="157.88" y="215.07" width="7.02" height="1.41" fill="rgb(42, 6, 10)"/>
<rect x="164.86" y="215.07" width="7.02" height="1.41" fill="rgb(6, 33, 23)"/>
<rect x="171.83" y="215.07" width="7.02" height="1.41" fill="rgb(212, 28, 34)"/>
<rect x="53.30" y="216.43" width="41.88" height="1.41" fill="rgb(4, 10, 8)"/>
<rect x="95.13" y="216.43" width="7.02" height="1.41" fill="rgb(128, 14, 20)"/>
<rect x="102.11" y="216.43" width="7.02" height="1.41" fill="rgb(8, 50, 33)"/>
<rect x="109.08" y="216.43" width="7.02" height="1.41" fill="rgb(42, 6, 10)"/>
<rect x="116.05" y="216.43" width="7.02" height="1.41" fill="rgb(8, 50, 33)"/>
<rect x="123.02" y="216.43" width="7.02" height="1.41" fill="rgb(4, 10, 8)"/>
<rect x="129.99" y="216.43" width="7.02" height="1.41" fill="rgb(42, 6, 10)"/>
<rect x="136.97" y="216.43" width="7.02" height="1.41" fill="rgb(128, 14, 20)"/>
<rect x="143.94" y="216.43" width="7.02" height="1.41" fill="rgb(6, 33, 23)"/>
<rect x="150.91" y="216.43" width="7.02" height="1.41" fill="rgb(8, 50, 33)"/>
<rect x="157.88" y="216.43" width="7.02" height="1.41" fill="rgb(6, 33, 23)"/>
<rect x="164.86" y="216.43" width="7.02" height="1.41" fill="rgb(42, 6, 10)"/>
<rect x="171.83" y="216.43" width="7.02" height="1.41" fill="rgb(78, 10, 15)"/>
<rect x="53.30" y="217.79" width="41.88" height="1.41" fill="rgb(8, 50, 33)"/>
<rect x="95.13" y="217.79" width="7.02" height="1.41" fill="rgb(128, 14, 20)"/>
<rect x="102.11" y="217.79" width="7.02" height="1.41" fill="rgb(6, 33, 23)"/>
<rect x="109.08" y="217.79" width="7.02" height="1.41" fill="rgb(42, 6, 10)"/>
<rect x="116.05" y="217.79" width="7.02" height="1.41" fill="rgb(6, 33, 23)"/>
<rect x="123.02" y="217.79" width="7.02" height="1.41" fill="rgb(42, 6, 10)"/>
<rect x="129.99" y="217.79" width="7.02" height="1.41" fill="rgb(6, 33, 23)"/>
<rect x="136.97" y="217.79" width="7.02" height="1.41" fill="rgb(42, 6, 10)"/>
<rect x="143.94" y="217.79" width="7.02" height="1.41" fill="rgb(6, 33, 23)"/>
<rect x="150.91" y="217.79" width="7.02" height="1.41" fill="rgb(8, 50, 33)"/>
<rect x="157.88" y="217.79" width="7.02" height="1.41" fill="rgb(78, 10, 15)"/>
<rect x="164.86" y="217.79" width="7.02" height="1.41" fill="rgb(42, 6, 10)"/>
<rect x="171.83" y="217.79" width="7.02" height="1.41" fill="rgb(6, 33, 23)"/>
<rect x="53.30" y="219.14" width="41.88" height="1.41" fill="rgb(8, 50, 33)"/>
<rect x="95.13" y="219.14" width="7.02" height="1.41" fill="rgb(6, 33, 23)"/>
<rect x="102.11" y="219.14" width="7.02" height="1.41" fill="rgb(4, 10, 8)"/>
<rect x="109.08" y="219.14" width="20.97" height="1.41" fill="rgb(6, 33, 23)"/>
<rect x="129.99" y="219.14" width="7.02" height="1.41" fill="rgb(128, 14, 20)"/>
<rect x="136.97" y="219.14" width="13.99" height="1.41" fill="rgb(6, 33, 23)"/>
<rect x="150.91" y="219.14" width="7.02" height="1.41" fill="rgb(42, 6, 10)"/>
<rect x="157.88" y="219.14" width="7.02" height="1.41" fill="rgb(6, 33, 23)"/>
<rect x="164.86" y="219.14" width="7.02" height="1.41" fill="rgb(8, 50, 33)"/>
<rect x="171.83" y="219.14" width="7.02" height="1.41" fill="rgb(42, 6, 10)"/>
</g>
<rect x="53.3" y="9" width="41.83" height="6" fill="#5dbb46"/>
<rect x="95.13" y="9" width="41.83" height="6" fill="#ee2e3a"/>
<rect x="136.97" y="9" width="41.83" height="6" fill="#2a5cb8"/>
<text transform="translate(54.89,223.9) rotate(90)" font-family="Liberation Sans, Arial, sans-serif" font-size="2.8" font-weight="bold" fill="#111">N60 N60</text>
<text transform="translate(61.86,223.9) rotate(90)" font-family="Liberation Sans, Arial, sans-serif" font-size="2.8" font-weight="bold" fill="#111">N61 N61</text>
<text transform="translate(68.83,223.9) rotate(90)" font-family="Liberation Sans, Arial, sans-serif" font-size="2.8" font-weight="bold" fill="#111">N62 N62</text>
<text transform="translate(75.80,223.9) rotate(90)" font-family="Liberation Sans, Arial, sans-serif" font-size="2.8" font-weight="bold" fill="#111">N63 N63</text>
<text transform="translate(82.77,223.9) rotate(90)" font-family="Liberation Sans, Arial, sans-serif" font-size="2.8" font-weight="bold" fill="#111">N64 N64</text>
<text transform="translate(89.75,223.9) rotate(90)" font-family="Liberation Sans, Arial, sans-serif" font-size="2.8" font-weight="bold" fill="#111">N65 N65</text>
<text transform="translate(96.72,223.9) rotate(90)" font-family="Liberation Sans, Arial, sans-serif" font-size="2.8" font-weight="bold" fill="#111">K01 K01</text>
<text transform="translate(103.69,223.9) rotate(90)" font-family="Liberation Sans, Arial, sans-serif" font-size="2.8" font-weight="bold" fill="#111">K02 K02</text>
<text transform="translate(110.66,223.9) rotate(90)" font-family="Liberation Sans, Arial, sans-serif" font-size="2.8" font-weight="bold" fill="#111">K03 K03</text>
<text transform="translate(117.64,223.9) rotate(90)" font-family="Liberation Sans, Arial, sans-serif" font-size="2.8" font-weight="bold" fill="#111">K04 K04</text>
<text transform="translate(124.61,223.9) rotate(90)" font-family="Liberation Sans, Arial, sans-serif" font-size="2.8" font-weight="bold" fill="#111">K05 K05</text>
<text transform="translate(131.58,223.9) rotate(90)" font-family="Liberation Sans, Arial, sans-serif" font-size="2.8" font-weight="bold" fill="#111">K06 K06</text>
<text transform="translate(138.55,223.9) rotate(90)" font-family="Liberation Sans, Arial, sans-serif" font-size="2.8" font-weight="bold" fill="#111">S01 S01</text>
<text transform="translate(145.53,223.9) rotate(90)" font-family="Liberation Sans, Arial, sans-serif" font-size="2.8" font-weight="bold" fill="#111">S02 S02</text>
<text transform="translate(152.50,223.9) rotate(90)" font-family="Liberation Sans, Arial, sans-serif" font-size="2.8" font-weight="bold" fill="#111">S03 S03</text>
<text transform="translate(159.47,223.9) rotate(90)" font-family="Liberation Sans, Arial, sans-serif" font-size="2.8" font-weight="bold" fill="#111">S04 S04</text>
<text transform="translate(166.44,223.9) rotate(90)" font-family="Liberation Sans, Arial, sans-serif" font-size="2.8" font-weight="bold" fill="#111">S05 S05</text>
<text transform="translate(173.41,223.9) rotate(90)" font-family="Liberation Sans, Arial, sans-serif" font-size="2.8" font-weight="bold" fill="#111">S06 S06</text>
<text x="1.2" y="6" font-family="Liberation Sans, Arial, sans-serif" font-size="6.6" font-weight="bold" fill="#111">A</text>
<rect x="8.9" y="16" width="25.4" height="17.1" fill="url(#ck)"/>
<path d="M9,33 L12,31 14,27 16,21 17.5,18 19,17 20.5,16.8 21.5,18 23,23 25,28 28,31 33.7,33" fill="none" stroke="#55d0d0" stroke-width="0.35" opacity="0.8"/>
<text x="21.9" y="13.1" text-anchor="middle" font-family="Liberation Sans, Arial, sans-serif" font-size="2.6" font-weight="bold" fill="#222">Color Key</text>
<text x="21.9" y="16.1" text-anchor="middle" font-family="Liberation Sans, Arial, sans-serif" font-size="2.6" font-weight="bold" fill="#222">and Histogram</text>
<text x="21.9" y="42.2" text-anchor="middle" font-family="Liberation Sans, Arial, sans-serif" font-size="2.55" font-weight="bold" fill="#222">Row Z-Score</text>
<line x1="9.70" y1="33.1" x2="9.70" y2="34.4" stroke="#444" stroke-width="0.35"/>
<text x="9.70" y="37.9" text-anchor="middle" font-family="Liberation Sans, Arial, sans-serif" font-size="2.5" font-weight="bold" fill="#333">-2</text>
<line x1="15.62" y1="33.1" x2="15.62" y2="34.4" stroke="#444" stroke-width="0.35"/>
<text x="15.62" y="37.9" text-anchor="middle" font-family="Liberation Sans, Arial, sans-serif" font-size="2.5" font-weight="bold" fill="#333">-1</text>
<line x1="21.54" y1="33.1" x2="21.54" y2="34.4" stroke="#444" stroke-width="0.35"/>
<text x="21.54" y="37.9" text-anchor="middle" font-family="Liberation Sans, Arial, sans-serif" font-size="2.5" font-weight="bold" fill="#333">0</text>
<line x1="27.46" y1="33.1" x2="27.46" y2="34.4" stroke="#444" stroke-width="0.35"/>
<text x="27.46" y="37.9" text-anchor="middle" font-family="Liberation Sans, Arial, sans-serif" font-size="2.5" font-weight="bold" fill="#333">1</text>
<line x1="33.38" y1="33.1" x2="33.38" y2="34.4" stroke="#444" stroke-width="0.35"/>
<text x="33.38" y="37.9" text-anchor="middle" font-family="Liberation Sans, Arial, sans-serif" font-size="2.5" font-weight="bold" fill="#333">2</text>
<text transform="translate(4.8,25) rotate(-90)" text-anchor="middle" font-family="Liberation Sans, Arial, sans-serif" font-size="2.3" fill="#444">Count</text>
<line x1="8.2" y1="33.2" x2="9" y2="33.2" stroke="#555" stroke-width="0.3"/>
<line x1="8.2" y1="28.200000000000003" x2="9" y2="28.200000000000003" stroke="#555" stroke-width="0.3"/>
<line x1="8.2" y1="23.200000000000003" x2="9" y2="23.200000000000003" stroke="#555" stroke-width="0.3"/>
<text transform="translate(7.4,27) rotate(-90)" text-anchor="middle" font-family="Liberation Sans, Arial, sans-serif" font-size="1.9" fill="#444">0 100 250</text>
<path d="M0.6,127.0V191.0M0.6,127.0H20.7M20.7,106.6V146.6M20.7,106.6H31.5M31.5,87.0V125.0M31.5,87.0H34.9M34.9,44.0V87.0M34.9,44.0H37.0M37.0,30.0V62.0M37.0,62.0H40.0M37.0,30.0H41.0M41.0,22.0V38.0M34.9,81.4H40.5M40.5,72.0V90.0M31.5,125.0H41.6M41.6,117.0V133.0M31.5,111.0H38.0M38.0,100.0V111.0M38.0,100.0H43.0M43.0,95.0V106.0M20.7,146.6H43.9M43.9,139.0V154.0M0.6,191.0H36.0M36.0,174.5V203.0M36.0,174.5H40.0M40.0,160.0V186.0M36.0,203.0H41.0M41.0,195.0V213.0M40.0,160.0H44.0M40.0,186.0H44.0M41.0,195.0H45.0M41.0,213.0H45.0M44.0,154.0V166.0M44.0,180.0V191.0M45.0,191.0V199.0M45.0,208.0V218.0" fill="none" stroke="#444" stroke-width="0.5"/>
<path d="M53.0,34.0H52.6V35.4H53.0M53.0,31.3H52.1V32.7H53.0M53.0,36.7H52.5V38.1H53.0M53.0,23.1H52.7V24.5H53.0M52.5,37.4H51.9V39.5H53.0M53.0,27.2H52.7V28.6H53.0M53.0,20.4H52.5V21.8H53.0M52.5,21.1H51.9V23.8H52.7M53.0,25.9H51.8V27.9H52.7M51.9,22.5H50.8V26.9H51.8M52.6,34.7H51.6V38.4H51.9M53.0,17.7H52.7V19.1H53.0M50.8,24.7H50.2V29.9H53.0M52.1,32.0H51.0V36.6H51.6M52.7,18.4H49.8V27.3H50.2M49.8,22.8H48.7V34.3H51.0M48.7,28.6H41.0M53.0,42.1H52.2V43.4H53.0M53.0,57.0H52.4V58.4H53.0M53.0,62.5H51.9V63.8H53.0M53.0,44.8H52.3V46.1H53.0M53.0,52.9H52.2V54.3H53.0M53.0,48.9H52.6V50.2H53.0M53.0,47.5H52.4V49.5H52.6M52.3,45.5H51.5V48.5H52.4M53.0,51.6H51.2V53.6H52.2M52.2,42.7H51.2V47.0H51.5M53.0,59.7H52.7V61.1H53.0M53.0,55.7H51.9V57.7H52.4M53.0,40.7H50.7V44.9H51.2M51.9,63.1H51.2V65.2H53.0M51.9,56.7H51.3V60.4H52.7M51.3,58.5H50.4V64.2H51.2M51.2,52.6H49.7V61.4H50.4M50.7,42.8H48.6V57.0H49.7M48.6,49.9H40.0M53.0,88.5H51.9V89.8H53.0M53.0,83.0H52.0V84.4H53.0M53.0,77.6H52.6V78.9H53.0M52.6,78.3H51.6V80.3H53.0M53.0,74.9H52.7V76.2H53.0M53.0,70.8H52.7V72.1H53.0M53.0,69.4H51.8V71.5H52.7M53.0,85.7H52.4V87.1H53.0M53.0,66.7H52.6V68.1H53.0M51.8,70.4H51.0V73.5H53.0M51.9,89.1H50.9V91.2H53.0M53.0,81.7H51.4V83.7H52.0M52.7,75.5H51.2V79.3H51.6M52.4,86.4H50.0V90.2H50.9M51.0,72.0H50.4V77.4H51.2M50.4,74.7H49.6V82.7H51.4M52.6,67.4H49.3V78.7H49.6M49.3,73.0H48.5V88.3H50.0M48.5,80.7H40.5M53.0,94.1H52.5V95.4H53.0M53.0,96.8H52.5V98.1H53.0M53.0,104.9H52.0V106.3H53.0M53.0,92.7H52.2V94.7H52.5M52.2,93.7H51.3V97.5H52.5M53.0,102.2H52.4V103.6H53.0M53.0,100.9H51.6V102.9H52.4M52.0,105.6H51.7V107.7H53.0M53.0,99.5H50.8V101.9H51.6M51.3,95.6H49.9V100.7H50.8M49.9,98.1H49.0V106.6H51.7M49.0,102.4H43.0M53.0,116.9H52.7V118.2H53.0M53.0,108.7H52.7V110.1H53.0M53.0,129.1H52.3V130.5H53.0M53.0,112.8H52.7V114.1H53.0M53.0,123.7H52.5V125.0H53.0M53.0,119.6H52.6V120.9H53.0M52.7,113.5H51.9V115.5H53.0M53.0,131.8H52.6V133.2H53.0M53.0,127.7H51.4V129.8H52.3M53.0,122.3H52.0V124.3H52.5M52.6,132.5H51.5V134.5H53.0M52.0,123.3H51.0V126.4H53.0M51.9,114.5H51.0V117.5H52.7M51.0,116.0H50.4V120.3H52.6M52.7,109.4H52.3V111.4H53.0M52.3,110.4H49.6V118.1H50.4M51.0,124.8H50.3V128.8H51.4M49.6,114.3H48.6V126.8H50.3M48.6,120.5H48.1V133.5H51.5M48.1,127.0H41.6M53.0,145.2H52.5V146.6H53.0M53.0,139.8H52.1V141.1H53.0M53.0,149.3H52.6V150.7H53.0M53.0,143.9H51.5V145.9H52.5M53.0,137.1H52.4V138.4H53.0M52.1,140.5H51.6V142.5H53.0M53.0,135.7H51.8V137.7H52.4M51.8,136.7H50.6V141.5H51.6M53.0,147.9H52.1V150.0H52.6M51.5,144.9H50.5V149.0H52.1M50.6,139.1H50.0V146.9H50.5M50.0,143.0H43.9M53.0,166.3H52.4V167.7H53.0M53.0,163.6H52.2V164.9H53.0M53.0,155.4H52.1V156.8H53.0M53.0,159.5H52.2V160.9H53.0M53.0,152.7H52.0V154.1H53.0M53.0,162.2H51.6V164.3H52.2M52.0,153.4H51.4V156.1H52.1M52.4,167.0H51.3V169.0H53.0M53.0,158.1H51.5V160.2H52.2M51.4,154.7H51.0V159.2H51.5M51.0,157.0H50.2V163.2H51.6M50.2,160.1H49.5V168.0H51.3M49.5,164.0H44.0M53.0,185.7H52.5V187.0H53.0M53.0,177.5H52.4V178.9H53.0M53.0,172.1H52.7V173.4H53.0M53.0,174.8H52.6V176.1H53.0M52.7,172.7H52.1V175.5H52.6M53.0,181.6H52.6V182.9H53.0M53.0,189.7H52.4V191.1H53.0M52.1,174.1H51.4V178.2H52.4M52.5,186.3H51.5V188.4H53.0M53.0,180.2H52.3V182.3H52.6M53.0,170.7H50.6V176.1H51.4M52.3,181.2H51.9V184.3H53.0M51.9,182.8H50.9V187.4H51.5M50.9,185.1H50.3V190.4H52.4M50.6,173.4H49.7V187.7H50.3M49.7,180.6H44.0M53.0,196.8H52.0V198.1H53.0M53.0,199.5H52.5V200.9H53.0M53.0,195.4H51.3V197.5H52.0M53.0,192.7H52.7V194.1H53.0M52.7,193.4H50.5V196.4H51.3M52.5,200.2H51.7V202.2H53.0M50.5,194.9H50.2V201.2H51.7M50.2,198.1H45.0M53.0,214.6H52.5V215.9H53.0M53.0,203.7H52.3V205.1H53.0M53.0,207.8H52.1V209.1H53.0M52.1,208.5H51.7V210.5H53.0M53.0,211.9H52.5V213.2H53.0M52.3,204.4H51.9V206.4H53.0M52.5,215.3H52.2V217.3H53.0M53.0,218.7H52.3V220.0H53.0M52.5,212.5H51.4V216.3H52.2M51.9,205.4H51.4V209.5H51.7M51.4,214.4H51.0V219.3H52.3M51.4,207.4H50.0V216.9H51.0M50.0,212.2H45.0" fill="none" stroke="#333" stroke-width="0.5"/>
<text x="207.4" y="6" font-family="Liberation Sans, Arial, sans-serif" font-size="6.6" font-weight="bold" fill="#111">B</text>
<rect x="218.4" y="8.0" width="97.7" height="112.4" fill="#fff" stroke="#9a9a9a" stroke-width="0.5"/>
<path d="M228.45,8.0V120.4M241.40,8.0V120.4M254.35,8.0V120.4M267.30,8.0V120.4M280.25,8.0V120.4M293.20,8.0V120.4M306.15,8.0V120.4M218.4,117.40H316.1M218.4,99.80H316.1M218.4,82.20H316.1M218.4,64.60H316.1M218.4,47.00H316.1M218.4,29.40H316.1M218.4,11.80H316.1" stroke="#b9cbc2" stroke-width="0.55" fill="none"/>
<path d="M262.12,8.0V120.4M272.48,8.0V120.4M218.4,94.52H316.1" stroke="#5cc46a" stroke-width="0.55" fill="none"/>
<path d="M241.71,94.52 242.23,95.74 242.75,96.92 243.26,98.07 243.78,99.17 244.30,100.23 244.82,101.26 245.34,102.25 245.85,103.21 246.37,104.12 246.89,105.01 247.41,105.85 247.93,106.66 248.44,107.44 248.96,108.19 249.48,108.90 250.00,109.58 250.52,110.23 251.03,110.84 251.55,111.43 252.07,111.99 252.59,112.51 253.11,113.01 253.62,113.48 254.14,113.92 254.66,114.34 255.18,114.72 255.70,115.09 256.21,115.42 256.73,115.74 257.25,116.03 257.77,116.29 258.29,116.54 258.80,116.76 259.32,116.97 259.84,117.15 260.36,117.31 260.88,117.46 261.39,117.58 261.91,117.69 262.43,117.79 262.95,117.87 263.47,117.93 263.98,117.99 264.50,118.03 265.02,118.06 265.54,118.08 266.06,118.09 266.57,118.10 267.09,118.10 267.61,118.10 268.13,118.10 268.65,118.09 269.16,118.07 269.68,118.05 270.20,118.01 270.72,117.96 271.24,117.89 271.75,117.81 272.27,117.71 272.79,117.60 273.31,117.47 273.83,117.31 274.34,117.14 274.86,116.94 275.38,116.73 275.90,116.48 276.42,116.22 276.93,115.93 277.45,115.61 277.97,115.26 278.49,114.89 279.01,114.49 279.52,114.06 280.04,113.60 280.56,113.11 281.08,112.58 281.60,112.03 282.11,111.44 282.63,110.82 283.15,110.16 283.67,109.47 284.19,108.74 284.70,107.97 285.22,107.17 285.74,106.33 286.26,105.45 286.78,104.53 287.29,103.57 287.81,102.57 288.33,101.53 288.85,100.45 289.37,99.32 289.88,98.16 290.40,96.94 290.92,95.69 291.39,94.52 277.66,94.52 277.66,94.52 277.14,95.58 276.62,96.63 276.11,97.69 275.59,98.74 275.07,99.80 274.55,100.86 274.03,101.91 273.52,102.97 273.00,104.02 272.48,105.08 271.96,106.14 271.44,107.19 270.93,108.25 270.41,109.30 269.89,110.36 269.37,111.42 268.85,112.47 268.34,113.53 267.82,114.58 267.30,115.64 266.78,115.04 266.26,114.43 265.75,113.83 265.23,113.23 264.71,112.62 264.19,112.02 263.67,111.42 263.16,110.81 262.64,110.21 262.12,109.61 261.60,109.00 261.08,108.40 260.57,107.80 260.05,107.19 259.53,106.59 259.01,105.99 258.49,105.38 257.98,104.78 257.46,104.17 256.94,103.57 256.42,102.97 255.90,102.36 255.39,101.76 254.87,101.16 254.35,100.55 253.83,99.95 253.31,99.35 252.80,98.74 252.28,98.14 251.76,97.54 251.24,96.93 250.72,96.33 250.21,95.73 249.69,95.12 249.17,94.52 241.71,94.52Z" fill="#9a9a9a" stroke="#8a8a8a" stroke-width="0.4"/>
<g><circle cx="284.29" cy="98.73" r="0.4" fill="#848484"/><circle cx="271.66" cy="109.88" r="0.4" fill="#bdbdbd"/><circle cx="259.15" cy="109.41" r="0.4" fill="#bdbdbd"/><circle cx="279.16" cy="95.76" r="0.4" fill="#848484"/><circle cx="283.99" cy="97.73" r="0.4" fill="#848484"/><circle cx="242.68" cy="95.75" r="0.4" fill="#848484"/><circle cx="276.38" cy="102.74" r="0.4" fill="#b4b4b4"/><circle cx="288.98" cy="97.33" r="0.4" fill="#848484"/><circle cx="287.14" cy="100.07" r="0.4" fill="#848484"/><circle cx="254.19" cy="109.00" r="0.4" fill="#bdbdbd"/><circle cx="271.26" cy="109.66" r="0.4" fill="#bdbdbd"/><circle cx="276.40" cy="109.43" r="0.4" fill="#b4b4b4"/><circle cx="280.78" cy="97.99" r="0.4" fill="#848484"/><circle cx="255.21" cy="105.54" r="0.4" fill="#bdbdbd"/><circle cx="254.00" cy="103.23" r="0.4" fill="#bdbdbd"/><circle cx="248.75" cy="96.30" r="0.4" fill="#848484"/><circle cx="258.66" cy="108.06" r="0.4" fill="#bdbdbd"/><circle cx="256.27" cy="112.99" r="0.4" fill="#bdbdbd"/><circle cx="246.04" cy="101.08" r="0.4" fill="#b4b4b4"/><circle cx="277.37" cy="101.05" r="0.4" fill="#b4b4b4"/><circle cx="271.49" cy="109.06" r="0.4" fill="#b4b4b4"/><circle cx="273.53" cy="112.15" r="0.4" fill="#b4b4b4"/><circle cx="252.60" cy="107.35" r="0.4" fill="#b4b4b4"/><circle cx="257.70" cy="110.17" r="0.4" fill="#848484"/><circle cx="288.36" cy="99.21" r="0.4" fill="#848484"/><circle cx="276.59" cy="109.99" r="0.4" fill="#848484"/><circle cx="272.91" cy="107.04" r="0.4" fill="#848484"/><circle cx="246.68" cy="100.33" r="0.4" fill="#bdbdbd"/><circle cx="281.39" cy="97.89" r="0.4" fill="#b4b4b4"/><circle cx="275.85" cy="103.46" r="0.4" fill="#848484"/><circle cx="253.30" cy="107.20" r="0.4" fill="#848484"/><circle cx="250.46" cy="106.82" r="0.4" fill="#bdbdbd"/><circle cx="279.37" cy="109.53" r="0.4" fill="#848484"/><circle cx="266.55" cy="116.56" r="0.4" fill="#848484"/><circle cx="283.39" cy="100.33" r="0.4" fill="#848484"/><circle cx="287.52" cy="100.57" r="0.4" fill="#bdbdbd"/><circle cx="249.32" cy="98.32" r="0.4" fill="#bdbdbd"/><circle cx="273.09" cy="110.24" r="0.4" fill="#848484"/><circle cx="279.90" cy="97.63" r="0.4" fill="#848484"/><circle cx="258.93" cy="115.85" r="0.4" fill="#b4b4b4"/><circle cx="286.77" cy="98.76" r="0.4" fill="#b4b4b4"/><circle cx="281.04" cy="106.43" r="0.4" fill="#b4b4b4"/><circle cx="283.73" cy="98.43" r="0.4" fill="#bdbdbd"/><circle cx="252.54" cy="101.70" r="0.4" fill="#bdbdbd"/><circle cx="281.67" cy="104.11" r="0.4" fill="#bdbdbd"/><circle cx="280.32" cy="96.19" r="0.4" fill="#b4b4b4"/><circle cx="245.52" cy="100.23" r="0.4" fill="#b4b4b4"/><circle cx="251.41" cy="110.44" r="0.4" fill="#b4b4b4"/><circle cx="279.95" cy="109.70" r="0.4" fill="#848484"/><circle cx="251.75" cy="107.09" r="0.4" fill="#b4b4b4"/><circle cx="278.44" cy="104.28" r="0.4" fill="#848484"/><circle cx="285.90" cy="105.29" r="0.4" fill="#bdbdbd"/><circle cx="284.85" cy="102.93" r="0.4" fill="#b4b4b4"/><circle cx="274.79" cy="104.13" r="0.4" fill="#bdbdbd"/><circle cx="252.57" cy="102.34" r="0.4" fill="#b4b4b4"/><circle cx="249.46" cy="104.99" r="0.4" fill="#848484"/><circle cx="260.60" cy="112.70" r="0.4" fill="#b4b4b4"/><circle cx="282.32" cy="101.71" r="0.4" fill="#848484"/><circle cx="257.82" cy="114.04" r="0.4" fill="#bdbdbd"/><circle cx="283.47" cy="100.51" r="0.4" fill="#848484"/><circle cx="274.69" cy="102.52" r="0.4" fill="#b4b4b4"/><circle cx="251.72" cy="98.64" r="0.4" fill="#b4b4b4"/><circle cx="269.60" cy="114.72" r="0.4" fill="#848484"/><circle cx="250.66" cy="105.02" r="0.4" fill="#b4b4b4"/><circle cx="260.39" cy="115.83" r="0.4" fill="#b4b4b4"/><circle cx="251.23" cy="104.27" r="0.4" fill="#848484"/><circle cx="245.22" cy="99.80" r="0.4" fill="#b4b4b4"/><circle cx="263.73" cy="114.74" r="0.4" fill="#bdbdbd"/><circle cx="284.61" cy="98.66" r="0.4" fill="#848484"/><circle cx="255.38" cy="112.89" r="0.4" fill="#848484"/><circle cx="253.14" cy="108.67" r="0.4" fill="#b4b4b4"/><circle cx="249.58" cy="97.63" r="0.4" fill="#b4b4b4"/><circle cx="279.21" cy="112.60" r="0.4" fill="#bdbdbd"/><circle cx="250.69" cy="108.46" r="0.4" fill="#848484"/><circle cx="274.37" cy="115.39" r="0.4" fill="#b4b4b4"/><circle cx="244.60" cy="96.14" r="0.4" fill="#b4b4b4"/><circle cx="245.44" cy="99.72" r="0.4" fill="#b4b4b4"/><circle cx="278.10" cy="104.47" r="0.4" fill="#bdbdbd"/><circle cx="252.27" cy="104.39" r="0.4" fill="#848484"/><circle cx="245.02" cy="99.41" r="0.4" fill="#848484"/><circle cx="276.91" cy="100.82" r="0.4" fill="#848484"/><circle cx="275.02" cy="106.06" r="0.4" fill="#b4b4b4"/><circle cx="260.92" cy="114.34" r="0.4" fill="#b4b4b4"/><circle cx="272.85" cy="115.43" r="0.4" fill="#848484"/><circle cx="255.53" cy="109.35" r="0.4" fill="#848484"/><circle cx="257.52" cy="107.97" r="0.4" fill="#bdbdbd"/><circle cx="259.94" cy="108.26" r="0.4" fill="#848484"/><circle cx="247.97" cy="104.49" r="0.4" fill="#bdbdbd"/><circle cx="273.65" cy="103.79" r="0.4" fill="#b4b4b4"/><circle cx="270.65" cy="115.88" r="0.4" fill="#bdbdbd"/><circle cx="256.89" cy="107.87" r="0.4" fill="#848484"/><circle cx="259.93" cy="111.09" r="0.4" fill="#b4b4b4"/><circle cx="252.59" cy="111.20" r="0.4" fill="#848484"/><circle cx="278.72" cy="104.87" r="0.4" fill="#b4b4b4"/><circle cx="276.07" cy="111.55" r="0.4" fill="#b4b4b4"/><circle cx="247.29" cy="97.04" r="0.4" fill="#848484"/><circle cx="245.34" cy="97.34" r="0.4" fill="#848484"/><circle cx="266.35" cy="116.26" r="0.4" fill="#b4b4b4"/><circle cx="276.48" cy="112.79" r="0.4" fill="#848484"/><circle cx="287.72" cy="100.84" r="0.4" fill="#bdbdbd"/><circle cx="273.78" cy="103.30" r="0.4" fill="#bdbdbd"/><circle cx="280.95" cy="109.51" r="0.4" fill="#848484"/><circle cx="283.29" cy="95.92" r="0.4" fill="#848484"/><circle cx="272.10" cy="115.23" r="0.4" fill="#b4b4b4"/><circle cx="268.50" cy="115.16" r="0.4" fill="#bdbdbd"/><circle cx="278.90" cy="98.27" r="0.4" fill="#b4b4b4"/><circle cx="283.13" cy="101.58" r="0.4" fill="#b4b4b4"/><circle cx="261.52" cy="109.68" r="0.4" fill="#b4b4b4"/><circle cx="254.64" cy="102.84" r="0.4" fill="#b4b4b4"/><circle cx="247.65" cy="99.28" r="0.4" fill="#848484"/><circle cx="248.14" cy="99.82" r="0.4" fill="#bdbdbd"/><circle cx="247.00" cy="99.26" r="0.4" fill="#b4b4b4"/><circle cx="252.58" cy="102.46" r="0.4" fill="#b4b4b4"/><circle cx="278.61" cy="110.79" r="0.4" fill="#bdbdbd"/><circle cx="281.41" cy="104.90" r="0.4" fill="#848484"/><circle cx="265.34" cy="116.66" r="0.4" fill="#b4b4b4"/><circle cx="271.67" cy="107.72" r="0.4" fill="#b4b4b4"/><circle cx="270.65" cy="110.05" r="0.4" fill="#848484"/><circle cx="284.88" cy="96.53" r="0.4" fill="#b4b4b4"/><circle cx="255.91" cy="111.54" r="0.4" fill="#bdbdbd"/><circle cx="253.44" cy="109.86" r="0.4" fill="#b4b4b4"/><circle cx="283.45" cy="96.76" r="0.4" fill="#848484"/><circle cx="284.43" cy="101.86" r="0.4" fill="#848484"/><circle cx="272.40" cy="111.38" r="0.4" fill="#848484"/><circle cx="280.93" cy="101.83" r="0.4" fill="#bdbdbd"/><circle cx="276.64" cy="107.77" r="0.4" fill="#b4b4b4"/><circle cx="265.91" cy="117.35" r="0.4" fill="#848484"/><circle cx="259.37" cy="111.69" r="0.4" fill="#b4b4b4"/><circle cx="276.61" cy="103.75" r="0.4" fill="#bdbdbd"/><circle cx="272.58" cy="116.41" r="0.4" fill="#848484"/><circle cx="271.64" cy="116.39" r="0.4" fill="#b4b4b4"/><circle cx="275.50" cy="115.36" r="0.4" fill="#b4b4b4"/><circle cx="251.07" cy="98.18" r="0.4" fill="#bdbdbd"/><circle cx="250.57" cy="104.12" r="0.4" fill="#848484"/><circle cx="248.90" cy="106.79" r="0.4" fill="#b4b4b4"/><circle cx="286.43" cy="97.96" r="0.4" fill="#b4b4b4"/><circle cx="286.86" cy="99.83" r="0.4" fill="#b4b4b4"/><circle cx="280.90" cy="104.09" r="0.4" fill="#848484"/><circle cx="245.48" cy="101.29" r="0.4" fill="#b4b4b4"/><circle cx="280.99" cy="98.32" r="0.4" fill="#bdbdbd"/><circle cx="277.06" cy="106.87" r="0.4" fill="#848484"/><circle cx="256.29" cy="109.09" r="0.4" fill="#848484"/><circle cx="280.18" cy="110.41" r="0.4" fill="#b4b4b4"/><circle cx="251.85" cy="104.04" r="0.4" fill="#b4b4b4"/><circle cx="276.35" cy="114.45" r="0.4" fill="#848484"/><circle cx="282.50" cy="98.30" r="0.4" fill="#848484"/><circle cx="269.15" cy="116.89" r="0.4" fill="#848484"/><circle cx="260.63" cy="111.53" r="0.4" fill="#bdbdbd"/><circle cx="287.02" cy="102.44" r="0.4" fill="#b4b4b4"/><circle cx="263.44" cy="114.80" r="0.4" fill="#b4b4b4"/><circle cx="245.27" cy="97.37" r="0.4" fill="#bdbdbd"/><circle cx="254.79" cy="107.44" r="0.4" fill="#bdbdbd"/><circle cx="254.40" cy="112.30" r="0.4" fill="#bdbdbd"/><circle cx="256.00" cy="105.04" r="0.4" fill="#b4b4b4"/><circle cx="259.68" cy="111.08" r="0.4" fill="#b4b4b4"/><circle cx="277.58" cy="103.65" r="0.4" fill="#b4b4b4"/><circle cx="244.86" cy="95.64" r="0.4" fill="#bdbdbd"/><circle cx="256.99" cy="108.94" r="0.4" fill="#848484"/><circle cx="251.20" cy="102.87" r="0.4" fill="#b4b4b4"/><circle cx="257.40" cy="105.64" r="0.4" fill="#bdbdbd"/><circle cx="249.31" cy="100.02" r="0.4" fill="#848484"/><circle cx="282.91" cy="99.31" r="0.4" fill="#848484"/><circle cx="277.41" cy="104.87" r="0.4" fill="#bdbdbd"/><circle cx="281.12" cy="104.64" r="0.4" fill="#848484"/><circle cx="278.72" cy="112.82" r="0.4" fill="#848484"/><circle cx="245.28" cy="95.66" r="0.4" fill="#848484"/><circle cx="286.01" cy="104.88" r="0.4" fill="#bdbdbd"/><circle cx="255.33" cy="105.38" r="0.4" fill="#848484"/><circle cx="268.01" cy="115.45" r="0.4" fill="#848484"/><circle cx="263.11" cy="116.05" r="0.4" fill="#b4b4b4"/><circle cx="284.47" cy="101.28" r="0.4" fill="#bdbdbd"/><circle cx="280.65" cy="96.28" r="0.4" fill="#b4b4b4"/><circle cx="275.40" cy="109.06" r="0.4" fill="#848484"/><circle cx="268.36" cy="114.64" r="0.4" fill="#bdbdbd"/><circle cx="257.99" cy="112.28" r="0.4" fill="#bdbdbd"/><circle cx="274.18" cy="107.58" r="0.4" fill="#b4b4b4"/><circle cx="256.26" cy="106.38" r="0.4" fill="#848484"/><circle cx="274.66" cy="109.60" r="0.4" fill="#b4b4b4"/><circle cx="281.58" cy="98.31" r="0.4" fill="#848484"/><circle cx="248.66" cy="101.79" r="0.4" fill="#bdbdbd"/><circle cx="284.94" cy="99.89" r="0.4" fill="#bdbdbd"/><circle cx="263.55" cy="115.30" r="0.4" fill="#848484"/><circle cx="261.48" cy="115.97" r="0.4" fill="#848484"/><circle cx="264.30" cy="113.59" r="0.4" fill="#848484"/><circle cx="248.72" cy="104.86" r="0.4" fill="#848484"/><circle cx="279.96" cy="98.47" r="0.4" fill="#bdbdbd"/><circle cx="251.90" cy="102.58" r="0.4" fill="#bdbdbd"/><circle cx="249.24" cy="96.03" r="0.4" fill="#bdbdbd"/><circle cx="253.07" cy="102.90" r="0.4" fill="#b4b4b4"/><circle cx="277.04" cy="97.35" r="0.4" fill="#b4b4b4"/><circle cx="255.69" cy="113.12" r="0.4" fill="#bdbdbd"/><circle cx="283.65" cy="108.74" r="0.4" fill="#bdbdbd"/><circle cx="268.54" cy="114.33" r="0.4" fill="#b4b4b4"/><circle cx="247.06" cy="104.57" r="0.4" fill="#848484"/><circle cx="267.63" cy="117.10" r="0.4" fill="#848484"/><circle cx="281.26" cy="103.98" r="0.4" fill="#848484"/><circle cx="252.41" cy="101.35" r="0.4" fill="#b4b4b4"/><circle cx="266.20" cy="115.97" r="0.4" fill="#b4b4b4"/><circle cx="282.70" cy="101.87" r="0.4" fill="#bdbdbd"/><circle cx="281.70" cy="107.00" r="0.4" fill="#848484"/><circle cx="256.05" cy="107.51" r="0.4" fill="#bdbdbd"/><circle cx="272.61" cy="112.45" r="0.4" fill="#b4b4b4"/><circle cx="253.50" cy="103.55" r="0.4" fill="#bdbdbd"/><circle cx="248.13" cy="100.15" r="0.4" fill="#bdbdbd"/><circle cx="287.91" cy="99.33" r="0.4" fill="#b4b4b4"/><circle cx="276.07" cy="114.85" r="0.4" fill="#bdbdbd"/><circle cx="276.24" cy="103.66" r="0.4" fill="#848484"/><circle cx="279.04" cy="98.93" r="0.4" fill="#848484"/><circle cx="248.67" cy="106.66" r="0.4" fill="#b4b4b4"/><circle cx="277.91" cy="107.13" r="0.4" fill="#848484"/><circle cx="283.05" cy="106.01" r="0.4" fill="#b4b4b4"/><circle cx="262.48" cy="112.28" r="0.4" fill="#848484"/><circle cx="284.49" cy="100.26" r="0.4" fill="#b4b4b4"/><circle cx="252.15" cy="109.43" r="0.4" fill="#bdbdbd"/><circle cx="255.92" cy="113.60" r="0.4" fill="#b4b4b4"/><circle cx="248.61" cy="102.17" r="0.4" fill="#bdbdbd"/><circle cx="246.96" cy="102.28" r="0.4" fill="#b4b4b4"/><circle cx="273.95" cy="115.37" r="0.4" fill="#bdbdbd"/><circle cx="280.46" cy="105.31" r="0.4" fill="#848484"/><circle cx="250.72" cy="101.30" r="0.4" fill="#b4b4b4"/><circle cx="255.61" cy="106.71" r="0.4" fill="#bdbdbd"/><circle cx="279.83" cy="111.05" r="0.4" fill="#bdbdbd"/><circle cx="245.18" cy="101.19" r="0.4" fill="#b4b4b4"/><circle cx="249.86" cy="98.22" r="0.4" fill="#b4b4b4"/><circle cx="277.70" cy="102.88" r="0.4" fill="#bdbdbd"/><circle cx="243.28" cy="95.54" r="0.4" fill="#b4b4b4"/><circle cx="252.08" cy="110.22" r="0.4" fill="#bdbdbd"/><circle cx="278.51" cy="106.12" r="0.4" fill="#bdbdbd"/><circle cx="287.49" cy="96.93" r="0.4" fill="#bdbdbd"/><circle cx="274.87" cy="113.81" r="0.4" fill="#b4b4b4"/><circle cx="257.53" cy="112.36" r="0.4" fill="#b4b4b4"/><circle cx="259.49" cy="110.85" r="0.4" fill="#848484"/><circle cx="273.16" cy="111.94" r="0.4" fill="#bdbdbd"/><circle cx="249.21" cy="96.57" r="0.4" fill="#bdbdbd"/><circle cx="254.44" cy="112.68" r="0.4" fill="#b4b4b4"/><circle cx="278.09" cy="98.24" r="0.4" fill="#bdbdbd"/><circle cx="275.10" cy="110.78" r="0.4" fill="#bdbdbd"/><circle cx="272.68" cy="115.74" r="0.4" fill="#848484"/><circle cx="277.14" cy="97.72" r="0.4" fill="#b4b4b4"/><circle cx="244.93" cy="98.25" r="0.4" fill="#b4b4b4"/><circle cx="251.20" cy="108.37" r="0.4" fill="#848484"/><circle cx="275.09" cy="108.24" r="0.4" fill="#848484"/><circle cx="273.47" cy="113.27" r="0.4" fill="#bdbdbd"/><circle cx="264.89" cy="115.63" r="0.4" fill="#848484"/><circle cx="264.24" cy="113.97" r="0.4" fill="#848484"/><circle cx="281.54" cy="99.14" r="0.4" fill="#b4b4b4"/><circle cx="275.61" cy="114.87" r="0.4" fill="#b4b4b4"/><circle cx="277.82" cy="107.94" r="0.4" fill="#b4b4b4"/><circle cx="251.04" cy="101.14" r="0.4" fill="#848484"/><circle cx="283.33" cy="96.76" r="0.4" fill="#bdbdbd"/><circle cx="283.25" cy="99.39" r="0.4" fill="#bdbdbd"/><circle cx="281.84" cy="107.37" r="0.4" fill="#b4b4b4"/><circle cx="265.27" cy="117.07" r="0.4" fill="#b4b4b4"/><circle cx="247.26" cy="102.14" r="0.4" fill="#848484"/><circle cx="279.05" cy="99.22" r="0.4" fill="#848484"/><circle cx="279.19" cy="104.23" r="0.4" fill="#b4b4b4"/><circle cx="272.41" cy="108.54" r="0.4" fill="#bdbdbd"/><circle cx="256.97" cy="107.76" r="0.4" fill="#848484"/><circle cx="246.73" cy="97.26" r="0.4" fill="#bdbdbd"/><circle cx="271.95" cy="108.32" r="0.4" fill="#848484"/><circle cx="248.00" cy="98.83" r="0.4" fill="#bdbdbd"/><circle cx="255.21" cy="113.18" r="0.4" fill="#b4b4b4"/><circle cx="268.50" cy="116.76" r="0.4" fill="#b4b4b4"/><circle cx="286.83" cy="97.63" r="0.4" fill="#848484"/><circle cx="266.64" cy="117.05" r="0.4" fill="#848484"/><circle cx="283.63" cy="104.49" r="0.4" fill="#b4b4b4"/><circle cx="282.75" cy="105.76" r="0.4" fill="#b4b4b4"/><circle cx="248.30" cy="101.41" r="0.4" fill="#bdbdbd"/><circle cx="283.79" cy="102.51" r="0.4" fill="#848484"/><circle cx="265.10" cy="114.63" r="0.4" fill="#848484"/><circle cx="246.14" cy="102.61" r="0.4" fill="#b4b4b4"/><circle cx="279.12" cy="110.64" r="0.4" fill="#848484"/><circle cx="253.03" cy="106.50" r="0.4" fill="#b4b4b4"/><circle cx="251.84" cy="103.76" r="0.4" fill="#bdbdbd"/><circle cx="279.36" cy="105.20" r="0.4" fill="#848484"/><circle cx="252.30" cy="98.97" r="0.4" fill="#848484"/><circle cx="285.14" cy="100.94" r="0.4" fill="#b4b4b4"/><circle cx="286.87" cy="95.52" r="0.4" fill="#848484"/><circle cx="285.67" cy="105.60" r="0.4" fill="#b4b4b4"/><circle cx="275.57" cy="114.66" r="0.4" fill="#848484"/><circle cx="262.02" cy="110.85" r="0.4" fill="#b4b4b4"/><circle cx="281.78" cy="110.08" r="0.4" fill="#b4b4b4"/><circle cx="279.63" cy="107.92" r="0.4" fill="#848484"/><circle cx="287.45" cy="99.87" r="0.4" fill="#b4b4b4"/><circle cx="287.34" cy="102.18" r="0.4" fill="#848484"/><circle cx="248.02" cy="102.46" r="0.4" fill="#848484"/><circle cx="252.73" cy="110.12" r="0.4" fill="#b4b4b4"/><circle cx="283.52" cy="100.15" r="0.4" fill="#848484"/><circle cx="284.90" cy="102.91" r="0.4" fill="#bdbdbd"/><circle cx="248.68" cy="103.86" r="0.4" fill="#b4b4b4"/><circle cx="280.12" cy="112.18" r="0.4" fill="#bdbdbd"/><circle cx="245.12" cy="97.97" r="0.4" fill="#bdbdbd"/><circle cx="281.07" cy="110.86" r="0.4" fill="#b4b4b4"/><circle cx="246.36" cy="99.35" r="0.4" fill="#bdbdbd"/><circle cx="269.04" cy="114.52" r="0.4" fill="#bdbdbd"/><circle cx="279.78" cy="112.85" r="0.4" fill="#848484"/><circle cx="276.01" cy="99.04" r="0.4" fill="#bdbdbd"/><circle cx="276.73" cy="113.86" r="0.4" fill="#bdbdbd"/><circle cx="280.33" cy="103.87" r="0.4" fill="#bdbdbd"/><circle cx="277.51" cy="101.75" r="0.4" fill="#b4b4b4"/><circle cx="254.15" cy="106.54" r="0.4" fill="#848484"/><circle cx="283.53" cy="96.87" r="0.4" fill="#848484"/><circle cx="278.75" cy="106.93" r="0.4" fill="#848484"/><circle cx="284.52" cy="99.14" r="0.4" fill="#b4b4b4"/><circle cx="280.65" cy="108.54" r="0.4" fill="#b4b4b4"/><circle cx="287.48" cy="101.27" r="0.4" fill="#848484"/><circle cx="274.22" cy="109.48" r="0.4" fill="#b4b4b4"/><circle cx="248.73" cy="104.76" r="0.4" fill="#bdbdbd"/><circle cx="271.42" cy="113.06" r="0.4" fill="#b4b4b4"/><circle cx="280.10" cy="103.70" r="0.4" fill="#848484"/><circle cx="282.49" cy="96.85" r="0.4" fill="#bdbdbd"/><circle cx="286.25" cy="95.92" r="0.4" fill="#848484"/><circle cx="250.30" cy="97.42" r="0.4" fill="#b4b4b4"/><circle cx="256.46" cy="105.37" r="0.4" fill="#bdbdbd"/><circle cx="253.44" cy="105.50" r="0.4" fill="#b4b4b4"/><circle cx="275.40" cy="108.14" r="0.4" fill="#b4b4b4"/><circle cx="281.45" cy="99.23" r="0.4" fill="#bdbdbd"/><circle cx="271.76" cy="111.53" r="0.4" fill="#848484"/><circle cx="256.45" cy="104.76" r="0.4" fill="#b4b4b4"/><circle cx="269.75" cy="115.34" r="0.4" fill="#848484"/><circle cx="282.52" cy="104.23" r="0.4" fill="#848484"/><circle cx="282.22" cy="100.55" r="0.4" fill="#848484"/><circle cx="253.65" cy="112.12" r="0.4" fill="#bdbdbd"/><circle cx="246.01" cy="95.66" r="0.4" fill="#bdbdbd"/><circle cx="274.10" cy="109.92" r="0.4" fill="#848484"/><circle cx="275.94" cy="113.30" r="0.4" fill="#bdbdbd"/><circle cx="258.93" cy="112.45" r="0.4" fill="#b4b4b4"/><circle cx="282.59" cy="95.42" r="0.4" fill="#bdbdbd"/><circle cx="286.66" cy="95.74" r="0.4" fill="#848484"/><circle cx="272.72" cy="112.04" r="0.4" fill="#bdbdbd"/><circle cx="255.45" cy="113.43" r="0.4" fill="#848484"/><circle cx="286.45" cy="101.13" r="0.4" fill="#848484"/><circle cx="266.15" cy="117.29" r="0.4" fill="#848484"/><circle cx="248.82" cy="97.44" r="0.4" fill="#bdbdbd"/><circle cx="269.72" cy="112.88" r="0.4" fill="#848484"/><circle cx="245.96" cy="96.19" r="0.4" fill="#848484"/><circle cx="277.31" cy="97.87" r="0.4" fill="#848484"/><circle cx="282.13" cy="99.22" r="0.4" fill="#848484"/><circle cx="282.66" cy="101.85" r="0.4" fill="#b4b4b4"/><circle cx="279.24" cy="105.52" r="0.4" fill="#b4b4b4"/><circle cx="259.85" cy="113.36" r="0.4" fill="#848484"/><circle cx="280.64" cy="110.16" r="0.4" fill="#bdbdbd"/><circle cx="253.36" cy="110.31" r="0.4" fill="#848484"/><circle cx="246.54" cy="101.98" r="0.4" fill="#b4b4b4"/><circle cx="278.34" cy="104.24" r="0.4" fill="#b4b4b4"/><circle cx="277.68" cy="95.56" r="0.4" fill="#848484"/><circle cx="243.93" cy="95.97" r="0.4" fill="#b4b4b4"/><circle cx="248.41" cy="100.31" r="0.4" fill="#848484"/><circle cx="254.07" cy="112.93" r="0.4" fill="#bdbdbd"/><circle cx="255.19" cy="109.59" r="0.4" fill="#bdbdbd"/><circle cx="287.79" cy="96.04" r="0.4" fill="#bdbdbd"/><circle cx="276.98" cy="105.68" r="0.4" fill="#b4b4b4"/><circle cx="278.88" cy="103.76" r="0.4" fill="#b4b4b4"/><circle cx="249.02" cy="104.45" r="0.4" fill="#848484"/><circle cx="264.08" cy="114.55" r="0.4" fill="#bdbdbd"/><circle cx="258.51" cy="109.21" r="0.4" fill="#bdbdbd"/><circle cx="278.99" cy="98.71" r="0.4" fill="#848484"/><circle cx="254.19" cy="101.14" r="0.4" fill="#b4b4b4"/><circle cx="277.14" cy="112.47" r="0.4" fill="#b4b4b4"/><circle cx="249.17" cy="106.87" r="0.4" fill="#b4b4b4"/><circle cx="277.53" cy="110.06" r="0.4" fill="#bdbdbd"/><circle cx="255.18" cy="108.76" r="0.4" fill="#bdbdbd"/><circle cx="248.99" cy="105.50" r="0.4" fill="#b4b4b4"/><circle cx="277.46" cy="101.49" r="0.4" fill="#848484"/><circle cx="248.48" cy="95.80" r="0.4" fill="#b4b4b4"/><circle cx="252.83" cy="105.38" r="0.4" fill="#b4b4b4"/><circle cx="258.18" cy="112.11" r="0.4" fill="#bdbdbd"/><circle cx="281.02" cy="107.50" r="0.4" fill="#b4b4b4"/><circle cx="287.67" cy="99.29" r="0.4" fill="#bdbdbd"/><circle cx="279.35" cy="108.46" r="0.4" fill="#bdbdbd"/><circle cx="252.54" cy="102.91" r="0.4" fill="#848484"/><circle cx="277.47" cy="109.57" r="0.4" fill="#bdbdbd"/><circle cx="276.86" cy="110.14" r="0.4" fill="#848484"/><circle cx="254.96" cy="110.85" r="0.4" fill="#848484"/><circle cx="272.40" cy="106.62" r="0.4" fill="#848484"/><circle cx="278.10" cy="107.96" r="0.4" fill="#b4b4b4"/><circle cx="254.82" cy="102.83" r="0.4" fill="#b4b4b4"/><circle cx="256.02" cy="112.70" r="0.4" fill="#848484"/><circle cx="248.24" cy="96.39" r="0.4" fill="#848484"/><circle cx="275.97" cy="105.55" r="0.4" fill="#848484"/><circle cx="272.69" cy="115.49" r="0.4" fill="#bdbdbd"/><circle cx="276.91" cy="105.10" r="0.4" fill="#848484"/><circle cx="282.85" cy="107.19" r="0.4" fill="#848484"/><circle cx="252.12" cy="109.82" r="0.4" fill="#848484"/><circle cx="255.61" cy="110.69" r="0.4" fill="#bdbdbd"/><circle cx="259.77" cy="108.74" r="0.4" fill="#bdbdbd"/><circle cx="248.04" cy="103.43" r="0.4" fill="#b4b4b4"/><circle cx="249.74" cy="96.77" r="0.4" fill="#bdbdbd"/><circle cx="243.49" cy="97.65" r="0.4" fill="#bdbdbd"/><circle cx="272.48" cy="116.88" r="0.4" fill="#bdbdbd"/><circle cx="257.32" cy="110.71" r="0.4" fill="#b4b4b4"/></g>
<path d="M278.49,94.52 278.49,91.88 282.06,84.66 284.24,80.09 287.71,73.05 291.13,68.47 293.20,62.84 297.09,61.08 297.34,66.36 296.57,73.40 294.60,82.20 291.75,94.52Z" fill="#e3141c" stroke="#e3141c" stroke-width="1" stroke-linejoin="round"/>
<g fill="#e3141c"><rect x="303.09" y="23.45" width="2.4" height="2.4" rx="0.5"/><rect x="299.25" y="38.41" width="2.4" height="2.4" rx="0.5"/><rect x="301.58" y="38.41" width="2.4" height="2.4" rx="0.5"/><rect x="297.59" y="45.80" width="2.4" height="2.4" rx="0.5"/><rect x="291.79" y="49.67" width="2.4" height="2.4" rx="0.5"/><rect x="295.78" y="53.19" width="2.4" height="2.4" rx="0.5"/><rect x="296.92" y="55.48" width="2.4" height="2.4" rx="0.5"/><rect x="237.09" y="78.36" width="2.4" height="2.4" rx="0.5"/><rect x="241.24" y="91.21" width="2.4" height="2.4" rx="0.5"/><rect x="243.05" y="90.68" width="2.4" height="2.4" rx="0.5"/><rect x="244.86" y="89.80" width="2.4" height="2.4" rx="0.5"/><rect x="242.53" y="88.39" width="2.4" height="2.4" rx="0.5"/><rect x="244.34" y="87.69" width="2.4" height="2.4" rx="0.5"/><rect x="245.64" y="87.69" width="2.4" height="2.4" rx="0.5"/><rect x="241.50" y="89.80" width="2.4" height="2.4" rx="0.5"/><rect x="278.27" y="87.69" width="2.4" height="2.4" rx="0.5"/><rect x="281.64" y="78.36" width="2.4" height="2.4" rx="0.5"/><rect x="284.75" y="72.20" width="2.4" height="2.4" rx="0.5"/><rect x="288.37" y="66.04" width="2.4" height="2.4" rx="0.5"/><rect x="291.48" y="59.88" width="2.4" height="2.4" rx="0.5"/><rect x="295.32" y="57.77" width="2.4" height="2.4" rx="0.5"/><rect x="293.40" y="59.00" width="2.4" height="2.4" rx="0.5"/><rect x="296.66" y="63.40" width="2.4" height="2.4" rx="0.5"/><rect x="295.89" y="70.44" width="2.4" height="2.4" rx="0.5"/><rect x="294.33" y="55.48" width="2.4" height="2.4" rx="0.5"/></g>
<text x="249" y="26.7" font-family="Liberation Sans, Arial, sans-serif" font-size="7.9" fill="#111">circ0060927</text>
<path d="M293.8,24.7H300" stroke="#222" stroke-width="0.4" stroke-dasharray="0.9 0.5" fill="none"/><path d="M301.6,24.7l-2.2,-1v2z" fill="#222"/>
<text x="216" y="118.70" text-anchor="end" font-family="Liberation Sans, Arial, sans-serif" font-size="3.7" fill="#222">0</text>
<line x1="217.4" y1="117.40" x2="218.4" y2="117.40" stroke="#666" stroke-width="0.35"/>
<text x="216" y="101.10" text-anchor="end" font-family="Liberation Sans, Arial, sans-serif" font-size="3.7" fill="#222">1</text>
<line x1="217.4" y1="99.80" x2="218.4" y2="99.80" stroke="#666" stroke-width="0.35"/>
<text x="216" y="83.50" text-anchor="end" font-family="Liberation Sans, Arial, sans-serif" font-size="3.7" fill="#222">2</text>
<line x1="217.4" y1="82.20" x2="218.4" y2="82.20" stroke="#666" stroke-width="0.35"/>
<text x="216" y="65.90" text-anchor="end" font-family="Liberation Sans, Arial, sans-serif" font-size="3.7" fill="#222">3</text>
<line x1="217.4" y1="64.60" x2="218.4" y2="64.60" stroke="#666" stroke-width="0.35"/>
<text x="216" y="48.30" text-anchor="end" font-family="Liberation Sans, Arial, sans-serif" font-size="3.7" fill="#222">4</text>
<line x1="217.4" y1="47.00" x2="218.4" y2="47.00" stroke="#666" stroke-width="0.35"/>
<text x="216" y="30.70" text-anchor="end" font-family="Liberation Sans, Arial, sans-serif" font-size="3.7" fill="#222">5</text>
<line x1="217.4" y1="29.40" x2="218.4" y2="29.40" stroke="#666" stroke-width="0.35"/>
<text x="216" y="13.10" text-anchor="end" font-family="Liberation Sans, Arial, sans-serif" font-size="3.7" fill="#222">6</text>
<line x1="217.4" y1="11.80" x2="218.4" y2="11.80" stroke="#666" stroke-width="0.35"/>
<text x="228.45" y="126.4" text-anchor="middle" font-family="Liberation Sans, Arial, sans-serif" font-size="3.6" fill="#222">-7.5</text>
<line x1="228.45" y1="120.4" x2="228.45" y2="121.4" stroke="#666" stroke-width="0.35"/>
<text x="241.40" y="126.4" text-anchor="middle" font-family="Liberation Sans, Arial, sans-serif" font-size="3.6" fill="#222">-5.0</text>
<line x1="241.40" y1="120.4" x2="241.40" y2="121.4" stroke="#666" stroke-width="0.35"/>
<text x="254.35" y="126.4" text-anchor="middle" font-family="Liberation Sans, Arial, sans-serif" font-size="3.6" fill="#222">-2.5</text>
<line x1="254.35" y1="120.4" x2="254.35" y2="121.4" stroke="#666" stroke-width="0.35"/>
<text x="267.30" y="126.4" text-anchor="middle" font-family="Liberation Sans, Arial, sans-serif" font-size="3.6" fill="#222">0</text>
<line x1="267.30" y1="120.4" x2="267.30" y2="121.4" stroke="#666" stroke-width="0.35"/>
<text x="280.25" y="126.4" text-anchor="middle" font-family="Liberation Sans, Arial, sans-serif" font-size="3.6" fill="#222">2.5</text>
<line x1="280.25" y1="120.4" x2="280.25" y2="121.4" stroke="#666" stroke-width="0.35"/>
<text x="293.20" y="126.4" text-anchor="middle" font-family="Liberation Sans, Arial, sans-serif" font-size="3.6" fill="#222">5.0</text>
<line x1="293.20" y1="120.4" x2="293.20" y2="121.4" stroke="#666" stroke-width="0.35"/>
<text x="306.15" y="126.4" text-anchor="middle" font-family="Liberation Sans, Arial, sans-serif" font-size="3.6" fill="#222">7.5</text>
<line x1="306.15" y1="120.4" x2="306.15" y2="121.4" stroke="#666" stroke-width="0.35"/>
<text x="268.3" y="131" text-anchor="middle" font-family="Liberation Sans, Arial, sans-serif" font-size="4.2" fill="#222" textLength="64">log2(Fold Change)OSCC_vs_OLK</text>
<text transform="translate(211.4,66.7) rotate(-90)" text-anchor="middle" font-family="Liberation Sans, Arial, sans-serif" font-size="4.6" fill="#222" textLength="32">-log10(pvalue)</text>
<text x="195.3" y="142.4" font-family="Liberation Sans, Arial, sans-serif" font-size="6.6" font-weight="bold" fill="#111">C</text>
<path d="M215.3,146.1V217.3H258.1" fill="none" stroke="#1a1a1a" stroke-width="0.8"/>
<line x1="213.70000000000002" y1="217.30" x2="215.3" y2="217.30" stroke="#1a1a1a" stroke-width="0.75"/>
<text x="213.0" y="219.15" text-anchor="end" font-family="Liberation Sans, Arial, sans-serif" font-size="5.5" font-weight="bold" fill="#111">0</text>
<line x1="213.70000000000002" y1="199.70" x2="215.3" y2="199.70" stroke="#1a1a1a" stroke-width="0.75"/>
<text x="213.0" y="201.55" text-anchor="end" font-family="Liberation Sans, Arial, sans-serif" font-size="5.5" font-weight="bold" fill="#111">100</text>
<line x1="213.70000000000002" y1="182.10" x2="215.3" y2="182.10" stroke="#1a1a1a" stroke-width="0.75"/>
<text x="213.0" y="183.95" text-anchor="end" font-family="Liberation Sans, Arial, sans-serif" font-size="5.5" font-weight="bold" fill="#111">200</text>
<line x1="213.70000000000002" y1="164.50" x2="215.3" y2="164.50" stroke="#1a1a1a" stroke-width="0.75"/>
<text x="213.0" y="166.35" text-anchor="end" font-family="Liberation Sans, Arial, sans-serif" font-size="5.5" font-weight="bold" fill="#111">300</text>
<line x1="213.70000000000002" y1="146.90" x2="215.3" y2="146.90" stroke="#1a1a1a" stroke-width="0.75"/>
<text x="213.0" y="148.75" text-anchor="end" font-family="Liberation Sans, Arial, sans-serif" font-size="5.5" font-weight="bold" fill="#111">400</text>
<rect x="218.8" y="153.59" width="5.20" height="63.41" fill="#f0777c"/>
<rect x="227" y="215.54" width="5.90" height="1.46" fill="#79d67b"/>
<rect x="241.1" y="214.66" width="5.60" height="2.34" fill="#f0777c"/>
<line x1="225" y1="217.3" x2="225" y2="219.0" stroke="#1a1a1a" stroke-width="0.75"/>
<line x1="247.8" y1="217.3" x2="247.8" y2="219.0" stroke="#1a1a1a" stroke-width="0.75"/>
<text transform="translate(200.6,182.1) rotate(-90)" text-anchor="middle" font-family="Liberation Sans, Arial, sans-serif" font-size="5.7" font-weight="bold" fill="#111">CircRNA counts</text>
<text x="225.8" y="225.8" text-anchor="middle" font-family="Liberation Sans, Arial, sans-serif" font-size="5.4" font-weight="bold" fill="#111">Known</text>
<text x="248" y="225.8" text-anchor="middle" font-family="Liberation Sans, Arial, sans-serif" font-size="5.4" font-weight="bold" fill="#111">Novel</text>
<rect x="234.3" y="144.9" width="6.5" height="3.1" fill="#f0777c"/><rect x="234.3" y="154.6" width="6.5" height="3.1" fill="#79d67b"/>
<text x="245.5" y="148.8" font-family="Liberation Sans, Arial, sans-serif" font-size="6.1" fill="#222">Up</text><text x="245.5" y="158.5" font-family="Liberation Sans, Arial, sans-serif" font-size="6.1" fill="#222">Down</text>
<text x="265.8" y="141.4" font-family="Liberation Sans, Arial, sans-serif" font-size="6.6" font-weight="bold" fill="#111">D</text>
<path d="M282.9,145.1V212.7H335.1" fill="none" stroke="#1a1a1a" stroke-width="0.8"/>
<line x1="281.29999999999995" y1="212.70" x2="282.9" y2="212.70" stroke="#1a1a1a" stroke-width="0.75"/>
<text x="280.59999999999997" y="214.55" text-anchor="end" font-family="Liberation Sans, Arial, sans-serif" font-size="5.5" font-weight="bold" fill="#111">0</text>
<line x1="281.29999999999995" y1="196.00" x2="282.9" y2="196.00" stroke="#1a1a1a" stroke-width="0.75"/>
<text x="280.59999999999997" y="197.85" text-anchor="end" font-family="Liberation Sans, Arial, sans-serif" font-size="5.5" font-weight="bold" fill="#111">100</text>
<line x1="281.29999999999995" y1="179.30" x2="282.9" y2="179.30" stroke="#1a1a1a" stroke-width="0.75"/>
<text x="280.59999999999997" y="181.15" text-anchor="end" font-family="Liberation Sans, Arial, sans-serif" font-size="5.5" font-weight="bold" fill="#111">200</text>
<line x1="281.29999999999995" y1="162.60" x2="282.9" y2="162.60" stroke="#1a1a1a" stroke-width="0.75"/>
<text x="280.59999999999997" y="164.45" text-anchor="end" font-family="Liberation Sans, Arial, sans-serif" font-size="5.5" font-weight="bold" fill="#111">300</text>
<line x1="281.29999999999995" y1="145.90" x2="282.9" y2="145.90" stroke="#1a1a1a" stroke-width="0.75"/>
<text x="280.59999999999997" y="147.75" text-anchor="end" font-family="Liberation Sans, Arial, sans-serif" font-size="5.5" font-weight="bold" fill="#111">400</text>
<rect x="286.3" y="155.59" width="4.90" height="56.81" fill="#f0777c"/>
<rect x="292.4" y="210.70" width="4.90" height="1.70" fill="#79d67b"/>
<rect x="304.7" y="211.70" width="5.00" height="0.70" fill="#f0777c"/>
<rect x="322.7" y="208.19" width="5.20" height="4.21" fill="#f0777c"/>
<line x1="291.9" y1="212.7" x2="291.9" y2="214.39999999999998" stroke="#1a1a1a" stroke-width="0.75"/>
<line x1="309.9" y1="212.7" x2="309.9" y2="214.39999999999998" stroke="#1a1a1a" stroke-width="0.75"/>
<line x1="328.3" y1="212.7" x2="328.3" y2="214.39999999999998" stroke="#1a1a1a" stroke-width="0.75"/>
<text transform="translate(269,179.3) rotate(-90)" text-anchor="middle" font-family="Liberation Sans, Arial, sans-serif" font-size="5.7" font-weight="bold" fill="#111">CircRNA counts</text>
<text transform="translate(293.2,216.6) rotate(-48.5)" text-anchor="end" font-family="Liberation Sans, Arial, sans-serif" font-size="5.25" font-weight="bold" fill="#111">exonic</text>
<text transform="translate(311.1,216.6) rotate(-48.5)" text-anchor="end" font-family="Liberation Sans, Arial, sans-serif" font-size="5.25" font-weight="bold" fill="#111">intronic</text>
<text transform="translate(329.6,216.6) rotate(-48.5)" text-anchor="end" font-family="Liberation Sans, Arial, sans-serif" font-size="5.25" font-weight="bold" fill="#111">sense overlapping</text>
<rect x="313.3" y="144.5" width="6.7" height="3.1" fill="#f0777c"/><rect x="313.3" y="153.3" width="6.7" height="3.1" fill="#79d67b"/>
<text x="323.6" y="148.3" font-family="Liberation Sans, Arial, sans-serif" font-size="6.1" fill="#222">Up</text><text x="323.6" y="157.1" font-family="Liberation Sans, Arial, sans-serif" font-size="6.1" fill="#222">Down</text>
<text x="25.5" y="252.9" font-family="Liberation Sans, Arial, sans-serif" font-size="6.6" font-weight="bold" fill="#111">E</text>
<rect x="47.00" y="344.34" width="2.35" height="16.96" fill="rgb(236, 72, 24)" stroke="rgb(141, 43, 14)" stroke-width="0.3"/>
<rect x="49.35" y="342.22" width="2.35" height="19.08" fill="rgb(235, 69, 24)" stroke="rgb(141, 41, 14)" stroke-width="0.3"/>
<rect x="51.70" y="317.84" width="2.35" height="43.46" fill="rgb(234, 67, 24)" stroke="rgb(140, 40, 14)" stroke-width="0.3"/>
<rect x="54.05" y="280.74" width="2.35" height="80.56" fill="rgb(233, 64, 25)" stroke="rgb(139, 38, 15)" stroke-width="0.3"/>
<rect x="56.40" y="265.90" width="2.35" height="95.40" fill="rgb(232, 62, 25)" stroke="rgb(139, 37, 15)" stroke-width="0.3"/>
<rect x="58.75" y="304.06" width="2.35" height="57.24" fill="rgb(231, 59, 26)" stroke="rgb(138, 35, 15)" stroke-width="0.3"/>
<rect x="61.10" y="291.34" width="2.35" height="69.96" fill="rgb(231, 57, 26)" stroke="rgb(138, 34, 15)" stroke-width="0.3"/>
<rect x="63.45" y="309.57" width="2.35" height="51.73" fill="rgb(230, 54, 26)" stroke="rgb(138, 32, 15)" stroke-width="0.3"/>
<rect x="65.80" y="321.02" width="2.35" height="40.28" fill="rgb(229, 52, 27)" stroke="rgb(137, 31, 16)" stroke-width="0.3"/>
<rect x="68.15" y="309.57" width="2.35" height="51.73" fill="rgb(228, 49, 27)" stroke="rgb(136, 29, 16)" stroke-width="0.3"/>
<rect x="70.50" y="335.44" width="2.35" height="25.86" fill="rgb(227, 47, 28)" stroke="rgb(136, 28, 16)" stroke-width="0.3"/>
<rect x="72.85" y="340.52" width="2.35" height="20.78" fill="rgb(224, 46, 28)" stroke="rgb(134, 27, 16)" stroke-width="0.3"/>
<rect x="75.20" y="337.56" width="2.35" height="23.74" fill="rgb(220, 44, 29)" stroke="rgb(132, 26, 17)" stroke-width="0.3"/>
<rect x="77.55" y="335.44" width="2.35" height="25.86" fill="rgb(217, 43, 29)" stroke="rgb(130, 25, 17)" stroke-width="0.3"/>
<rect x="79.90" y="344.76" width="2.35" height="16.54" fill="rgb(214, 42, 29)" stroke="rgb(128, 25, 17)" stroke-width="0.3"/>
<rect x="82.25" y="350.91" width="2.35" height="10.39" fill="rgb(210, 40, 30)" stroke="rgb(126, 24, 18)" stroke-width="0.3"/>
<rect x="84.60" y="351.97" width="2.35" height="9.33" fill="rgb(207, 39, 30)" stroke="rgb(124, 23, 18)" stroke-width="0.3"/>
<rect x="86.95" y="346.88" width="2.35" height="14.42" fill="rgb(204, 37, 31)" stroke="rgb(122, 22, 18)" stroke-width="0.3"/>
<rect x="89.30" y="354.09" width="2.35" height="7.21" fill="rgb(200, 36, 31)" stroke="rgb(120, 21, 18)" stroke-width="0.3"/>
<rect x="91.65" y="356.21" width="2.35" height="5.09" fill="rgb(189, 43, 31)" stroke="rgb(113, 25, 18)" stroke-width="0.3"/>
<rect x="94.00" y="348.79" width="2.35" height="12.51" fill="rgb(175, 53, 31)" stroke="rgb(105, 31, 18)" stroke-width="0.3"/>
<rect x="96.35" y="354.09" width="2.35" height="7.21" fill="rgb(160, 62, 30)" stroke="rgb(96, 37, 18)" stroke-width="0.3"/>
<rect x="98.70" y="358.12" width="2.35" height="3.18" fill="rgb(147, 75, 30)" stroke="rgb(88, 45, 18)" stroke-width="0.3"/>
<rect x="101.05" y="354.94" width="2.35" height="6.36" fill="rgb(137, 95, 31)" stroke="rgb(82, 57, 18)" stroke-width="0.3"/>
<rect x="103.40" y="357.06" width="2.35" height="4.24" fill="rgb(127, 115, 31)" stroke="rgb(76, 69, 18)" stroke-width="0.3"/>
<rect x="105.75" y="357.06" width="2.35" height="4.24" fill="rgb(123, 123, 32)" stroke="rgb(73, 73, 19)" stroke-width="0.3"/>
<rect x="108.10" y="359.18" width="2.35" height="2.12" fill="rgb(121, 127, 34)" stroke="rgb(72, 76, 20)" stroke-width="0.3"/>
<rect x="110.45" y="359.18" width="2.35" height="2.12" fill="rgb(118, 132, 35)" stroke="rgb(70, 79, 21)" stroke-width="0.3"/>
<rect x="112.80" y="357.06" width="2.35" height="4.24" fill="rgb(116, 136, 36)" stroke="rgb(69, 81, 21)" stroke-width="0.3"/>
<rect x="115.15" y="359.18" width="2.35" height="2.12" fill="rgb(114, 140, 37)" stroke="rgb(68, 84, 22)" stroke-width="0.3"/>
<rect x="119.85" y="359.18" width="2.35" height="2.12" fill="rgb(110, 149, 39)" stroke="rgb(66, 89, 23)" stroke-width="0.3"/>
<rect x="122.20" y="359.18" width="2.35" height="2.12" fill="rgb(106, 154, 43)" stroke="rgb(63, 92, 25)" stroke-width="0.3"/>
<rect x="129.25" y="359.18" width="2.35" height="2.12" fill="rgb(95, 168, 56)" stroke="rgb(57, 100, 33)" stroke-width="0.3"/>
<rect x="133.95" y="359.60" width="2.35" height="1.70" fill="rgb(88, 177, 64)" stroke="rgb(52, 106, 38)" stroke-width="0.3"/>
<rect x="128.70" y="357.06" width="1.80" height="4.24" fill="rgb(96, 167, 55)" stroke="rgb(57, 100, 33)" stroke-width="0.3"/>
<rect x="137.00" y="346.46" width="2.30" height="14.84" fill="rgb(84, 184, 70)" stroke="rgb(50, 110, 42)" stroke-width="0.3"/>
<rect x="139.30" y="355.36" width="2.10" height="5.94" fill="rgb(82, 184, 72)" stroke="rgb(49, 110, 43)" stroke-width="0.3"/>
<rect x="141.40" y="346.46" width="3.00" height="14.84" fill="rgb(81, 185, 73)" stroke="rgb(48, 111, 43)" stroke-width="0.3"/>
<rect x="144.40" y="354.94" width="2.30" height="6.36" fill="rgb(79, 185, 76)" stroke="rgb(47, 111, 45)" stroke-width="0.3"/>
<rect x="146.70" y="354.94" width="2.10" height="6.36" fill="rgb(78, 186, 78)" stroke="rgb(46, 111, 46)" stroke-width="0.3"/>
<rect x="148.80" y="358.12" width="2.10" height="3.18" fill="rgb(76, 187, 80)" stroke="rgb(45, 112, 48)" stroke-width="0.3"/>
<rect x="151.00" y="352.82" width="2.80" height="8.48" fill="rgb(75, 187, 82)" stroke="rgb(45, 112, 49)" stroke-width="0.3"/>
<rect x="153.80" y="359.18" width="2.30" height="2.12" fill="rgb(73, 188, 84)" stroke="rgb(43, 112, 50)" stroke-width="0.3"/>
<rect x="160.60" y="359.18" width="2.10" height="2.12" fill="rgb(69, 189, 91)" stroke="rgb(41, 113, 54)" stroke-width="0.3"/>
<rect x="162.70" y="357.06" width="2.30" height="4.24" fill="rgb(67, 187, 98)" stroke="rgb(40, 112, 58)" stroke-width="0.3"/>
<rect x="168.00" y="357.06" width="2.40" height="4.24" fill="rgb(63, 183, 116)" stroke="rgb(37, 109, 69)" stroke-width="0.3"/>
<rect x="178.40" y="357.70" width="2.10" height="3.60" fill="rgb(43, 169, 151)" stroke="rgb(25, 101, 90)" stroke-width="0.3"/>
<rect x="180.50" y="354.94" width="2.30" height="6.36" fill="rgb(38, 165, 158)" stroke="rgb(22, 99, 94)" stroke-width="0.3"/>
<rect x="182.80" y="357.06" width="2.10" height="4.24" fill="rgb(32, 161, 166)" stroke="rgb(19, 96, 99)" stroke-width="0.3"/>
<path d="M47,344.5 C52,340.5 62,335.2 76,335.2 C90,335.2 104,343 113,349.5 C121,355.5 126,359.5 131.5,361.2" fill="none" stroke="#3b6fc4" stroke-width="0.6"/>
<path d="M41.4,255.3V361.3" stroke="#555" stroke-width="0.4" fill="none"/>
<line x1="40.2" y1="361.30" x2="41.4" y2="361.30" stroke="#555" stroke-width="0.4"/>
<text x="38.6" y="362.30" text-anchor="end" font-family="Liberation Sans, Arial, sans-serif" font-size="2.8" fill="#333">0</text>
<line x1="40.2" y1="340.10" x2="41.4" y2="340.10" stroke="#555" stroke-width="0.4"/>
<text x="38.6" y="341.10" text-anchor="end" font-family="Liberation Sans, Arial, sans-serif" font-size="2.8" fill="#333">10</text>
<line x1="40.2" y1="318.90" x2="41.4" y2="318.90" stroke="#555" stroke-width="0.4"/>
<text x="38.6" y="319.90" text-anchor="end" font-family="Liberation Sans, Arial, sans-serif" font-size="2.8" fill="#333">20</text>
<line x1="40.2" y1="297.70" x2="41.4" y2="297.70" stroke="#555" stroke-width="0.4"/>
<text x="38.6" y="298.70" text-anchor="end" font-family="Liberation Sans, Arial, sans-serif" font-size="2.8" fill="#333">30</text>
<line x1="40.2" y1="276.50" x2="41.4" y2="276.50" stroke="#555" stroke-width="0.4"/>
<text x="38.6" y="277.50" text-anchor="end" font-family="Liberation Sans, Arial, sans-serif" font-size="2.8" fill="#333">40</text>
<line x1="40.2" y1="255.30" x2="41.4" y2="255.30" stroke="#555" stroke-width="0.4"/>
<text x="38.6" y="256.30" text-anchor="end" font-family="Liberation Sans, Arial, sans-serif" font-size="2.8" fill="#333">50</text>
<path d="M42.3,365.7H184.3" stroke="#555" stroke-width="0.4" fill="none"/>
<line x1="42.3" y1="365.7" x2="42.3" y2="367.1" stroke="#555" stroke-width="0.4"/>
<text x="42.3" y="372" text-anchor="middle" font-family="Liberation Sans, Arial, sans-serif" font-size="2.8" fill="#333">0</text>
<line x1="66" y1="365.7" x2="66" y2="367.1" stroke="#555" stroke-width="0.4"/>
<text x="66" y="372" text-anchor="middle" font-family="Liberation Sans, Arial, sans-serif" font-size="2.8" fill="#333">500</text>
<line x1="89.2" y1="365.7" x2="89.2" y2="367.1" stroke="#555" stroke-width="0.4"/>
<text x="89.2" y="372" text-anchor="middle" font-family="Liberation Sans, Arial, sans-serif" font-size="2.8" fill="#333">1000</text>
<line x1="113.3" y1="365.7" x2="113.3" y2="367.1" stroke="#555" stroke-width="0.4"/>
<text x="113.3" y="372" text-anchor="middle" font-family="Liberation Sans, Arial, sans-serif" font-size="2.8" fill="#333">1500</text>
<line x1="137" y1="365.7" x2="137" y2="367.1" stroke="#555" stroke-width="0.4"/>
<text x="137" y="372" text-anchor="middle" font-family="Liberation Sans, Arial, sans-serif" font-size="2.8" fill="#333">2000</text>
<line x1="184.3" y1="365.7" x2="184.3" y2="367.1" stroke="#555" stroke-width="0.4"/>
<text x="184.3" y="372" text-anchor="middle" font-family="Liberation Sans, Arial, sans-serif" font-size="2.8" fill="#333">10000</text>
<text x="115.7" y="379.3" text-anchor="middle" font-family="Liberation Sans, Arial, sans-serif" font-size="3.0" fill="#333">Length of CircRNA</text>
<text transform="translate(30.4,308) rotate(-90)" text-anchor="middle" font-family="Liberation Sans, Arial, sans-serif" font-size="3.05" fill="#333">CircRNA counts</text>
<path d="M47.50,362.6V365.3M47.91,362.6V365.3M48.31,362.6V365.3M48.85,362.6V365.3M49.44,362.6V365.3M49.85,362.6V365.3M50.22,362.6V365.3M50.82,362.6V365.3M51.25,362.6V365.3M51.68,362.6V365.3M52.07,362.6V365.3M52.59,362.6V365.3M53.18,362.6V365.3M53.62,362.6V365.3M54.18,362.6V365.3M54.60,362.6V365.3M55.03,362.6V365.3M55.57,362.6V365.3M56.16,362.6V365.3M56.69,362.6V365.3M57.20,362.6V365.3M57.75,362.6V365.3M58.32,362.6V365.3M58.91,362.6V365.3M59.37,362.6V365.3M59.78,362.6V365.3M60.09,362.6V365.3M60.54,362.6V365.3M60.95,362.6V365.3M61.25,362.6V365.3M61.85,362.6V365.3M62.24,362.6V365.3M62.82,362.6V365.3M63.12,362.6V365.3M63.53,362.6V365.3M64.07,362.6V365.3M64.57,362.6V365.3M65.07,362.6V365.3M65.52,362.6V365.3M65.85,362.6V365.3M66.39,362.6V365.3M66.92,362.6V365.3M67.37,362.6V365.3M67.84,362.6V365.3M68.38,362.6V365.3M68.82,362.6V365.3M69.27,362.6V365.3M69.71,362.6V365.3M70.23,362.6V365.3M70.75,362.6V365.3M71.15,362.6V365.3M71.69,362.6V365.3M72.10,362.6V365.3M72.60,362.6V365.3M73.02,362.6V365.3M73.59,362.6V365.3M74.17,362.6V365.3M74.70,362.6V365.3M75.12,362.6V365.3M75.52,362.6V365.3M75.95,362.6V365.3M76.43,362.6V365.3M76.74,362.6V365.3M77.21,362.6V365.3M77.78,362.6V365.3M78.10,362.6V365.3M78.67,362.6V365.3M79.14,362.6V365.3M79.74,362.6V365.3M80.26,362.6V365.3M80.77,362.6V365.3M81.30,362.6V365.3M81.73,362.6V365.3M82.06,362.6V365.3M83.79,362.6V365.3M85.54,362.6V365.3M87.11,362.6V365.3M88.07,362.6V365.3M89.37,362.6V365.3M90.68,362.6V365.3M91.82,362.6V365.3M93.11,362.6V365.3M94.36,362.6V365.3M96.23,362.6V365.3M97.69,362.6V365.3M99.56,362.6V365.3M101,362.6V365.3M102.5,362.6V365.3M104,362.6V365.3M106,362.6V365.3M108.5,362.6V365.3M111,362.6V365.3M112.5,362.6V365.3M115,362.6V365.3M118,362.6V365.3M128,362.6V365.3M130,362.6V365.3M137.5,362.6V365.3M139,362.6V365.3M141,362.6V365.3M142,362.6V365.3M143,362.6V365.3M144.5,362.6V365.3M146,362.6V365.3M147.5,362.6V365.3M149,362.6V365.3M151,362.6V365.3M152.5,362.6V365.3M154,362.6V365.3M161,362.6V365.3M163,362.6V365.3M165,362.6V365.3M169,362.6V365.3M170.5,362.6V365.3M179,362.6V365.3M181,362.6V365.3M183.5,362.6V365.3" stroke="#111" stroke-width="0.5" fill="none"/>
<text x="195" y="253" font-family="Liberation Sans, Arial, sans-serif" font-size="6.6" font-weight="bold" fill="#111">F</text>
<rect x="195.9" y="272.4" width="5.9" height="5.6" fill="#78c258"/><rect x="195.9" y="278" width="5.9" height="5.8" fill="#f26f73"/>
<text x="204.2" y="276.3" font-family="Liberation Sans, Arial, sans-serif" font-size="3.05" font-weight="bold" fill="#222">down-regulated</text>
<text x="204.2" y="282.6" font-family="Liberation Sans, Arial, sans-serif" font-size="3.05" font-weight="bold" fill="#222">up-regulated</text>
<text x="242" y="253.2" text-anchor="middle" font-family="Liberation Sans, Arial, sans-serif" font-size="5.2" fill="#9a9a9a">Counts</text>
<text x="246" y="265.6" text-anchor="middle" font-family="Liberation Sans, Arial, sans-serif" font-size="5" fill="#a4a4a4">40</text>
<text x="247.5" y="278.6" text-anchor="middle" font-family="Liberation Sans, Arial, sans-serif" font-size="5" fill="#a4a4a4">30</text>
<text x="248.7" y="291.6" text-anchor="middle" font-family="Liberation Sans, Arial, sans-serif" font-size="5" fill="#a4a4a4">20</text>
<text x="250.4" y="303.6" text-anchor="middle" font-family="Liberation Sans, Arial, sans-serif" font-size="5" fill="#a4a4a4">10</text>
<text x="253.4" y="316.1" text-anchor="middle" font-family="Liberation Sans, Arial, sans-serif" font-size="5" fill="#a4a4a4">0</text>
<path d="M262.25,314.50L262.92,266.34A73.17,73.17 0 0 1 277.78,268.08L267.33,315.10A25.00,25.00 0 0 0 262.25,314.50Z" fill="#f26f73"/>
<path d="M262.92,266.34L262.94,265.11A74.40,74.40 0 0 1 278.05,266.87L277.78,268.08A73.17,73.17 0 0 0 262.92,266.34Z" fill="#78c258"/>
<text transform="translate(270.77,263.62) rotate(-83.3)" dy="1.8" font-family="Liberation Sans, Arial, sans-serif" font-size="5.3" font-weight="bold" fill="#222">chr1</text>
<path d="M268.00,315.26L276.75,280.53A60.82,60.82 0 0 1 288.43,284.78L272.81,317.00A25.00,25.00 0 0 0 268.00,315.26Z" fill="#f26f73"/>
<path d="M276.75,280.53L277.35,278.13A63.29,63.29 0 0 1 289.51,282.56L288.43,284.78A60.82,60.82 0 0 0 276.75,280.53Z" fill="#78c258"/>
<text transform="translate(284.23,278.15) rotate(-70.0)" dy="1.8" font-family="Liberation Sans, Arial, sans-serif" font-size="5.3" font-weight="bold" fill="#222">chr2</text>
<path d="M273.43,317.32L292.80,280.06A66.99,66.99 0 0 1 304.24,287.59L277.70,320.13A25.00,25.00 0 0 0 273.43,317.32Z" fill="#f26f73"/>
<path d="M292.80,280.06L293.71,278.31A68.97,68.97 0 0 1 305.49,286.06L304.24,287.59A66.99,66.99 0 0 0 292.80,280.06Z" fill="#78c258"/>
<text transform="translate(300.90,280.21) rotate(-56.7)" dy="1.8" font-family="Liberation Sans, Arial, sans-serif" font-size="5.3" font-weight="bold" fill="#222">chr3</text>
<path d="M278.24,320.58L290.34,306.55A43.53,43.53 0 0 1 296.45,313.02L281.74,324.29A25.00,25.00 0 0 0 278.24,320.58Z" fill="#f26f73"/>
<text transform="translate(295.01,308.26) rotate(-43.3)" dy="1.8" font-family="Liberation Sans, Arial, sans-serif" font-size="5.3" font-weight="bold" fill="#222">chr4</text>
<path d="M282.16,324.85L302.68,310.02A50.32,50.32 0 0 1 307.82,318.93L284.71,329.28A25.00,25.00 0 0 0 282.16,324.85Z" fill="#f26f73"/>
<path d="M302.68,310.02L303.88,309.15A51.80,51.80 0 0 1 309.17,318.32L307.82,318.93A50.32,50.32 0 0 0 302.68,310.02Z" fill="#78c258"/>
<text transform="translate(308.49,312.60) rotate(-30.0)" dy="1.8" font-family="Liberation Sans, Arial, sans-serif" font-size="5.3" font-weight="bold" fill="#222">chr5</text>
<path d="M284.99,329.92L311.23,319.03A53.41,53.41 0 0 1 314.36,329.49L286.46,334.82A25.00,25.00 0 0 0 284.99,329.92Z" fill="#f26f73"/>
<path d="M311.23,319.03L311.68,318.84A53.90,53.90 0 0 1 314.84,329.40L314.36,329.49A53.41,53.41 0 0 0 311.23,319.03Z" fill="#78c258"/>
<text transform="translate(315.45,323.47) rotate(-16.7)" dy="1.8" font-family="Liberation Sans, Arial, sans-serif" font-size="5.3" font-weight="bold" fill="#222">chr6</text>
<path d="M286.58,335.50L304.87,332.54A43.53,43.53 0 0 1 305.38,341.42L286.88,340.61A25.00,25.00 0 0 0 286.58,335.50Z" fill="#f26f73"/>
<path d="M304.87,332.54L305.84,332.38A44.51,44.51 0 0 1 306.37,341.47L305.38,341.42A43.53,43.53 0 0 0 304.87,332.54Z" fill="#78c258"/>
<text transform="translate(308.33,336.80) rotate(-3.3)" dy="1.8" font-family="Liberation Sans, Arial, sans-serif" font-size="5.3" font-weight="bold" fill="#222">chr7</text>
<path d="M286.83,341.30L305.93,342.68A44.14,44.14 0 0 1 304.36,351.57L285.95,346.33A25.00,25.00 0 0 0 286.83,341.30Z" fill="#f26f73"/>
<text transform="translate(307.34,347.51) rotate(10.0)" dy="1.8" font-family="Liberation Sans, Arial, sans-serif" font-size="5.3" font-weight="bold" fill="#222">chr8</text>
<path d="M285.75,347.00L310.49,354.79A50.94,50.94 0 0 1 306.36,364.35L283.72,351.70A25.00,25.00 0 0 0 285.75,347.00Z" fill="#f26f73"/>
<path d="M310.49,354.79L311.66,355.16A52.17,52.17 0 0 1 307.44,364.95L306.36,364.35A50.94,50.94 0 0 0 310.49,354.79Z" fill="#78c258"/>
<text transform="translate(311.64,360.96) rotate(23.3)" dy="1.8" font-family="Liberation Sans, Arial, sans-serif" font-size="5.3" font-weight="bold" fill="#222">chr9</text>
<path d="M283.37,352.30L303.53,364.32A48.47,48.47 0 0 1 297.61,372.26L280.32,356.40A25.00,25.00 0 0 0 283.37,352.30Z" fill="#f26f73"/>
<text transform="translate(302.38,369.64) rotate(36.7)" dy="1.8" font-family="Liberation Sans, Arial, sans-serif" font-size="5.3" font-weight="bold" fill="#222">chr10</text>
<path d="M279.84,356.91L297.04,373.59A48.96,48.96 0 0 1 289.37,380.03L275.93,360.19A25.00,25.00 0 0 0 279.84,356.91Z" fill="#f26f73"/>
<text transform="translate(294.66,378.54) rotate(50.0)" dy="1.8" font-family="Liberation Sans, Arial, sans-serif" font-size="5.3" font-weight="bold" fill="#222">chr11</text>
<path d="M275.34,360.58L287.76,380.05A48.09,48.09 0 0 1 278.98,384.46L270.78,362.87A25.00,25.00 0 0 0 275.34,360.58Z" fill="#f26f73"/>
<text transform="translate(284.38,384.27) rotate(63.3)" dy="1.8" font-family="Liberation Sans, Arial, sans-serif" font-size="5.3" font-weight="bold" fill="#222">chr12</text>
<path d="M270.12,363.11L276.94,382.70A45.75,45.75 0 0 1 267.84,384.86L265.15,364.29A25.00,25.00 0 0 0 270.12,363.11Z" fill="#f26f73"/>
<path d="M276.94,382.70L277.11,383.17A46.24,46.24 0 0 1 267.91,385.35L267.84,384.86A45.75,45.75 0 0 0 276.94,382.70Z" fill="#78c258"/>
<text transform="translate(273.03,386.44) rotate(76.7)" dy="1.8" font-family="Liberation Sans, Arial, sans-serif" font-size="5.3" font-weight="bold" fill="#222">chr13</text>
<path d="M264.46,364.37L266.05,379.85A40.56,40.56 0 0 1 257.75,379.85L259.34,364.37A25.00,25.00 0 0 0 264.46,364.37Z" fill="#f26f73"/>
<text transform="translate(261.90,382.06) rotate(90.0)" dy="1.8" font-family="Liberation Sans, Arial, sans-serif" font-size="5.3" font-weight="bold" fill="#222">chr14</text>
<path d="M258.65,364.29L256.50,380.70A41.55,41.55 0 0 1 248.24,378.74L253.68,363.11A25.00,25.00 0 0 0 258.65,364.29Z" fill="#f26f73"/>
<text transform="translate(251.35,384.02) rotate(-76.7)" dy="1.8" text-anchor="end" font-family="Liberation Sans, Arial, sans-serif" font-size="5.3" font-weight="bold" fill="#222">chr15</text>
<path d="M253.02,362.87L246.44,380.19A43.53,43.53 0 0 1 238.49,376.20L248.46,360.58A25.00,25.00 0 0 0 253.02,362.87Z" fill="#f26f73"/>
<text transform="translate(240.48,382.15) rotate(-63.3)" dy="1.8" text-anchor="end" font-family="Liberation Sans, Arial, sans-serif" font-size="5.3" font-weight="bold" fill="#222">chr16</text>
<path d="M247.87,360.19L235.26,378.80A47.48,47.48 0 0 1 227.82,372.56L243.96,356.91A25.00,25.00 0 0 0 247.87,360.19Z" fill="#f26f73"/>
<path d="M235.26,378.80L234.71,379.62A48.47,48.47 0 0 1 227.12,373.25L227.82,372.56A47.48,47.48 0 0 0 235.26,378.80Z" fill="#78c258"/>
<text transform="translate(228.05,379.84) rotate(-50.0)" dy="1.8" text-anchor="end" font-family="Liberation Sans, Arial, sans-serif" font-size="5.3" font-weight="bold" fill="#222">chr17</text>
<path d="M243.48,356.40L235.29,363.91A36.12,36.12 0 0 1 230.88,357.99L240.43,352.30A25.00,25.00 0 0 0 243.48,356.40Z" fill="#f26f73"/>
<path d="M235.29,363.91L232.38,366.59A40.07,40.07 0 0 1 227.48,360.02L230.88,357.99A36.12,36.12 0 0 0 235.29,363.91Z" fill="#78c258"/>
<text transform="translate(226.39,365.93) rotate(-36.7)" dy="1.8" text-anchor="end" font-family="Liberation Sans, Arial, sans-serif" font-size="5.3" font-weight="bold" fill="#222">chr18</text>
<path d="M240.08,351.70L221.43,362.12A46.37,46.37 0 0 1 217.67,353.42L238.05,347.00A25.00,25.00 0 0 0 240.08,351.70Z" fill="#f26f73"/>
<text transform="translate(215.47,359.53) rotate(-23.3)" dy="1.8" text-anchor="end" font-family="Liberation Sans, Arial, sans-serif" font-size="5.3" font-weight="bold" fill="#222">chr19</text>
<path d="M237.85,346.33L225.50,349.85A37.84,37.84 0 0 1 224.15,342.23L236.97,341.30A25.00,25.00 0 0 0 237.85,346.33Z" fill="#f26f73"/>
<text transform="translate(220.49,346.80) rotate(-10.0)" dy="1.8" text-anchor="end" font-family="Liberation Sans, Arial, sans-serif" font-size="5.3" font-weight="bold" fill="#222">chr20</text>
<path d="M236.92,340.61L233.22,340.77A28.70,28.70 0 0 1 233.56,334.91L237.22,335.50A25.00,25.00 0 0 0 236.92,340.61Z" fill="#f26f73"/>
<text transform="translate(229.05,337.59) rotate(3.3)" dy="1.8" text-anchor="end" font-family="Liberation Sans, Arial, sans-serif" font-size="5.3" font-weight="bold" fill="#222">chr21</text>
<path d="M237.34,334.82L226.91,332.83A35.62,35.62 0 0 1 229.00,325.85L238.81,329.92A25.00,25.00 0 0 0 237.34,334.82Z" fill="#f26f73"/>
<path d="M226.91,332.83L225.70,332.59A36.86,36.86 0 0 1 227.86,325.38L229.00,325.85A35.62,35.62 0 0 0 226.91,332.83Z" fill="#78c258"/>
<text transform="translate(222.57,327.73) rotate(16.7)" dy="1.8" text-anchor="end" font-family="Liberation Sans, Arial, sans-serif" font-size="5.3" font-weight="bold" fill="#222">chr22</text>
<path d="M239.09,329.28L232.32,326.25A32.41,32.41 0 0 1 235.64,320.51L241.64,324.85A25.00,25.00 0 0 0 239.09,329.28Z" fill="#f26f73"/>
<path d="M232.32,326.25L231.42,325.84A33.40,33.40 0 0 1 234.83,319.93L235.64,320.51A32.41,32.41 0 0 0 232.32,326.25Z" fill="#78c258"/>
<text transform="translate(229.34,320.70) rotate(30.0)" dy="1.8" text-anchor="end" font-family="Liberation Sans, Arial, sans-serif" font-size="5.3" font-weight="bold" fill="#222">chrX</text>
<path d="M242.06,324.29L241.67,323.99A25.49,25.49 0 0 1 245.24,320.20L245.56,320.58A25.00,25.00 0 0 0 242.06,324.29Z" fill="#f26f73"/>
<text transform="translate(240.30,319.12) rotate(43.3)" dy="1.8" text-anchor="end" font-family="Liberation Sans, Arial, sans-serif" font-size="5.3" font-weight="bold" fill="#222">chrY</text>
<text transform="translate(279,258.5) rotate(-48)" font-family="Liberation Sans, Arial, sans-serif" font-size="5.2" font-weight="bold" fill="#111"></text>
</svg>
</body></html>
